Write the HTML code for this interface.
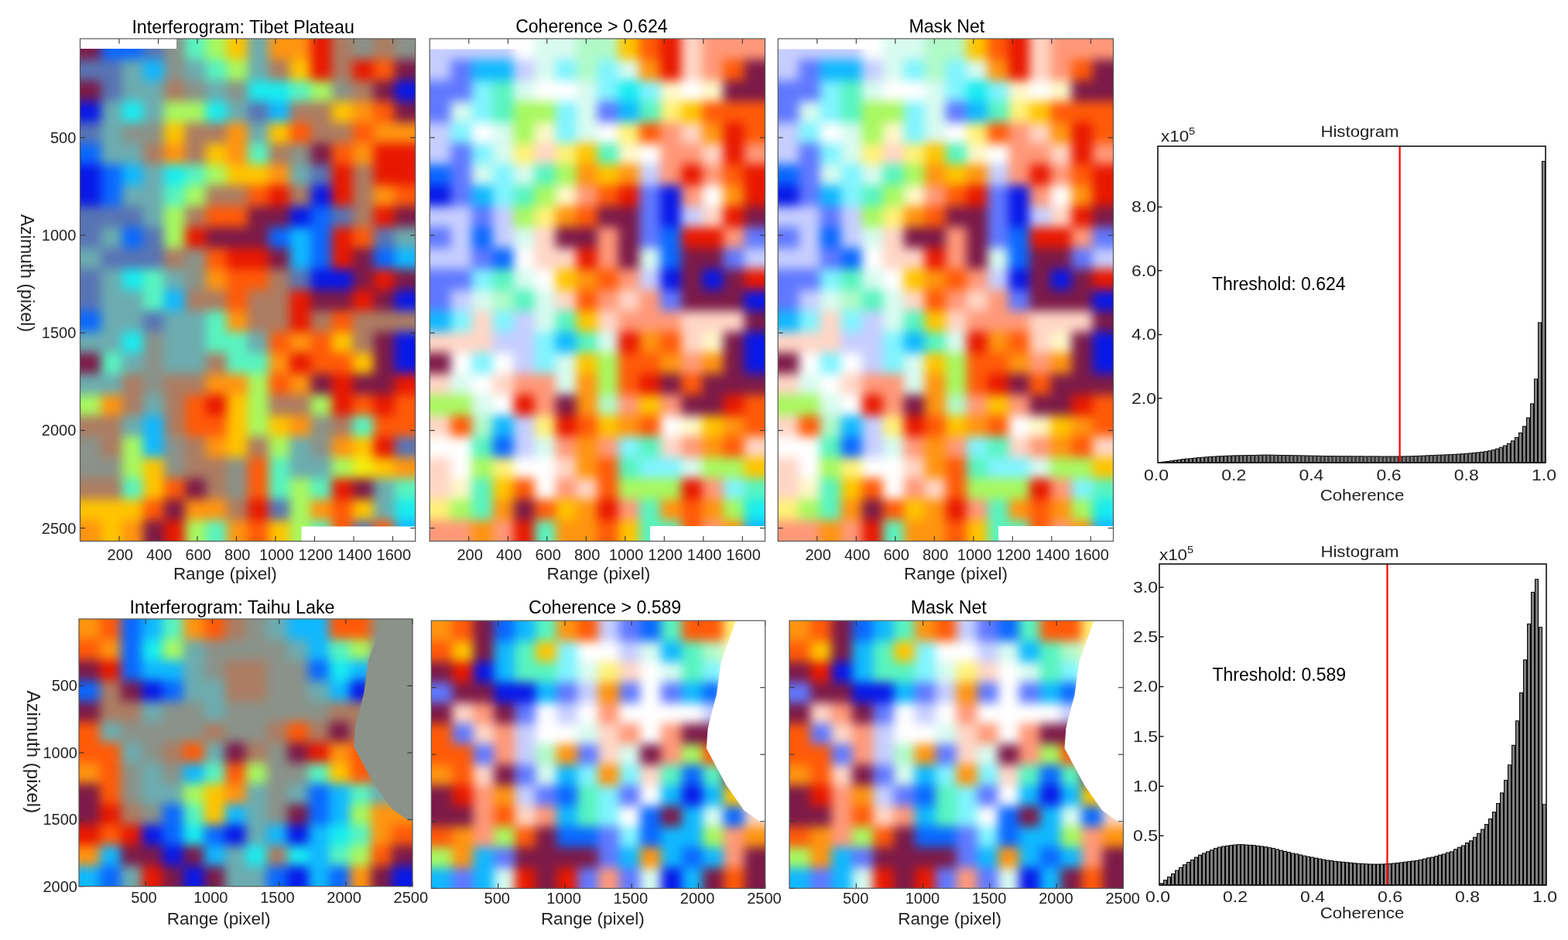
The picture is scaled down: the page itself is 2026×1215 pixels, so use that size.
<!DOCTYPE html><html><head><meta charset="utf-8"><title>Interferogram coherence masks</title><style>html,body{margin:0;padding:0;background:#fff;}body{width:2026px;height:1215px;overflow:hidden;}svg{display:block;}text{font-family:"Liberation Sans", Arial, Helvetica, sans-serif;}</style></head><body>
<svg width="2026" height="1215" viewBox="0 0 2026 1215">
<defs>
<filter id="bl3" x="-5%" y="-5%" width="110%" height="110%" color-interpolation-filters="sRGB"><feGaussianBlur stdDeviation="3"/></filter>
<filter id="bl4" x="-5%" y="-5%" width="110%" height="110%" color-interpolation-filters="sRGB"><feGaussianBlur stdDeviation="4"/></filter>
<filter id="bl5" x="-5%" y="-5%" width="110%" height="110%" color-interpolation-filters="sRGB"><feGaussianBlur stdDeviation="5"/></filter>
<filter id="bl6" x="-5%" y="-5%" width="110%" height="110%" color-interpolation-filters="sRGB"><feGaussianBlur stdDeviation="6"/></filter>
<filter id="bl7" x="-5%" y="-5%" width="110%" height="110%" color-interpolation-filters="sRGB"><feGaussianBlur stdDeviation="7"/></filter>
<filter id="bl8" x="-5%" y="-5%" width="110%" height="110%" color-interpolation-filters="sRGB"><feGaussianBlur stdDeviation="8"/></filter>
<filter id="bl10" x="-5%" y="-5%" width="110%" height="110%" color-interpolation-filters="sRGB"><feGaussianBlur stdDeviation="10"/></filter>
</defs>
<rect width="100%" height="100%" fill="#fff"/>
<clipPath id="clipP1"><rect x="103.5" y="50.0" width="433.20" height="649.50"/></clipPath>
<g clip-path="url(#clipP1)"><g filter="url(#bl7)">
<rect x="22.27" y="-31.19" width="108.90" height="27.66" fill="#7c1a48"/>
<rect x="130.57" y="-31.19" width="54.75" height="27.66" fill="#0a68ff"/>
<rect x="184.73" y="-31.19" width="27.68" height="27.66" fill="#5874b4"/>
<rect x="211.80" y="-31.19" width="27.68" height="27.66" fill="#8a9289"/>
<rect x="238.88" y="-31.19" width="27.68" height="27.66" fill="#58f4c0"/>
<rect x="265.95" y="-31.19" width="27.68" height="27.66" fill="#a8f860"/>
<rect x="293.03" y="-31.19" width="27.68" height="27.66" fill="#ffc400"/>
<rect x="320.10" y="-31.19" width="27.68" height="27.66" fill="#6cacb0"/>
<rect x="347.18" y="-31.19" width="54.75" height="27.66" fill="#ff9410"/>
<rect x="401.33" y="-31.19" width="27.68" height="27.66" fill="#e81800"/>
<rect x="428.40" y="-31.19" width="27.68" height="27.66" fill="#ac7c62"/>
<rect x="455.48" y="-31.19" width="27.68" height="27.66" fill="#8a9289"/>
<rect x="482.55" y="-31.19" width="27.68" height="27.66" fill="#ac7c62"/>
<rect x="509.63" y="-31.19" width="108.90" height="27.66" fill="#8a9289"/>
<rect x="22.27" y="-4.12" width="108.90" height="27.66" fill="#7c1a48"/>
<rect x="130.57" y="-4.12" width="54.75" height="27.66" fill="#0a68ff"/>
<rect x="184.73" y="-4.12" width="27.68" height="27.66" fill="#5874b4"/>
<rect x="211.80" y="-4.12" width="27.68" height="27.66" fill="#8a9289"/>
<rect x="238.88" y="-4.12" width="27.68" height="27.66" fill="#58f4c0"/>
<rect x="265.95" y="-4.12" width="27.68" height="27.66" fill="#a8f860"/>
<rect x="293.03" y="-4.12" width="27.68" height="27.66" fill="#ffc400"/>
<rect x="320.10" y="-4.12" width="27.68" height="27.66" fill="#6cacb0"/>
<rect x="347.18" y="-4.12" width="54.75" height="27.66" fill="#ff9410"/>
<rect x="401.33" y="-4.12" width="27.68" height="27.66" fill="#e81800"/>
<rect x="428.40" y="-4.12" width="27.68" height="27.66" fill="#ac7c62"/>
<rect x="455.48" y="-4.12" width="27.68" height="27.66" fill="#8a9289"/>
<rect x="482.55" y="-4.12" width="27.68" height="27.66" fill="#ac7c62"/>
<rect x="509.63" y="-4.12" width="108.90" height="27.66" fill="#8a9289"/>
<rect x="22.27" y="22.94" width="108.90" height="27.66" fill="#7c1a48"/>
<rect x="130.57" y="22.94" width="54.75" height="27.66" fill="#0a68ff"/>
<rect x="184.73" y="22.94" width="27.68" height="27.66" fill="#5874b4"/>
<rect x="211.80" y="22.94" width="27.68" height="27.66" fill="#8a9289"/>
<rect x="238.88" y="22.94" width="27.68" height="27.66" fill="#58f4c0"/>
<rect x="265.95" y="22.94" width="27.68" height="27.66" fill="#a8f860"/>
<rect x="293.03" y="22.94" width="27.68" height="27.66" fill="#ffc400"/>
<rect x="320.10" y="22.94" width="27.68" height="27.66" fill="#6cacb0"/>
<rect x="347.18" y="22.94" width="54.75" height="27.66" fill="#ff9410"/>
<rect x="401.33" y="22.94" width="27.68" height="27.66" fill="#e81800"/>
<rect x="428.40" y="22.94" width="27.68" height="27.66" fill="#ac7c62"/>
<rect x="455.48" y="22.94" width="27.68" height="27.66" fill="#8a9289"/>
<rect x="482.55" y="22.94" width="27.68" height="27.66" fill="#ac7c62"/>
<rect x="509.63" y="22.94" width="108.90" height="27.66" fill="#8a9289"/>
<rect x="22.27" y="50.00" width="108.90" height="27.66" fill="#7c1a48"/>
<rect x="130.57" y="50.00" width="54.75" height="27.66" fill="#0a68ff"/>
<rect x="184.73" y="50.00" width="27.68" height="27.66" fill="#5874b4"/>
<rect x="211.80" y="50.00" width="27.68" height="27.66" fill="#8a9289"/>
<rect x="238.88" y="50.00" width="27.68" height="27.66" fill="#58f4c0"/>
<rect x="265.95" y="50.00" width="27.68" height="27.66" fill="#a8f860"/>
<rect x="293.03" y="50.00" width="27.68" height="27.66" fill="#ffc400"/>
<rect x="320.10" y="50.00" width="27.68" height="27.66" fill="#6cacb0"/>
<rect x="347.18" y="50.00" width="54.75" height="27.66" fill="#ff9410"/>
<rect x="401.33" y="50.00" width="27.68" height="27.66" fill="#e81800"/>
<rect x="428.40" y="50.00" width="27.68" height="27.66" fill="#ac7c62"/>
<rect x="455.48" y="50.00" width="27.68" height="27.66" fill="#8a9289"/>
<rect x="482.55" y="50.00" width="27.68" height="27.66" fill="#ac7c62"/>
<rect x="509.63" y="50.00" width="108.90" height="27.66" fill="#8a9289"/>
<rect x="22.27" y="77.06" width="135.97" height="27.66" fill="#5874b4"/>
<rect x="157.65" y="77.06" width="27.68" height="27.66" fill="#6cacb0"/>
<rect x="184.73" y="77.06" width="27.68" height="27.66" fill="#10b8ff"/>
<rect x="211.80" y="77.06" width="27.68" height="27.66" fill="#8a9289"/>
<rect x="238.88" y="77.06" width="27.68" height="27.66" fill="#6cacb0"/>
<rect x="265.95" y="77.06" width="27.68" height="27.66" fill="#58f4c0"/>
<rect x="293.03" y="77.06" width="27.68" height="27.66" fill="#a8f860"/>
<rect x="320.10" y="77.06" width="27.68" height="27.66" fill="#6cacb0"/>
<rect x="347.18" y="77.06" width="27.68" height="27.66" fill="#ac7c62"/>
<rect x="374.25" y="77.06" width="27.68" height="27.66" fill="#ffc400"/>
<rect x="401.33" y="77.06" width="27.68" height="27.66" fill="#e81800"/>
<rect x="428.40" y="77.06" width="27.68" height="27.66" fill="#ac7c62"/>
<rect x="455.48" y="77.06" width="27.68" height="27.66" fill="#e81800"/>
<rect x="482.55" y="77.06" width="27.68" height="27.66" fill="#ff5a08"/>
<rect x="509.63" y="77.06" width="108.90" height="27.66" fill="#7c1a48"/>
<rect x="22.27" y="104.12" width="108.90" height="27.66" fill="#7c1a48"/>
<rect x="130.57" y="104.12" width="27.68" height="27.66" fill="#5874b4"/>
<rect x="157.65" y="104.12" width="54.75" height="27.66" fill="#6cacb0"/>
<rect x="211.80" y="104.12" width="27.68" height="27.66" fill="#ac7c62"/>
<rect x="238.88" y="104.12" width="27.68" height="27.66" fill="#8a9289"/>
<rect x="265.95" y="104.12" width="27.68" height="27.66" fill="#6cacb0"/>
<rect x="293.03" y="104.12" width="27.68" height="27.66" fill="#8a9289"/>
<rect x="320.10" y="104.12" width="54.75" height="27.66" fill="#18ecf0"/>
<rect x="374.25" y="104.12" width="27.68" height="27.66" fill="#58f4c0"/>
<rect x="401.33" y="104.12" width="27.68" height="27.66" fill="#a8f860"/>
<rect x="428.40" y="104.12" width="27.68" height="27.66" fill="#8a9289"/>
<rect x="455.48" y="104.12" width="27.68" height="27.66" fill="#ac7c62"/>
<rect x="482.55" y="104.12" width="27.68" height="27.66" fill="#7c1a48"/>
<rect x="509.63" y="104.12" width="108.90" height="27.66" fill="#0818e8"/>
<rect x="22.27" y="131.19" width="108.90" height="27.66" fill="#0818e8"/>
<rect x="130.57" y="131.19" width="27.68" height="27.66" fill="#6cacb0"/>
<rect x="157.65" y="131.19" width="27.68" height="27.66" fill="#18ecf0"/>
<rect x="184.73" y="131.19" width="27.68" height="27.66" fill="#6cacb0"/>
<rect x="211.80" y="131.19" width="54.75" height="27.66" fill="#a8f860"/>
<rect x="265.95" y="131.19" width="27.68" height="27.66" fill="#18ecf0"/>
<rect x="293.03" y="131.19" width="27.68" height="27.66" fill="#6cacb0"/>
<rect x="320.10" y="131.19" width="27.68" height="27.66" fill="#5874b4"/>
<rect x="347.18" y="131.19" width="27.68" height="27.66" fill="#10b8ff"/>
<rect x="374.25" y="131.19" width="54.75" height="27.66" fill="#ac7c62"/>
<rect x="428.40" y="131.19" width="27.68" height="27.66" fill="#ffc400"/>
<rect x="455.48" y="131.19" width="27.68" height="27.66" fill="#ff9410"/>
<rect x="482.55" y="131.19" width="27.68" height="27.66" fill="#ff5a08"/>
<rect x="509.63" y="131.19" width="108.90" height="27.66" fill="#7c1a48"/>
<rect x="22.27" y="158.25" width="108.90" height="27.66" fill="#5874b4"/>
<rect x="130.57" y="158.25" width="27.68" height="27.66" fill="#6cacb0"/>
<rect x="157.65" y="158.25" width="54.75" height="27.66" fill="#8a9289"/>
<rect x="211.80" y="158.25" width="27.68" height="27.66" fill="#ffc400"/>
<rect x="238.88" y="158.25" width="54.75" height="27.66" fill="#ac7c62"/>
<rect x="293.03" y="158.25" width="27.68" height="27.66" fill="#ff9410"/>
<rect x="320.10" y="158.25" width="27.68" height="27.66" fill="#6cacb0"/>
<rect x="347.18" y="158.25" width="27.68" height="27.66" fill="#ffc400"/>
<rect x="374.25" y="158.25" width="27.68" height="27.66" fill="#ff5a08"/>
<rect x="401.33" y="158.25" width="54.75" height="27.66" fill="#ac7c62"/>
<rect x="455.48" y="158.25" width="27.68" height="27.66" fill="#ff5a08"/>
<rect x="482.55" y="158.25" width="135.97" height="27.66" fill="#ff9410"/>
<rect x="22.27" y="185.31" width="108.90" height="27.66" fill="#0a68ff"/>
<rect x="130.57" y="185.31" width="54.75" height="27.66" fill="#6cacb0"/>
<rect x="184.73" y="185.31" width="27.68" height="27.66" fill="#ac7c62"/>
<rect x="211.80" y="185.31" width="27.68" height="27.66" fill="#ff9410"/>
<rect x="238.88" y="185.31" width="27.68" height="27.66" fill="#ac7c62"/>
<rect x="265.95" y="185.31" width="27.68" height="27.66" fill="#ffc400"/>
<rect x="293.03" y="185.31" width="27.68" height="27.66" fill="#ff9410"/>
<rect x="320.10" y="185.31" width="27.68" height="27.66" fill="#58f4c0"/>
<rect x="347.18" y="185.31" width="27.68" height="27.66" fill="#ac7c62"/>
<rect x="374.25" y="185.31" width="27.68" height="27.66" fill="#8a9289"/>
<rect x="401.33" y="185.31" width="27.68" height="27.66" fill="#7c1a48"/>
<rect x="428.40" y="185.31" width="27.68" height="27.66" fill="#ff5a08"/>
<rect x="455.48" y="185.31" width="27.68" height="27.66" fill="#ff9410"/>
<rect x="482.55" y="185.31" width="135.97" height="27.66" fill="#e81800"/>
<rect x="22.27" y="212.38" width="108.90" height="27.66" fill="#0818e8"/>
<rect x="130.57" y="212.38" width="27.68" height="27.66" fill="#0a68ff"/>
<rect x="157.65" y="212.38" width="27.68" height="27.66" fill="#10b8ff"/>
<rect x="184.73" y="212.38" width="27.68" height="27.66" fill="#6cacb0"/>
<rect x="211.80" y="212.38" width="27.68" height="27.66" fill="#18ecf0"/>
<rect x="238.88" y="212.38" width="27.68" height="27.66" fill="#58f4c0"/>
<rect x="265.95" y="212.38" width="27.68" height="27.66" fill="#a8f860"/>
<rect x="293.03" y="212.38" width="54.75" height="27.66" fill="#ffc400"/>
<rect x="347.18" y="212.38" width="27.68" height="27.66" fill="#ff9410"/>
<rect x="374.25" y="212.38" width="27.68" height="27.66" fill="#6cacb0"/>
<rect x="401.33" y="212.38" width="27.68" height="27.66" fill="#5874b4"/>
<rect x="428.40" y="212.38" width="27.68" height="27.66" fill="#e81800"/>
<rect x="455.48" y="212.38" width="27.68" height="27.66" fill="#ac7c62"/>
<rect x="482.55" y="212.38" width="135.97" height="27.66" fill="#e81800"/>
<rect x="22.27" y="239.44" width="108.90" height="27.66" fill="#0818e8"/>
<rect x="130.57" y="239.44" width="27.68" height="27.66" fill="#0a68ff"/>
<rect x="157.65" y="239.44" width="54.75" height="27.66" fill="#6cacb0"/>
<rect x="211.80" y="239.44" width="27.68" height="27.66" fill="#58f4c0"/>
<rect x="238.88" y="239.44" width="27.68" height="27.66" fill="#a8f860"/>
<rect x="265.95" y="239.44" width="54.75" height="27.66" fill="#ac7c62"/>
<rect x="320.10" y="239.44" width="27.68" height="27.66" fill="#ff5a08"/>
<rect x="347.18" y="239.44" width="27.68" height="27.66" fill="#e81800"/>
<rect x="374.25" y="239.44" width="27.68" height="27.66" fill="#ac7c62"/>
<rect x="401.33" y="239.44" width="27.68" height="27.66" fill="#0818e8"/>
<rect x="428.40" y="239.44" width="27.68" height="27.66" fill="#e81800"/>
<rect x="455.48" y="239.44" width="27.68" height="27.66" fill="#ac7c62"/>
<rect x="482.55" y="239.44" width="27.68" height="27.66" fill="#ff9410"/>
<rect x="509.63" y="239.44" width="108.90" height="27.66" fill="#ff5a08"/>
<rect x="22.27" y="266.50" width="163.05" height="27.66" fill="#5874b4"/>
<rect x="184.73" y="266.50" width="27.68" height="27.66" fill="#6cacb0"/>
<rect x="211.80" y="266.50" width="27.68" height="27.66" fill="#a8f860"/>
<rect x="238.88" y="266.50" width="27.68" height="27.66" fill="#ac7c62"/>
<rect x="265.95" y="266.50" width="54.75" height="27.66" fill="#ff5a08"/>
<rect x="320.10" y="266.50" width="54.75" height="27.66" fill="#7c1a48"/>
<rect x="374.25" y="266.50" width="27.68" height="27.66" fill="#0818e8"/>
<rect x="401.33" y="266.50" width="27.68" height="27.66" fill="#0a68ff"/>
<rect x="428.40" y="266.50" width="27.68" height="27.66" fill="#5874b4"/>
<rect x="455.48" y="266.50" width="27.68" height="27.66" fill="#ac7c62"/>
<rect x="482.55" y="266.50" width="27.68" height="27.66" fill="#e81800"/>
<rect x="509.63" y="266.50" width="108.90" height="27.66" fill="#7c1a48"/>
<rect x="22.27" y="293.56" width="108.90" height="27.66" fill="#5874b4"/>
<rect x="130.57" y="293.56" width="27.68" height="27.66" fill="#6cacb0"/>
<rect x="157.65" y="293.56" width="27.68" height="27.66" fill="#0a68ff"/>
<rect x="184.73" y="293.56" width="27.68" height="27.66" fill="#5874b4"/>
<rect x="211.80" y="293.56" width="27.68" height="27.66" fill="#a8f860"/>
<rect x="238.88" y="293.56" width="27.68" height="27.66" fill="#e81800"/>
<rect x="265.95" y="293.56" width="81.83" height="27.66" fill="#7c1a48"/>
<rect x="347.18" y="293.56" width="27.68" height="27.66" fill="#0a68ff"/>
<rect x="374.25" y="293.56" width="27.68" height="27.66" fill="#10b8ff"/>
<rect x="401.33" y="293.56" width="27.68" height="27.66" fill="#0a68ff"/>
<rect x="428.40" y="293.56" width="27.68" height="27.66" fill="#e81800"/>
<rect x="455.48" y="293.56" width="27.68" height="27.66" fill="#ff5a08"/>
<rect x="482.55" y="293.56" width="27.68" height="27.66" fill="#5874b4"/>
<rect x="509.63" y="293.56" width="108.90" height="27.66" fill="#6cacb0"/>
<rect x="22.27" y="320.62" width="108.90" height="27.66" fill="#6cacb0"/>
<rect x="130.57" y="320.62" width="81.83" height="27.66" fill="#5874b4"/>
<rect x="211.80" y="320.62" width="27.68" height="27.66" fill="#ac7c62"/>
<rect x="238.88" y="320.62" width="27.68" height="27.66" fill="#8a9289"/>
<rect x="265.95" y="320.62" width="27.68" height="27.66" fill="#ff5a08"/>
<rect x="293.03" y="320.62" width="54.75" height="27.66" fill="#e81800"/>
<rect x="347.18" y="320.62" width="27.68" height="27.66" fill="#7c1a48"/>
<rect x="374.25" y="320.62" width="27.68" height="27.66" fill="#10b8ff"/>
<rect x="401.33" y="320.62" width="27.68" height="27.66" fill="#0a68ff"/>
<rect x="428.40" y="320.62" width="27.68" height="27.66" fill="#e81800"/>
<rect x="455.48" y="320.62" width="27.68" height="27.66" fill="#7c1a48"/>
<rect x="482.55" y="320.62" width="27.68" height="27.66" fill="#0a68ff"/>
<rect x="509.63" y="320.62" width="108.90" height="27.66" fill="#10b8ff"/>
<rect x="22.27" y="347.69" width="108.90" height="27.66" fill="#5874b4"/>
<rect x="130.57" y="347.69" width="27.68" height="27.66" fill="#6cacb0"/>
<rect x="157.65" y="347.69" width="27.68" height="27.66" fill="#18ecf0"/>
<rect x="184.73" y="347.69" width="27.68" height="27.66" fill="#58f4c0"/>
<rect x="211.80" y="347.69" width="27.68" height="27.66" fill="#6cacb0"/>
<rect x="238.88" y="347.69" width="27.68" height="27.66" fill="#8a9289"/>
<rect x="265.95" y="347.69" width="27.68" height="27.66" fill="#ff9410"/>
<rect x="293.03" y="347.69" width="54.75" height="27.66" fill="#ff5a08"/>
<rect x="347.18" y="347.69" width="27.68" height="27.66" fill="#ac7c62"/>
<rect x="374.25" y="347.69" width="27.68" height="27.66" fill="#5874b4"/>
<rect x="401.33" y="347.69" width="54.75" height="27.66" fill="#0818e8"/>
<rect x="455.48" y="347.69" width="27.68" height="27.66" fill="#7c1a48"/>
<rect x="482.55" y="347.69" width="27.68" height="27.66" fill="#e81800"/>
<rect x="509.63" y="347.69" width="108.90" height="27.66" fill="#7c1a48"/>
<rect x="22.27" y="374.75" width="108.90" height="27.66" fill="#5874b4"/>
<rect x="130.57" y="374.75" width="54.75" height="27.66" fill="#6cacb0"/>
<rect x="184.73" y="374.75" width="27.68" height="27.66" fill="#58f4c0"/>
<rect x="211.80" y="374.75" width="27.68" height="27.66" fill="#10b8ff"/>
<rect x="238.88" y="374.75" width="54.75" height="27.66" fill="#ac7c62"/>
<rect x="293.03" y="374.75" width="27.68" height="27.66" fill="#ff5a08"/>
<rect x="320.10" y="374.75" width="54.75" height="27.66" fill="#ac7c62"/>
<rect x="374.25" y="374.75" width="27.68" height="27.66" fill="#e81800"/>
<rect x="401.33" y="374.75" width="54.75" height="27.66" fill="#7c1a48"/>
<rect x="455.48" y="374.75" width="27.68" height="27.66" fill="#e81800"/>
<rect x="482.55" y="374.75" width="27.68" height="27.66" fill="#7c1a48"/>
<rect x="509.63" y="374.75" width="108.90" height="27.66" fill="#0818e8"/>
<rect x="22.27" y="401.81" width="108.90" height="27.66" fill="#0a68ff"/>
<rect x="130.57" y="401.81" width="54.75" height="27.66" fill="#6cacb0"/>
<rect x="184.73" y="401.81" width="27.68" height="27.66" fill="#5874b4"/>
<rect x="211.80" y="401.81" width="54.75" height="27.66" fill="#6cacb0"/>
<rect x="265.95" y="401.81" width="27.68" height="27.66" fill="#58f4c0"/>
<rect x="293.03" y="401.81" width="27.68" height="27.66" fill="#ff9410"/>
<rect x="320.10" y="401.81" width="54.75" height="27.66" fill="#ac7c62"/>
<rect x="374.25" y="401.81" width="27.68" height="27.66" fill="#e81800"/>
<rect x="401.33" y="401.81" width="27.68" height="27.66" fill="#ac7c62"/>
<rect x="428.40" y="401.81" width="27.68" height="27.66" fill="#ff5a08"/>
<rect x="455.48" y="401.81" width="163.05" height="27.66" fill="#ac7c62"/>
<rect x="22.27" y="428.88" width="135.97" height="27.66" fill="#6cacb0"/>
<rect x="157.65" y="428.88" width="27.68" height="27.66" fill="#18ecf0"/>
<rect x="184.73" y="428.88" width="27.68" height="27.66" fill="#8a9289"/>
<rect x="211.80" y="428.88" width="54.75" height="27.66" fill="#6cacb0"/>
<rect x="265.95" y="428.88" width="54.75" height="27.66" fill="#58f4c0"/>
<rect x="320.10" y="428.88" width="27.68" height="27.66" fill="#6cacb0"/>
<rect x="347.18" y="428.88" width="27.68" height="27.66" fill="#ff5a08"/>
<rect x="374.25" y="428.88" width="27.68" height="27.66" fill="#ff9410"/>
<rect x="401.33" y="428.88" width="27.68" height="27.66" fill="#ff5a08"/>
<rect x="428.40" y="428.88" width="27.68" height="27.66" fill="#ffc400"/>
<rect x="455.48" y="428.88" width="27.68" height="27.66" fill="#ac7c62"/>
<rect x="482.55" y="428.88" width="27.68" height="27.66" fill="#7c1a48"/>
<rect x="509.63" y="428.88" width="108.90" height="27.66" fill="#0818e8"/>
<rect x="22.27" y="455.94" width="108.90" height="27.66" fill="#7c1a48"/>
<rect x="130.57" y="455.94" width="27.68" height="27.66" fill="#58f4c0"/>
<rect x="157.65" y="455.94" width="27.68" height="27.66" fill="#6cacb0"/>
<rect x="184.73" y="455.94" width="27.68" height="27.66" fill="#8a9289"/>
<rect x="211.80" y="455.94" width="54.75" height="27.66" fill="#6cacb0"/>
<rect x="265.95" y="455.94" width="27.68" height="27.66" fill="#ac7c62"/>
<rect x="293.03" y="455.94" width="54.75" height="27.66" fill="#58f4c0"/>
<rect x="347.18" y="455.94" width="27.68" height="27.66" fill="#ff9410"/>
<rect x="374.25" y="455.94" width="27.68" height="27.66" fill="#e81800"/>
<rect x="401.33" y="455.94" width="54.75" height="27.66" fill="#ff5a08"/>
<rect x="455.48" y="455.94" width="27.68" height="27.66" fill="#ffc400"/>
<rect x="482.55" y="455.94" width="27.68" height="27.66" fill="#7c1a48"/>
<rect x="509.63" y="455.94" width="108.90" height="27.66" fill="#0818e8"/>
<rect x="22.27" y="483.00" width="135.97" height="27.66" fill="#6cacb0"/>
<rect x="157.65" y="483.00" width="27.68" height="27.66" fill="#ac7c62"/>
<rect x="184.73" y="483.00" width="27.68" height="27.66" fill="#8a9289"/>
<rect x="211.80" y="483.00" width="54.75" height="27.66" fill="#ac7c62"/>
<rect x="265.95" y="483.00" width="54.75" height="27.66" fill="#ff9410"/>
<rect x="320.10" y="483.00" width="27.68" height="27.66" fill="#a8f860"/>
<rect x="347.18" y="483.00" width="27.68" height="27.66" fill="#ff5a08"/>
<rect x="374.25" y="483.00" width="27.68" height="27.66" fill="#ff9410"/>
<rect x="401.33" y="483.00" width="27.68" height="27.66" fill="#7c1a48"/>
<rect x="428.40" y="483.00" width="27.68" height="27.66" fill="#e81800"/>
<rect x="455.48" y="483.00" width="54.75" height="27.66" fill="#7c1a48"/>
<rect x="509.63" y="483.00" width="108.90" height="27.66" fill="#e81800"/>
<rect x="22.27" y="510.06" width="108.90" height="27.66" fill="#a8f860"/>
<rect x="130.57" y="510.06" width="27.68" height="27.66" fill="#ff9410"/>
<rect x="157.65" y="510.06" width="27.68" height="27.66" fill="#ac7c62"/>
<rect x="184.73" y="510.06" width="27.68" height="27.66" fill="#6cacb0"/>
<rect x="211.80" y="510.06" width="27.68" height="27.66" fill="#ac7c62"/>
<rect x="238.88" y="510.06" width="27.68" height="27.66" fill="#ff5a08"/>
<rect x="265.95" y="510.06" width="27.68" height="27.66" fill="#e81800"/>
<rect x="293.03" y="510.06" width="27.68" height="27.66" fill="#ffc400"/>
<rect x="320.10" y="510.06" width="27.68" height="27.66" fill="#a8f860"/>
<rect x="347.18" y="510.06" width="54.75" height="27.66" fill="#ac7c62"/>
<rect x="401.33" y="510.06" width="27.68" height="27.66" fill="#a8f860"/>
<rect x="428.40" y="510.06" width="27.68" height="27.66" fill="#e81800"/>
<rect x="455.48" y="510.06" width="27.68" height="27.66" fill="#ff5a08"/>
<rect x="482.55" y="510.06" width="27.68" height="27.66" fill="#e81800"/>
<rect x="509.63" y="510.06" width="108.90" height="27.66" fill="#ff5a08"/>
<rect x="22.27" y="537.12" width="135.97" height="27.66" fill="#ac7c62"/>
<rect x="157.65" y="537.12" width="27.68" height="27.66" fill="#6cacb0"/>
<rect x="184.73" y="537.12" width="27.68" height="27.66" fill="#10b8ff"/>
<rect x="211.80" y="537.12" width="27.68" height="27.66" fill="#ac7c62"/>
<rect x="238.88" y="537.12" width="54.75" height="27.66" fill="#ff5a08"/>
<rect x="293.03" y="537.12" width="27.68" height="27.66" fill="#ffc400"/>
<rect x="320.10" y="537.12" width="27.68" height="27.66" fill="#a8f860"/>
<rect x="347.18" y="537.12" width="27.68" height="27.66" fill="#ffc400"/>
<rect x="374.25" y="537.12" width="27.68" height="27.66" fill="#ff9410"/>
<rect x="401.33" y="537.12" width="27.68" height="27.66" fill="#8a9289"/>
<rect x="428.40" y="537.12" width="27.68" height="27.66" fill="#ac7c62"/>
<rect x="455.48" y="537.12" width="27.68" height="27.66" fill="#58f4c0"/>
<rect x="482.55" y="537.12" width="135.97" height="27.66" fill="#ff5a08"/>
<rect x="22.27" y="564.19" width="108.90" height="27.66" fill="#8a9289"/>
<rect x="130.57" y="564.19" width="27.68" height="27.66" fill="#ac7c62"/>
<rect x="157.65" y="564.19" width="27.68" height="27.66" fill="#a8f860"/>
<rect x="184.73" y="564.19" width="27.68" height="27.66" fill="#10b8ff"/>
<rect x="211.80" y="564.19" width="27.68" height="27.66" fill="#8a9289"/>
<rect x="238.88" y="564.19" width="27.68" height="27.66" fill="#ac7c62"/>
<rect x="265.95" y="564.19" width="27.68" height="27.66" fill="#ff9410"/>
<rect x="293.03" y="564.19" width="27.68" height="27.66" fill="#ffc400"/>
<rect x="320.10" y="564.19" width="27.68" height="27.66" fill="#ac7c62"/>
<rect x="347.18" y="564.19" width="27.68" height="27.66" fill="#a8f860"/>
<rect x="374.25" y="564.19" width="27.68" height="27.66" fill="#6cacb0"/>
<rect x="401.33" y="564.19" width="27.68" height="27.66" fill="#8a9289"/>
<rect x="428.40" y="564.19" width="27.68" height="27.66" fill="#ff9410"/>
<rect x="455.48" y="564.19" width="27.68" height="27.66" fill="#ffc400"/>
<rect x="482.55" y="564.19" width="27.68" height="27.66" fill="#e81800"/>
<rect x="509.63" y="564.19" width="108.90" height="27.66" fill="#5874b4"/>
<rect x="22.27" y="591.25" width="135.97" height="27.66" fill="#8a9289"/>
<rect x="157.65" y="591.25" width="27.68" height="27.66" fill="#a8f860"/>
<rect x="184.73" y="591.25" width="27.68" height="27.66" fill="#ffc400"/>
<rect x="211.80" y="591.25" width="27.68" height="27.66" fill="#8a9289"/>
<rect x="238.88" y="591.25" width="54.75" height="27.66" fill="#ac7c62"/>
<rect x="293.03" y="591.25" width="27.68" height="27.66" fill="#8a9289"/>
<rect x="320.10" y="591.25" width="27.68" height="27.66" fill="#ff5a08"/>
<rect x="347.18" y="591.25" width="27.68" height="27.66" fill="#58f4c0"/>
<rect x="374.25" y="591.25" width="54.75" height="27.66" fill="#6cacb0"/>
<rect x="428.40" y="591.25" width="27.68" height="27.66" fill="#a8f860"/>
<rect x="455.48" y="591.25" width="27.68" height="27.66" fill="#f4ee10"/>
<rect x="482.55" y="591.25" width="27.68" height="27.66" fill="#ffc400"/>
<rect x="509.63" y="591.25" width="108.90" height="27.66" fill="#ff9410"/>
<rect x="22.27" y="618.31" width="135.97" height="27.66" fill="#ac7c62"/>
<rect x="157.65" y="618.31" width="27.68" height="27.66" fill="#58f4c0"/>
<rect x="184.73" y="618.31" width="27.68" height="27.66" fill="#ffc400"/>
<rect x="211.80" y="618.31" width="27.68" height="27.66" fill="#ff5a08"/>
<rect x="238.88" y="618.31" width="27.68" height="27.66" fill="#7c1a48"/>
<rect x="265.95" y="618.31" width="27.68" height="27.66" fill="#ac7c62"/>
<rect x="293.03" y="618.31" width="27.68" height="27.66" fill="#8a9289"/>
<rect x="320.10" y="618.31" width="27.68" height="27.66" fill="#ff5a08"/>
<rect x="347.18" y="618.31" width="27.68" height="27.66" fill="#58f4c0"/>
<rect x="374.25" y="618.31" width="27.68" height="27.66" fill="#a8f860"/>
<rect x="401.33" y="618.31" width="27.68" height="27.66" fill="#58f4c0"/>
<rect x="428.40" y="618.31" width="27.68" height="27.66" fill="#e81800"/>
<rect x="455.48" y="618.31" width="27.68" height="27.66" fill="#7c1a48"/>
<rect x="482.55" y="618.31" width="27.68" height="27.66" fill="#6cacb0"/>
<rect x="509.63" y="618.31" width="108.90" height="27.66" fill="#58f4c0"/>
<rect x="22.27" y="645.38" width="163.05" height="27.66" fill="#ffc400"/>
<rect x="184.73" y="645.38" width="27.68" height="27.66" fill="#ff5a08"/>
<rect x="211.80" y="645.38" width="27.68" height="27.66" fill="#7c1a48"/>
<rect x="238.88" y="645.38" width="54.75" height="27.66" fill="#ff9410"/>
<rect x="293.03" y="645.38" width="27.68" height="27.66" fill="#ac7c62"/>
<rect x="320.10" y="645.38" width="27.68" height="27.66" fill="#e81800"/>
<rect x="347.18" y="645.38" width="27.68" height="27.66" fill="#5874b4"/>
<rect x="374.25" y="645.38" width="27.68" height="27.66" fill="#a8f860"/>
<rect x="401.33" y="645.38" width="27.68" height="27.66" fill="#ff9410"/>
<rect x="428.40" y="645.38" width="27.68" height="27.66" fill="#ff5a08"/>
<rect x="455.48" y="645.38" width="27.68" height="27.66" fill="#ffc400"/>
<rect x="482.55" y="645.38" width="27.68" height="27.66" fill="#6cacb0"/>
<rect x="509.63" y="645.38" width="108.90" height="27.66" fill="#18ecf0"/>
<rect x="22.27" y="672.44" width="108.90" height="27.66" fill="#ff9410"/>
<rect x="130.57" y="672.44" width="27.68" height="27.66" fill="#ffc400"/>
<rect x="157.65" y="672.44" width="27.68" height="27.66" fill="#ff9410"/>
<rect x="184.73" y="672.44" width="27.68" height="27.66" fill="#7c1a48"/>
<rect x="211.80" y="672.44" width="27.68" height="27.66" fill="#e81800"/>
<rect x="238.88" y="672.44" width="27.68" height="27.66" fill="#a8f860"/>
<rect x="265.95" y="672.44" width="27.68" height="27.66" fill="#58f4c0"/>
<rect x="293.03" y="672.44" width="27.68" height="27.66" fill="#ff9410"/>
<rect x="320.10" y="672.44" width="27.68" height="27.66" fill="#ff5a08"/>
<rect x="347.18" y="672.44" width="27.68" height="27.66" fill="#ffc400"/>
<rect x="374.25" y="672.44" width="27.68" height="27.66" fill="#a8f860"/>
<rect x="401.33" y="672.44" width="27.68" height="27.66" fill="#58f4c0"/>
<rect x="428.40" y="672.44" width="27.68" height="27.66" fill="#ff5a08"/>
<rect x="455.48" y="672.44" width="27.68" height="27.66" fill="#5874b4"/>
<rect x="482.55" y="672.44" width="27.68" height="27.66" fill="#ff5a08"/>
<rect x="509.63" y="672.44" width="108.90" height="27.66" fill="#10b8ff"/>
<rect x="22.27" y="699.50" width="108.90" height="27.66" fill="#ff9410"/>
<rect x="130.57" y="699.50" width="27.68" height="27.66" fill="#ffc400"/>
<rect x="157.65" y="699.50" width="27.68" height="27.66" fill="#ff9410"/>
<rect x="184.73" y="699.50" width="27.68" height="27.66" fill="#7c1a48"/>
<rect x="211.80" y="699.50" width="27.68" height="27.66" fill="#e81800"/>
<rect x="238.88" y="699.50" width="27.68" height="27.66" fill="#a8f860"/>
<rect x="265.95" y="699.50" width="27.68" height="27.66" fill="#58f4c0"/>
<rect x="293.03" y="699.50" width="27.68" height="27.66" fill="#ff9410"/>
<rect x="320.10" y="699.50" width="27.68" height="27.66" fill="#ff5a08"/>
<rect x="347.18" y="699.50" width="27.68" height="27.66" fill="#ffc400"/>
<rect x="374.25" y="699.50" width="27.68" height="27.66" fill="#a8f860"/>
<rect x="401.33" y="699.50" width="27.68" height="27.66" fill="#58f4c0"/>
<rect x="428.40" y="699.50" width="27.68" height="27.66" fill="#ff5a08"/>
<rect x="455.48" y="699.50" width="27.68" height="27.66" fill="#5874b4"/>
<rect x="482.55" y="699.50" width="27.68" height="27.66" fill="#ff5a08"/>
<rect x="509.63" y="699.50" width="108.90" height="27.66" fill="#10b8ff"/>
<rect x="22.27" y="726.56" width="108.90" height="27.66" fill="#ff9410"/>
<rect x="130.57" y="726.56" width="27.68" height="27.66" fill="#ffc400"/>
<rect x="157.65" y="726.56" width="27.68" height="27.66" fill="#ff9410"/>
<rect x="184.73" y="726.56" width="27.68" height="27.66" fill="#7c1a48"/>
<rect x="211.80" y="726.56" width="27.68" height="27.66" fill="#e81800"/>
<rect x="238.88" y="726.56" width="27.68" height="27.66" fill="#a8f860"/>
<rect x="265.95" y="726.56" width="27.68" height="27.66" fill="#58f4c0"/>
<rect x="293.03" y="726.56" width="27.68" height="27.66" fill="#ff9410"/>
<rect x="320.10" y="726.56" width="27.68" height="27.66" fill="#ff5a08"/>
<rect x="347.18" y="726.56" width="27.68" height="27.66" fill="#ffc400"/>
<rect x="374.25" y="726.56" width="27.68" height="27.66" fill="#a8f860"/>
<rect x="401.33" y="726.56" width="27.68" height="27.66" fill="#58f4c0"/>
<rect x="428.40" y="726.56" width="27.68" height="27.66" fill="#ff5a08"/>
<rect x="455.48" y="726.56" width="27.68" height="27.66" fill="#5874b4"/>
<rect x="482.55" y="726.56" width="27.68" height="27.66" fill="#ff5a08"/>
<rect x="509.63" y="726.56" width="108.90" height="27.66" fill="#10b8ff"/>
<rect x="22.27" y="753.62" width="108.90" height="27.66" fill="#ff9410"/>
<rect x="130.57" y="753.62" width="27.68" height="27.66" fill="#ffc400"/>
<rect x="157.65" y="753.62" width="27.68" height="27.66" fill="#ff9410"/>
<rect x="184.73" y="753.62" width="27.68" height="27.66" fill="#7c1a48"/>
<rect x="211.80" y="753.62" width="27.68" height="27.66" fill="#e81800"/>
<rect x="238.88" y="753.62" width="27.68" height="27.66" fill="#a8f860"/>
<rect x="265.95" y="753.62" width="27.68" height="27.66" fill="#58f4c0"/>
<rect x="293.03" y="753.62" width="27.68" height="27.66" fill="#ff9410"/>
<rect x="320.10" y="753.62" width="27.68" height="27.66" fill="#ff5a08"/>
<rect x="347.18" y="753.62" width="27.68" height="27.66" fill="#ffc400"/>
<rect x="374.25" y="753.62" width="27.68" height="27.66" fill="#a8f860"/>
<rect x="401.33" y="753.62" width="27.68" height="27.66" fill="#58f4c0"/>
<rect x="428.40" y="753.62" width="27.68" height="27.66" fill="#ff5a08"/>
<rect x="455.48" y="753.62" width="27.68" height="27.66" fill="#5874b4"/>
<rect x="482.55" y="753.62" width="27.68" height="27.66" fill="#ff5a08"/>
<rect x="509.63" y="753.62" width="108.90" height="27.66" fill="#10b8ff"/>
</g>
<rect x="103" y="49.5" width="125" height="13.5" fill="#fff"/>
<rect x="389.6" y="680.5" width="150" height="20" fill="#fff"/>
</g>
<clipPath id="clipP2"><rect x="555.2" y="50.0" width="433.30" height="649.50"/></clipPath>
<g clip-path="url(#clipP2)"><g filter="url(#bl7)">
<rect x="473.96" y="-31.19" width="190.17" height="27.66" fill="#c6ceff"/>
<rect x="663.53" y="-31.19" width="27.68" height="27.66" fill="#ffffff"/>
<rect x="690.61" y="-31.19" width="54.76" height="27.66" fill="#d8fbf0"/>
<rect x="744.77" y="-31.19" width="54.76" height="27.66" fill="#b0fac8"/>
<rect x="798.93" y="-31.19" width="27.68" height="27.66" fill="#ffc400"/>
<rect x="826.01" y="-31.19" width="27.68" height="27.66" fill="#ff5a08"/>
<rect x="853.09" y="-31.19" width="27.68" height="27.66" fill="#e81800"/>
<rect x="880.17" y="-31.19" width="27.68" height="27.66" fill="#ffd6c6"/>
<rect x="907.26" y="-31.19" width="163.09" height="27.66" fill="#ff9878"/>
<rect x="473.96" y="-4.12" width="190.17" height="27.66" fill="#c6ceff"/>
<rect x="663.53" y="-4.12" width="27.68" height="27.66" fill="#ffffff"/>
<rect x="690.61" y="-4.12" width="54.76" height="27.66" fill="#d8fbf0"/>
<rect x="744.77" y="-4.12" width="54.76" height="27.66" fill="#b0fac8"/>
<rect x="798.93" y="-4.12" width="27.68" height="27.66" fill="#ffc400"/>
<rect x="826.01" y="-4.12" width="27.68" height="27.66" fill="#ff5a08"/>
<rect x="853.09" y="-4.12" width="27.68" height="27.66" fill="#e81800"/>
<rect x="880.17" y="-4.12" width="27.68" height="27.66" fill="#ffd6c6"/>
<rect x="907.26" y="-4.12" width="163.09" height="27.66" fill="#ff9878"/>
<rect x="473.96" y="22.94" width="190.17" height="27.66" fill="#c6ceff"/>
<rect x="663.53" y="22.94" width="27.68" height="27.66" fill="#ffffff"/>
<rect x="690.61" y="22.94" width="54.76" height="27.66" fill="#d8fbf0"/>
<rect x="744.77" y="22.94" width="54.76" height="27.66" fill="#b0fac8"/>
<rect x="798.93" y="22.94" width="27.68" height="27.66" fill="#ffc400"/>
<rect x="826.01" y="22.94" width="27.68" height="27.66" fill="#ff5a08"/>
<rect x="853.09" y="22.94" width="27.68" height="27.66" fill="#e81800"/>
<rect x="880.17" y="22.94" width="27.68" height="27.66" fill="#ffd6c6"/>
<rect x="907.26" y="22.94" width="163.09" height="27.66" fill="#ff9878"/>
<rect x="473.96" y="50.00" width="190.17" height="27.66" fill="#c6ceff"/>
<rect x="663.53" y="50.00" width="27.68" height="27.66" fill="#ffffff"/>
<rect x="690.61" y="50.00" width="54.76" height="27.66" fill="#d8fbf0"/>
<rect x="744.77" y="50.00" width="54.76" height="27.66" fill="#b0fac8"/>
<rect x="798.93" y="50.00" width="27.68" height="27.66" fill="#ffc400"/>
<rect x="826.01" y="50.00" width="27.68" height="27.66" fill="#ff5a08"/>
<rect x="853.09" y="50.00" width="27.68" height="27.66" fill="#e81800"/>
<rect x="880.17" y="50.00" width="27.68" height="27.66" fill="#ffd6c6"/>
<rect x="907.26" y="50.00" width="163.09" height="27.66" fill="#ff9878"/>
<rect x="473.96" y="77.06" width="108.92" height="27.66" fill="#c6ceff"/>
<rect x="582.28" y="77.06" width="27.68" height="27.66" fill="#6078ff"/>
<rect x="609.36" y="77.06" width="54.76" height="27.66" fill="#10b8ff"/>
<rect x="663.53" y="77.06" width="27.68" height="27.66" fill="#c6ceff"/>
<rect x="690.61" y="77.06" width="27.68" height="27.66" fill="#d8fbf0"/>
<rect x="717.69" y="77.06" width="27.68" height="27.66" fill="#80f4ff"/>
<rect x="744.77" y="77.06" width="27.68" height="27.66" fill="#b0fac8"/>
<rect x="771.85" y="77.06" width="27.68" height="27.66" fill="#80f4ff"/>
<rect x="798.93" y="77.06" width="27.68" height="27.66" fill="#d8fbf0"/>
<rect x="826.01" y="77.06" width="27.68" height="27.66" fill="#ff9410"/>
<rect x="853.09" y="77.06" width="27.68" height="27.66" fill="#e81800"/>
<rect x="880.17" y="77.06" width="27.68" height="27.66" fill="#ffd6c6"/>
<rect x="907.26" y="77.06" width="27.68" height="27.66" fill="#ff9878"/>
<rect x="934.34" y="77.06" width="27.68" height="27.66" fill="#ff5a08"/>
<rect x="961.42" y="77.06" width="108.92" height="27.66" fill="#7c1a48"/>
<rect x="473.96" y="104.12" width="136.01" height="27.66" fill="#6078ff"/>
<rect x="609.36" y="104.12" width="27.68" height="27.66" fill="#80f4ff"/>
<rect x="636.44" y="104.12" width="27.68" height="27.66" fill="#58f4c0"/>
<rect x="663.53" y="104.12" width="27.68" height="27.66" fill="#d8fbf0"/>
<rect x="690.61" y="104.12" width="54.76" height="27.66" fill="#ffffff"/>
<rect x="744.77" y="104.12" width="27.68" height="27.66" fill="#d8fbf0"/>
<rect x="771.85" y="104.12" width="27.68" height="27.66" fill="#80f4ff"/>
<rect x="798.93" y="104.12" width="27.68" height="27.66" fill="#18ecf0"/>
<rect x="826.01" y="104.12" width="27.68" height="27.66" fill="#80f4ff"/>
<rect x="853.09" y="104.12" width="27.68" height="27.66" fill="#fff8c8"/>
<rect x="880.17" y="104.12" width="27.68" height="27.66" fill="#ffffff"/>
<rect x="907.26" y="104.12" width="27.68" height="27.66" fill="#fff8c8"/>
<rect x="934.34" y="104.12" width="136.01" height="27.66" fill="#7c1a48"/>
<rect x="473.96" y="131.19" width="108.92" height="27.66" fill="#6078ff"/>
<rect x="582.28" y="131.19" width="27.68" height="27.66" fill="#d8fbf0"/>
<rect x="609.36" y="131.19" width="27.68" height="27.66" fill="#80f4ff"/>
<rect x="636.44" y="131.19" width="27.68" height="27.66" fill="#58f4c0"/>
<rect x="663.53" y="131.19" width="54.76" height="27.66" fill="#a8f860"/>
<rect x="717.69" y="131.19" width="27.68" height="27.66" fill="#80f4ff"/>
<rect x="744.77" y="131.19" width="27.68" height="27.66" fill="#d8fbf0"/>
<rect x="771.85" y="131.19" width="27.68" height="27.66" fill="#6078ff"/>
<rect x="798.93" y="131.19" width="27.68" height="27.66" fill="#10b8ff"/>
<rect x="826.01" y="131.19" width="27.68" height="27.66" fill="#58f4c0"/>
<rect x="853.09" y="131.19" width="27.68" height="27.66" fill="#fff278"/>
<rect x="880.17" y="131.19" width="27.68" height="27.66" fill="#ffc400"/>
<rect x="907.26" y="131.19" width="163.09" height="27.66" fill="#ff5a08"/>
<rect x="473.96" y="158.25" width="108.92" height="27.66" fill="#c6ceff"/>
<rect x="582.28" y="158.25" width="27.68" height="27.66" fill="#80f4ff"/>
<rect x="609.36" y="158.25" width="27.68" height="27.66" fill="#ffffff"/>
<rect x="636.44" y="158.25" width="27.68" height="27.66" fill="#d8fbf0"/>
<rect x="663.53" y="158.25" width="27.68" height="27.66" fill="#a8f860"/>
<rect x="690.61" y="158.25" width="27.68" height="27.66" fill="#fff8c8"/>
<rect x="717.69" y="158.25" width="27.68" height="27.66" fill="#80f4ff"/>
<rect x="744.77" y="158.25" width="27.68" height="27.66" fill="#d8fbf0"/>
<rect x="771.85" y="158.25" width="27.68" height="27.66" fill="#ffffff"/>
<rect x="798.93" y="158.25" width="27.68" height="27.66" fill="#fff278"/>
<rect x="826.01" y="158.25" width="27.68" height="27.66" fill="#ff5a08"/>
<rect x="853.09" y="158.25" width="27.68" height="27.66" fill="#ff9878"/>
<rect x="880.17" y="158.25" width="27.68" height="27.66" fill="#ffd6c6"/>
<rect x="907.26" y="158.25" width="27.68" height="27.66" fill="#ff9410"/>
<rect x="934.34" y="158.25" width="27.68" height="27.66" fill="#e81800"/>
<rect x="961.42" y="158.25" width="108.92" height="27.66" fill="#ff5a08"/>
<rect x="473.96" y="185.31" width="108.92" height="27.66" fill="#c6ceff"/>
<rect x="582.28" y="185.31" width="27.68" height="27.66" fill="#6078ff"/>
<rect x="609.36" y="185.31" width="27.68" height="27.66" fill="#80f4ff"/>
<rect x="636.44" y="185.31" width="27.68" height="27.66" fill="#d8fbf0"/>
<rect x="663.53" y="185.31" width="27.68" height="27.66" fill="#fff278"/>
<rect x="690.61" y="185.31" width="27.68" height="27.66" fill="#ffd6c6"/>
<rect x="717.69" y="185.31" width="27.68" height="27.66" fill="#fff278"/>
<rect x="744.77" y="185.31" width="27.68" height="27.66" fill="#ffc400"/>
<rect x="771.85" y="185.31" width="27.68" height="27.66" fill="#58f4c0"/>
<rect x="798.93" y="185.31" width="27.68" height="27.66" fill="#fff8c8"/>
<rect x="826.01" y="185.31" width="27.68" height="27.66" fill="#ffffff"/>
<rect x="853.09" y="185.31" width="54.76" height="27.66" fill="#ff9878"/>
<rect x="907.26" y="185.31" width="27.68" height="27.66" fill="#ffd6c6"/>
<rect x="934.34" y="185.31" width="27.68" height="27.66" fill="#e81800"/>
<rect x="961.42" y="185.31" width="108.92" height="27.66" fill="#ff9878"/>
<rect x="473.96" y="212.38" width="108.92" height="27.66" fill="#0a68ff"/>
<rect x="582.28" y="212.38" width="27.68" height="27.66" fill="#6078ff"/>
<rect x="609.36" y="212.38" width="27.68" height="27.66" fill="#d8fbf0"/>
<rect x="636.44" y="212.38" width="27.68" height="27.66" fill="#80f4ff"/>
<rect x="663.53" y="212.38" width="27.68" height="27.66" fill="#d8fbf0"/>
<rect x="690.61" y="212.38" width="27.68" height="27.66" fill="#58f4c0"/>
<rect x="717.69" y="212.38" width="27.68" height="27.66" fill="#a8f860"/>
<rect x="744.77" y="212.38" width="27.68" height="27.66" fill="#ff9410"/>
<rect x="771.85" y="212.38" width="27.68" height="27.66" fill="#ffc400"/>
<rect x="798.93" y="212.38" width="27.68" height="27.66" fill="#ff9410"/>
<rect x="826.01" y="212.38" width="27.68" height="27.66" fill="#c6ceff"/>
<rect x="853.09" y="212.38" width="27.68" height="27.66" fill="#ff9878"/>
<rect x="880.17" y="212.38" width="27.68" height="27.66" fill="#e81800"/>
<rect x="907.26" y="212.38" width="27.68" height="27.66" fill="#ff9878"/>
<rect x="934.34" y="212.38" width="27.68" height="27.66" fill="#ff5a08"/>
<rect x="961.42" y="212.38" width="108.92" height="27.66" fill="#e81800"/>
<rect x="473.96" y="239.44" width="108.92" height="27.66" fill="#0818e8"/>
<rect x="582.28" y="239.44" width="27.68" height="27.66" fill="#6078ff"/>
<rect x="609.36" y="239.44" width="27.68" height="27.66" fill="#10b8ff"/>
<rect x="636.44" y="239.44" width="27.68" height="27.66" fill="#80f4ff"/>
<rect x="663.53" y="239.44" width="27.68" height="27.66" fill="#58f4c0"/>
<rect x="690.61" y="239.44" width="27.68" height="27.66" fill="#a8f860"/>
<rect x="717.69" y="239.44" width="27.68" height="27.66" fill="#fff8c8"/>
<rect x="744.77" y="239.44" width="27.68" height="27.66" fill="#ff9878"/>
<rect x="771.85" y="239.44" width="27.68" height="27.66" fill="#ff5a08"/>
<rect x="798.93" y="239.44" width="27.68" height="27.66" fill="#e81800"/>
<rect x="826.01" y="239.44" width="27.68" height="27.66" fill="#6078ff"/>
<rect x="853.09" y="239.44" width="27.68" height="27.66" fill="#0818e8"/>
<rect x="880.17" y="239.44" width="27.68" height="27.66" fill="#ff9878"/>
<rect x="907.26" y="239.44" width="27.68" height="27.66" fill="#ffffff"/>
<rect x="934.34" y="239.44" width="27.68" height="27.66" fill="#ff9410"/>
<rect x="961.42" y="239.44" width="108.92" height="27.66" fill="#e81800"/>
<rect x="473.96" y="266.50" width="136.01" height="27.66" fill="#c6ceff"/>
<rect x="609.36" y="266.50" width="27.68" height="27.66" fill="#6078ff"/>
<rect x="636.44" y="266.50" width="27.68" height="27.66" fill="#c6ceff"/>
<rect x="663.53" y="266.50" width="27.68" height="27.66" fill="#a8f860"/>
<rect x="690.61" y="266.50" width="27.68" height="27.66" fill="#fff278"/>
<rect x="717.69" y="266.50" width="27.68" height="27.66" fill="#ff9410"/>
<rect x="744.77" y="266.50" width="27.68" height="27.66" fill="#ff5a08"/>
<rect x="771.85" y="266.50" width="54.76" height="27.66" fill="#7c1a48"/>
<rect x="826.01" y="266.50" width="27.68" height="27.66" fill="#6078ff"/>
<rect x="853.09" y="266.50" width="27.68" height="27.66" fill="#0818e8"/>
<rect x="880.17" y="266.50" width="27.68" height="27.66" fill="#c6ceff"/>
<rect x="907.26" y="266.50" width="27.68" height="27.66" fill="#ffd6c6"/>
<rect x="934.34" y="266.50" width="27.68" height="27.66" fill="#e81800"/>
<rect x="961.42" y="266.50" width="108.92" height="27.66" fill="#7c1a48"/>
<rect x="473.96" y="293.56" width="108.92" height="27.66" fill="#6078ff"/>
<rect x="582.28" y="293.56" width="27.68" height="27.66" fill="#c6ceff"/>
<rect x="609.36" y="293.56" width="27.68" height="27.66" fill="#0a68ff"/>
<rect x="636.44" y="293.56" width="27.68" height="27.66" fill="#c6ceff"/>
<rect x="663.53" y="293.56" width="27.68" height="27.66" fill="#d8fbf0"/>
<rect x="690.61" y="293.56" width="27.68" height="27.66" fill="#ffd6c6"/>
<rect x="717.69" y="293.56" width="54.76" height="27.66" fill="#7c1a48"/>
<rect x="771.85" y="293.56" width="27.68" height="27.66" fill="#ff9878"/>
<rect x="798.93" y="293.56" width="27.68" height="27.66" fill="#7c1a48"/>
<rect x="826.01" y="293.56" width="27.68" height="27.66" fill="#6078ff"/>
<rect x="853.09" y="293.56" width="27.68" height="27.66" fill="#0a68ff"/>
<rect x="880.17" y="293.56" width="54.76" height="27.66" fill="#e81800"/>
<rect x="934.34" y="293.56" width="27.68" height="27.66" fill="#ff9878"/>
<rect x="961.42" y="293.56" width="108.92" height="27.66" fill="#6078ff"/>
<rect x="473.96" y="320.62" width="136.01" height="27.66" fill="#c6ceff"/>
<rect x="609.36" y="320.62" width="27.68" height="27.66" fill="#6078ff"/>
<rect x="636.44" y="320.62" width="27.68" height="27.66" fill="#0a68ff"/>
<rect x="663.53" y="320.62" width="27.68" height="27.66" fill="#ffffff"/>
<rect x="690.61" y="320.62" width="54.76" height="27.66" fill="#ffd6c6"/>
<rect x="744.77" y="320.62" width="27.68" height="27.66" fill="#e81800"/>
<rect x="771.85" y="320.62" width="27.68" height="27.66" fill="#ff9878"/>
<rect x="798.93" y="320.62" width="27.68" height="27.66" fill="#7c1a48"/>
<rect x="826.01" y="320.62" width="27.68" height="27.66" fill="#d8fbf0"/>
<rect x="853.09" y="320.62" width="27.68" height="27.66" fill="#0a68ff"/>
<rect x="880.17" y="320.62" width="54.76" height="27.66" fill="#7c1a48"/>
<rect x="934.34" y="320.62" width="27.68" height="27.66" fill="#6078ff"/>
<rect x="961.42" y="320.62" width="108.92" height="27.66" fill="#c6ceff"/>
<rect x="473.96" y="347.69" width="136.01" height="27.66" fill="#6078ff"/>
<rect x="609.36" y="347.69" width="27.68" height="27.66" fill="#80f4ff"/>
<rect x="636.44" y="347.69" width="27.68" height="27.66" fill="#58f4c0"/>
<rect x="663.53" y="347.69" width="27.68" height="27.66" fill="#d8fbf0"/>
<rect x="690.61" y="347.69" width="27.68" height="27.66" fill="#ffffff"/>
<rect x="717.69" y="347.69" width="27.68" height="27.66" fill="#ffc400"/>
<rect x="744.77" y="347.69" width="27.68" height="27.66" fill="#ff9410"/>
<rect x="771.85" y="347.69" width="27.68" height="27.66" fill="#ff5a08"/>
<rect x="798.93" y="347.69" width="27.68" height="27.66" fill="#ff9878"/>
<rect x="826.01" y="347.69" width="27.68" height="27.66" fill="#c6ceff"/>
<rect x="853.09" y="347.69" width="27.68" height="27.66" fill="#0818e8"/>
<rect x="880.17" y="347.69" width="27.68" height="27.66" fill="#7c1a48"/>
<rect x="907.26" y="347.69" width="27.68" height="27.66" fill="#0818e8"/>
<rect x="934.34" y="347.69" width="27.68" height="27.66" fill="#7c1a48"/>
<rect x="961.42" y="347.69" width="108.92" height="27.66" fill="#e81800"/>
<rect x="473.96" y="374.75" width="108.92" height="27.66" fill="#6078ff"/>
<rect x="582.28" y="374.75" width="27.68" height="27.66" fill="#c6ceff"/>
<rect x="609.36" y="374.75" width="27.68" height="27.66" fill="#d8fbf0"/>
<rect x="636.44" y="374.75" width="27.68" height="27.66" fill="#b0fac8"/>
<rect x="663.53" y="374.75" width="27.68" height="27.66" fill="#58f4c0"/>
<rect x="690.61" y="374.75" width="27.68" height="27.66" fill="#d8fbf0"/>
<rect x="717.69" y="374.75" width="27.68" height="27.66" fill="#ffd6c6"/>
<rect x="744.77" y="374.75" width="27.68" height="27.66" fill="#ff5a08"/>
<rect x="771.85" y="374.75" width="27.68" height="27.66" fill="#ff9878"/>
<rect x="798.93" y="374.75" width="27.68" height="27.66" fill="#ffd6c6"/>
<rect x="826.01" y="374.75" width="27.68" height="27.66" fill="#ff9878"/>
<rect x="853.09" y="374.75" width="27.68" height="27.66" fill="#6078ff"/>
<rect x="880.17" y="374.75" width="81.84" height="27.66" fill="#7c1a48"/>
<rect x="961.42" y="374.75" width="108.92" height="27.66" fill="#0818e8"/>
<rect x="473.96" y="401.81" width="108.92" height="27.66" fill="#10b8ff"/>
<rect x="582.28" y="401.81" width="27.68" height="27.66" fill="#80f4ff"/>
<rect x="609.36" y="401.81" width="27.68" height="27.66" fill="#ffd6c6"/>
<rect x="636.44" y="401.81" width="27.68" height="27.66" fill="#80f4ff"/>
<rect x="663.53" y="401.81" width="27.68" height="27.66" fill="#c6ceff"/>
<rect x="690.61" y="401.81" width="27.68" height="27.66" fill="#d8fbf0"/>
<rect x="717.69" y="401.81" width="27.68" height="27.66" fill="#58f4c0"/>
<rect x="744.77" y="401.81" width="27.68" height="27.66" fill="#ffc400"/>
<rect x="771.85" y="401.81" width="27.68" height="27.66" fill="#ffd6c6"/>
<rect x="798.93" y="401.81" width="81.84" height="27.66" fill="#ff9878"/>
<rect x="880.17" y="401.81" width="81.84" height="27.66" fill="#ffd6c6"/>
<rect x="961.42" y="401.81" width="108.92" height="27.66" fill="#7c1a48"/>
<rect x="473.96" y="428.88" width="163.09" height="27.66" fill="#ffd6c6"/>
<rect x="636.44" y="428.88" width="54.76" height="27.66" fill="#c6ceff"/>
<rect x="690.61" y="428.88" width="27.68" height="27.66" fill="#80f4ff"/>
<rect x="717.69" y="428.88" width="27.68" height="27.66" fill="#10b8ff"/>
<rect x="744.77" y="428.88" width="27.68" height="27.66" fill="#58f4c0"/>
<rect x="771.85" y="428.88" width="27.68" height="27.66" fill="#d8fbf0"/>
<rect x="798.93" y="428.88" width="27.68" height="27.66" fill="#e81800"/>
<rect x="826.01" y="428.88" width="27.68" height="27.66" fill="#ff9410"/>
<rect x="853.09" y="428.88" width="27.68" height="27.66" fill="#ff5a08"/>
<rect x="880.17" y="428.88" width="27.68" height="27.66" fill="#ffd6c6"/>
<rect x="907.26" y="428.88" width="27.68" height="27.66" fill="#fff8c8"/>
<rect x="934.34" y="428.88" width="27.68" height="27.66" fill="#7c1a48"/>
<rect x="961.42" y="428.88" width="108.92" height="27.66" fill="#0818e8"/>
<rect x="473.96" y="455.94" width="108.92" height="27.66" fill="#7c1a48"/>
<rect x="582.28" y="455.94" width="27.68" height="27.66" fill="#ffffff"/>
<rect x="609.36" y="455.94" width="27.68" height="27.66" fill="#80f4ff"/>
<rect x="636.44" y="455.94" width="27.68" height="27.66" fill="#ffffff"/>
<rect x="663.53" y="455.94" width="27.68" height="27.66" fill="#c6ceff"/>
<rect x="690.61" y="455.94" width="27.68" height="27.66" fill="#80f4ff"/>
<rect x="717.69" y="455.94" width="27.68" height="27.66" fill="#d8fbf0"/>
<rect x="744.77" y="455.94" width="27.68" height="27.66" fill="#ffc400"/>
<rect x="771.85" y="455.94" width="27.68" height="27.66" fill="#a8f860"/>
<rect x="798.93" y="455.94" width="54.76" height="27.66" fill="#ff5a08"/>
<rect x="853.09" y="455.94" width="27.68" height="27.66" fill="#ff9410"/>
<rect x="880.17" y="455.94" width="27.68" height="27.66" fill="#ff9878"/>
<rect x="907.26" y="455.94" width="27.68" height="27.66" fill="#ff9410"/>
<rect x="934.34" y="455.94" width="27.68" height="27.66" fill="#7c1a48"/>
<rect x="961.42" y="455.94" width="108.92" height="27.66" fill="#0818e8"/>
<rect x="473.96" y="483.00" width="108.92" height="27.66" fill="#ffd6c6"/>
<rect x="582.28" y="483.00" width="27.68" height="27.66" fill="#d8fbf0"/>
<rect x="609.36" y="483.00" width="27.68" height="27.66" fill="#ffffff"/>
<rect x="636.44" y="483.00" width="27.68" height="27.66" fill="#ffd6c6"/>
<rect x="663.53" y="483.00" width="54.76" height="27.66" fill="#ff9878"/>
<rect x="717.69" y="483.00" width="27.68" height="27.66" fill="#d8fbf0"/>
<rect x="744.77" y="483.00" width="27.68" height="27.66" fill="#ff9410"/>
<rect x="771.85" y="483.00" width="27.68" height="27.66" fill="#a8f860"/>
<rect x="798.93" y="483.00" width="27.68" height="27.66" fill="#ff5a08"/>
<rect x="826.01" y="483.00" width="27.68" height="27.66" fill="#e81800"/>
<rect x="853.09" y="483.00" width="27.68" height="27.66" fill="#7c1a48"/>
<rect x="880.17" y="483.00" width="27.68" height="27.66" fill="#ff5a08"/>
<rect x="907.26" y="483.00" width="163.09" height="27.66" fill="#7c1a48"/>
<rect x="473.96" y="510.06" width="136.01" height="27.66" fill="#a8f860"/>
<rect x="609.36" y="510.06" width="27.68" height="27.66" fill="#d8fbf0"/>
<rect x="636.44" y="510.06" width="27.68" height="27.66" fill="#ffffff"/>
<rect x="663.53" y="510.06" width="27.68" height="27.66" fill="#e81800"/>
<rect x="690.61" y="510.06" width="27.68" height="27.66" fill="#ff9878"/>
<rect x="717.69" y="510.06" width="27.68" height="27.66" fill="#7c1a48"/>
<rect x="744.77" y="510.06" width="27.68" height="27.66" fill="#ff9410"/>
<rect x="771.85" y="510.06" width="27.68" height="27.66" fill="#b0fac8"/>
<rect x="798.93" y="510.06" width="27.68" height="27.66" fill="#ff9878"/>
<rect x="826.01" y="510.06" width="27.68" height="27.66" fill="#ffc400"/>
<rect x="853.09" y="510.06" width="27.68" height="27.66" fill="#ff9878"/>
<rect x="880.17" y="510.06" width="54.76" height="27.66" fill="#7c1a48"/>
<rect x="934.34" y="510.06" width="27.68" height="27.66" fill="#e81800"/>
<rect x="961.42" y="510.06" width="108.92" height="27.66" fill="#ff5a08"/>
<rect x="473.96" y="537.12" width="108.92" height="27.66" fill="#ffd6c6"/>
<rect x="582.28" y="537.12" width="27.68" height="27.66" fill="#ff5a08"/>
<rect x="609.36" y="537.12" width="27.68" height="27.66" fill="#b0fac8"/>
<rect x="636.44" y="537.12" width="27.68" height="27.66" fill="#10b8ff"/>
<rect x="663.53" y="537.12" width="27.68" height="27.66" fill="#c6ceff"/>
<rect x="690.61" y="537.12" width="27.68" height="27.66" fill="#fff278"/>
<rect x="717.69" y="537.12" width="27.68" height="27.66" fill="#e81800"/>
<rect x="744.77" y="537.12" width="27.68" height="27.66" fill="#ff5a08"/>
<rect x="771.85" y="537.12" width="27.68" height="27.66" fill="#ffc400"/>
<rect x="798.93" y="537.12" width="27.68" height="27.66" fill="#ff9410"/>
<rect x="826.01" y="537.12" width="27.68" height="27.66" fill="#ff5a08"/>
<rect x="853.09" y="537.12" width="27.68" height="27.66" fill="#ffffff"/>
<rect x="880.17" y="537.12" width="27.68" height="27.66" fill="#fff8c8"/>
<rect x="907.26" y="537.12" width="27.68" height="27.66" fill="#ffc400"/>
<rect x="934.34" y="537.12" width="27.68" height="27.66" fill="#ff9410"/>
<rect x="961.42" y="537.12" width="108.92" height="27.66" fill="#ff5a08"/>
<rect x="473.96" y="564.19" width="136.01" height="27.66" fill="#ffffff"/>
<rect x="609.36" y="564.19" width="27.68" height="27.66" fill="#58f4c0"/>
<rect x="636.44" y="564.19" width="27.68" height="27.66" fill="#0a68ff"/>
<rect x="663.53" y="564.19" width="27.68" height="27.66" fill="#c6ceff"/>
<rect x="690.61" y="564.19" width="27.68" height="27.66" fill="#d8fbf0"/>
<rect x="717.69" y="564.19" width="27.68" height="27.66" fill="#ff9878"/>
<rect x="744.77" y="564.19" width="27.68" height="27.66" fill="#ff9410"/>
<rect x="771.85" y="564.19" width="27.68" height="27.66" fill="#ff9878"/>
<rect x="798.93" y="564.19" width="27.68" height="27.66" fill="#80f4ff"/>
<rect x="826.01" y="564.19" width="27.68" height="27.66" fill="#58f4c0"/>
<rect x="853.09" y="564.19" width="27.68" height="27.66" fill="#ffd6c6"/>
<rect x="880.17" y="564.19" width="27.68" height="27.66" fill="#ff9878"/>
<rect x="907.26" y="564.19" width="27.68" height="27.66" fill="#ff9410"/>
<rect x="934.34" y="564.19" width="27.68" height="27.66" fill="#ff5a08"/>
<rect x="961.42" y="564.19" width="108.92" height="27.66" fill="#ffd6c6"/>
<rect x="473.96" y="591.25" width="108.92" height="27.66" fill="#ffd6c6"/>
<rect x="582.28" y="591.25" width="27.68" height="27.66" fill="#ffffff"/>
<rect x="609.36" y="591.25" width="27.68" height="27.66" fill="#a8f860"/>
<rect x="636.44" y="591.25" width="27.68" height="27.66" fill="#fff278"/>
<rect x="663.53" y="591.25" width="54.76" height="27.66" fill="#ffffff"/>
<rect x="717.69" y="591.25" width="27.68" height="27.66" fill="#ffd6c6"/>
<rect x="744.77" y="591.25" width="27.68" height="27.66" fill="#ff9410"/>
<rect x="771.85" y="591.25" width="27.68" height="27.66" fill="#ff5a08"/>
<rect x="798.93" y="591.25" width="27.68" height="27.66" fill="#58f4c0"/>
<rect x="826.01" y="591.25" width="54.76" height="27.66" fill="#80f4ff"/>
<rect x="880.17" y="591.25" width="27.68" height="27.66" fill="#d8fbf0"/>
<rect x="907.26" y="591.25" width="54.76" height="27.66" fill="#a8f860"/>
<rect x="961.42" y="591.25" width="108.92" height="27.66" fill="#ffc400"/>
<rect x="473.96" y="618.31" width="108.92" height="27.66" fill="#ffd6c6"/>
<rect x="582.28" y="618.31" width="27.68" height="27.66" fill="#fff8c8"/>
<rect x="609.36" y="618.31" width="27.68" height="27.66" fill="#58f4c0"/>
<rect x="636.44" y="618.31" width="27.68" height="27.66" fill="#ffc400"/>
<rect x="663.53" y="618.31" width="27.68" height="27.66" fill="#ff5a08"/>
<rect x="690.61" y="618.31" width="27.68" height="27.66" fill="#ffffff"/>
<rect x="717.69" y="618.31" width="27.68" height="27.66" fill="#ff9878"/>
<rect x="744.77" y="618.31" width="27.68" height="27.66" fill="#ffd6c6"/>
<rect x="771.85" y="618.31" width="27.68" height="27.66" fill="#ff5a08"/>
<rect x="798.93" y="618.31" width="81.84" height="27.66" fill="#a8f860"/>
<rect x="880.17" y="618.31" width="27.68" height="27.66" fill="#e81800"/>
<rect x="907.26" y="618.31" width="27.68" height="27.66" fill="#ff9878"/>
<rect x="934.34" y="618.31" width="27.68" height="27.66" fill="#80f4ff"/>
<rect x="961.42" y="618.31" width="108.92" height="27.66" fill="#58f4c0"/>
<rect x="473.96" y="645.38" width="108.92" height="27.66" fill="#fff278"/>
<rect x="582.28" y="645.38" width="27.68" height="27.66" fill="#a8f860"/>
<rect x="609.36" y="645.38" width="27.68" height="27.66" fill="#58f4c0"/>
<rect x="636.44" y="645.38" width="27.68" height="27.66" fill="#ff9410"/>
<rect x="663.53" y="645.38" width="27.68" height="27.66" fill="#7c1a48"/>
<rect x="690.61" y="645.38" width="27.68" height="27.66" fill="#ff5a08"/>
<rect x="717.69" y="645.38" width="27.68" height="27.66" fill="#ffc400"/>
<rect x="744.77" y="645.38" width="27.68" height="27.66" fill="#ff9410"/>
<rect x="771.85" y="645.38" width="27.68" height="27.66" fill="#e81800"/>
<rect x="798.93" y="645.38" width="27.68" height="27.66" fill="#ff9878"/>
<rect x="826.01" y="645.38" width="27.68" height="27.66" fill="#58f4c0"/>
<rect x="853.09" y="645.38" width="27.68" height="27.66" fill="#ff9410"/>
<rect x="880.17" y="645.38" width="27.68" height="27.66" fill="#ff5a08"/>
<rect x="907.26" y="645.38" width="27.68" height="27.66" fill="#ff9410"/>
<rect x="934.34" y="645.38" width="27.68" height="27.66" fill="#a8f860"/>
<rect x="961.42" y="645.38" width="108.92" height="27.66" fill="#18ecf0"/>
<rect x="473.96" y="672.44" width="136.01" height="27.66" fill="#ff9878"/>
<rect x="609.36" y="672.44" width="27.68" height="27.66" fill="#ff9410"/>
<rect x="636.44" y="672.44" width="27.68" height="27.66" fill="#ff9878"/>
<rect x="663.53" y="672.44" width="27.68" height="27.66" fill="#e81800"/>
<rect x="690.61" y="672.44" width="27.68" height="27.66" fill="#58f4c0"/>
<rect x="717.69" y="672.44" width="54.76" height="27.66" fill="#ff9410"/>
<rect x="771.85" y="672.44" width="27.68" height="27.66" fill="#ff5a08"/>
<rect x="798.93" y="672.44" width="27.68" height="27.66" fill="#ffc400"/>
<rect x="826.01" y="672.44" width="54.76" height="27.66" fill="#58f4c0"/>
<rect x="880.17" y="672.44" width="27.68" height="27.66" fill="#ff5a08"/>
<rect x="907.26" y="672.44" width="27.68" height="27.66" fill="#ff9878"/>
<rect x="934.34" y="672.44" width="27.68" height="27.66" fill="#ff9410"/>
<rect x="961.42" y="672.44" width="108.92" height="27.66" fill="#10b8ff"/>
<rect x="473.96" y="699.50" width="136.01" height="27.66" fill="#ff9878"/>
<rect x="609.36" y="699.50" width="27.68" height="27.66" fill="#ff9410"/>
<rect x="636.44" y="699.50" width="27.68" height="27.66" fill="#ff9878"/>
<rect x="663.53" y="699.50" width="27.68" height="27.66" fill="#e81800"/>
<rect x="690.61" y="699.50" width="27.68" height="27.66" fill="#58f4c0"/>
<rect x="717.69" y="699.50" width="54.76" height="27.66" fill="#ff9410"/>
<rect x="771.85" y="699.50" width="27.68" height="27.66" fill="#ff5a08"/>
<rect x="798.93" y="699.50" width="27.68" height="27.66" fill="#ffc400"/>
<rect x="826.01" y="699.50" width="54.76" height="27.66" fill="#58f4c0"/>
<rect x="880.17" y="699.50" width="27.68" height="27.66" fill="#ff5a08"/>
<rect x="907.26" y="699.50" width="27.68" height="27.66" fill="#ff9878"/>
<rect x="934.34" y="699.50" width="27.68" height="27.66" fill="#ff9410"/>
<rect x="961.42" y="699.50" width="108.92" height="27.66" fill="#10b8ff"/>
<rect x="473.96" y="726.56" width="136.01" height="27.66" fill="#ff9878"/>
<rect x="609.36" y="726.56" width="27.68" height="27.66" fill="#ff9410"/>
<rect x="636.44" y="726.56" width="27.68" height="27.66" fill="#ff9878"/>
<rect x="663.53" y="726.56" width="27.68" height="27.66" fill="#e81800"/>
<rect x="690.61" y="726.56" width="27.68" height="27.66" fill="#58f4c0"/>
<rect x="717.69" y="726.56" width="54.76" height="27.66" fill="#ff9410"/>
<rect x="771.85" y="726.56" width="27.68" height="27.66" fill="#ff5a08"/>
<rect x="798.93" y="726.56" width="27.68" height="27.66" fill="#ffc400"/>
<rect x="826.01" y="726.56" width="54.76" height="27.66" fill="#58f4c0"/>
<rect x="880.17" y="726.56" width="27.68" height="27.66" fill="#ff5a08"/>
<rect x="907.26" y="726.56" width="27.68" height="27.66" fill="#ff9878"/>
<rect x="934.34" y="726.56" width="27.68" height="27.66" fill="#ff9410"/>
<rect x="961.42" y="726.56" width="108.92" height="27.66" fill="#10b8ff"/>
<rect x="473.96" y="753.62" width="136.01" height="27.66" fill="#ff9878"/>
<rect x="609.36" y="753.62" width="27.68" height="27.66" fill="#ff9410"/>
<rect x="636.44" y="753.62" width="27.68" height="27.66" fill="#ff9878"/>
<rect x="663.53" y="753.62" width="27.68" height="27.66" fill="#e81800"/>
<rect x="690.61" y="753.62" width="27.68" height="27.66" fill="#58f4c0"/>
<rect x="717.69" y="753.62" width="54.76" height="27.66" fill="#ff9410"/>
<rect x="771.85" y="753.62" width="27.68" height="27.66" fill="#ff5a08"/>
<rect x="798.93" y="753.62" width="27.68" height="27.66" fill="#ffc400"/>
<rect x="826.01" y="753.62" width="54.76" height="27.66" fill="#58f4c0"/>
<rect x="880.17" y="753.62" width="27.68" height="27.66" fill="#ff5a08"/>
<rect x="907.26" y="753.62" width="27.68" height="27.66" fill="#ff9878"/>
<rect x="934.34" y="753.62" width="27.68" height="27.66" fill="#ff9410"/>
<rect x="961.42" y="753.62" width="108.92" height="27.66" fill="#10b8ff"/>
</g>
<rect x="555" y="49.5" width="126" height="14" fill="#fff"/>
<rect x="840" y="680" width="150" height="20" fill="#fff"/>
</g>
<clipPath id="clipP3"><rect x="1005.2" y="50.0" width="433.30" height="649.50"/></clipPath>
<g clip-path="url(#clipP3)"><g filter="url(#bl7)">
<rect x="923.96" y="-31.19" width="190.17" height="27.66" fill="#c6ceff"/>
<rect x="1113.53" y="-31.19" width="27.68" height="27.66" fill="#ffffff"/>
<rect x="1140.61" y="-31.19" width="54.76" height="27.66" fill="#d8fbf0"/>
<rect x="1194.77" y="-31.19" width="54.76" height="27.66" fill="#b0fac8"/>
<rect x="1248.93" y="-31.19" width="27.68" height="27.66" fill="#ffc400"/>
<rect x="1276.01" y="-31.19" width="27.68" height="27.66" fill="#ff5a08"/>
<rect x="1303.09" y="-31.19" width="27.68" height="27.66" fill="#e81800"/>
<rect x="1330.17" y="-31.19" width="27.68" height="27.66" fill="#ffd6c6"/>
<rect x="1357.26" y="-31.19" width="163.09" height="27.66" fill="#ff9878"/>
<rect x="923.96" y="-4.12" width="190.17" height="27.66" fill="#c6ceff"/>
<rect x="1113.53" y="-4.12" width="27.68" height="27.66" fill="#ffffff"/>
<rect x="1140.61" y="-4.12" width="54.76" height="27.66" fill="#d8fbf0"/>
<rect x="1194.77" y="-4.12" width="54.76" height="27.66" fill="#b0fac8"/>
<rect x="1248.93" y="-4.12" width="27.68" height="27.66" fill="#ffc400"/>
<rect x="1276.01" y="-4.12" width="27.68" height="27.66" fill="#ff5a08"/>
<rect x="1303.09" y="-4.12" width="27.68" height="27.66" fill="#e81800"/>
<rect x="1330.17" y="-4.12" width="27.68" height="27.66" fill="#ffd6c6"/>
<rect x="1357.26" y="-4.12" width="163.09" height="27.66" fill="#ff9878"/>
<rect x="923.96" y="22.94" width="190.17" height="27.66" fill="#c6ceff"/>
<rect x="1113.53" y="22.94" width="27.68" height="27.66" fill="#ffffff"/>
<rect x="1140.61" y="22.94" width="54.76" height="27.66" fill="#d8fbf0"/>
<rect x="1194.77" y="22.94" width="54.76" height="27.66" fill="#b0fac8"/>
<rect x="1248.93" y="22.94" width="27.68" height="27.66" fill="#ffc400"/>
<rect x="1276.01" y="22.94" width="27.68" height="27.66" fill="#ff5a08"/>
<rect x="1303.09" y="22.94" width="27.68" height="27.66" fill="#e81800"/>
<rect x="1330.17" y="22.94" width="27.68" height="27.66" fill="#ffd6c6"/>
<rect x="1357.26" y="22.94" width="163.09" height="27.66" fill="#ff9878"/>
<rect x="923.96" y="50.00" width="190.17" height="27.66" fill="#c6ceff"/>
<rect x="1113.53" y="50.00" width="27.68" height="27.66" fill="#ffffff"/>
<rect x="1140.61" y="50.00" width="54.76" height="27.66" fill="#d8fbf0"/>
<rect x="1194.77" y="50.00" width="54.76" height="27.66" fill="#b0fac8"/>
<rect x="1248.93" y="50.00" width="27.68" height="27.66" fill="#ffc400"/>
<rect x="1276.01" y="50.00" width="27.68" height="27.66" fill="#ff5a08"/>
<rect x="1303.09" y="50.00" width="27.68" height="27.66" fill="#e81800"/>
<rect x="1330.17" y="50.00" width="27.68" height="27.66" fill="#ffd6c6"/>
<rect x="1357.26" y="50.00" width="163.09" height="27.66" fill="#ff9878"/>
<rect x="923.96" y="77.06" width="108.92" height="27.66" fill="#c6ceff"/>
<rect x="1032.28" y="77.06" width="27.68" height="27.66" fill="#6078ff"/>
<rect x="1059.36" y="77.06" width="54.76" height="27.66" fill="#10b8ff"/>
<rect x="1113.53" y="77.06" width="27.68" height="27.66" fill="#c6ceff"/>
<rect x="1140.61" y="77.06" width="27.68" height="27.66" fill="#d8fbf0"/>
<rect x="1167.69" y="77.06" width="27.68" height="27.66" fill="#80f4ff"/>
<rect x="1194.77" y="77.06" width="27.68" height="27.66" fill="#b0fac8"/>
<rect x="1221.85" y="77.06" width="27.68" height="27.66" fill="#80f4ff"/>
<rect x="1248.93" y="77.06" width="27.68" height="27.66" fill="#d8fbf0"/>
<rect x="1276.01" y="77.06" width="27.68" height="27.66" fill="#ff9410"/>
<rect x="1303.09" y="77.06" width="27.68" height="27.66" fill="#e81800"/>
<rect x="1330.17" y="77.06" width="27.68" height="27.66" fill="#ffd6c6"/>
<rect x="1357.26" y="77.06" width="27.68" height="27.66" fill="#ff9878"/>
<rect x="1384.34" y="77.06" width="27.68" height="27.66" fill="#ff5a08"/>
<rect x="1411.42" y="77.06" width="108.92" height="27.66" fill="#7c1a48"/>
<rect x="923.96" y="104.12" width="136.01" height="27.66" fill="#6078ff"/>
<rect x="1059.36" y="104.12" width="27.68" height="27.66" fill="#80f4ff"/>
<rect x="1086.44" y="104.12" width="27.68" height="27.66" fill="#58f4c0"/>
<rect x="1113.53" y="104.12" width="27.68" height="27.66" fill="#d8fbf0"/>
<rect x="1140.61" y="104.12" width="54.76" height="27.66" fill="#ffffff"/>
<rect x="1194.77" y="104.12" width="27.68" height="27.66" fill="#d8fbf0"/>
<rect x="1221.85" y="104.12" width="27.68" height="27.66" fill="#80f4ff"/>
<rect x="1248.93" y="104.12" width="27.68" height="27.66" fill="#18ecf0"/>
<rect x="1276.01" y="104.12" width="27.68" height="27.66" fill="#80f4ff"/>
<rect x="1303.09" y="104.12" width="27.68" height="27.66" fill="#fff8c8"/>
<rect x="1330.17" y="104.12" width="27.68" height="27.66" fill="#ffffff"/>
<rect x="1357.26" y="104.12" width="27.68" height="27.66" fill="#fff8c8"/>
<rect x="1384.34" y="104.12" width="136.01" height="27.66" fill="#7c1a48"/>
<rect x="923.96" y="131.19" width="108.92" height="27.66" fill="#6078ff"/>
<rect x="1032.28" y="131.19" width="27.68" height="27.66" fill="#d8fbf0"/>
<rect x="1059.36" y="131.19" width="27.68" height="27.66" fill="#80f4ff"/>
<rect x="1086.44" y="131.19" width="27.68" height="27.66" fill="#58f4c0"/>
<rect x="1113.53" y="131.19" width="54.76" height="27.66" fill="#a8f860"/>
<rect x="1167.69" y="131.19" width="27.68" height="27.66" fill="#80f4ff"/>
<rect x="1194.77" y="131.19" width="27.68" height="27.66" fill="#d8fbf0"/>
<rect x="1221.85" y="131.19" width="27.68" height="27.66" fill="#6078ff"/>
<rect x="1248.93" y="131.19" width="27.68" height="27.66" fill="#10b8ff"/>
<rect x="1276.01" y="131.19" width="27.68" height="27.66" fill="#58f4c0"/>
<rect x="1303.09" y="131.19" width="27.68" height="27.66" fill="#fff278"/>
<rect x="1330.17" y="131.19" width="27.68" height="27.66" fill="#ffc400"/>
<rect x="1357.26" y="131.19" width="163.09" height="27.66" fill="#ff5a08"/>
<rect x="923.96" y="158.25" width="108.92" height="27.66" fill="#c6ceff"/>
<rect x="1032.28" y="158.25" width="27.68" height="27.66" fill="#80f4ff"/>
<rect x="1059.36" y="158.25" width="27.68" height="27.66" fill="#ffffff"/>
<rect x="1086.44" y="158.25" width="27.68" height="27.66" fill="#d8fbf0"/>
<rect x="1113.53" y="158.25" width="27.68" height="27.66" fill="#a8f860"/>
<rect x="1140.61" y="158.25" width="27.68" height="27.66" fill="#fff8c8"/>
<rect x="1167.69" y="158.25" width="27.68" height="27.66" fill="#80f4ff"/>
<rect x="1194.77" y="158.25" width="27.68" height="27.66" fill="#d8fbf0"/>
<rect x="1221.85" y="158.25" width="27.68" height="27.66" fill="#ffffff"/>
<rect x="1248.93" y="158.25" width="27.68" height="27.66" fill="#fff278"/>
<rect x="1276.01" y="158.25" width="27.68" height="27.66" fill="#ff5a08"/>
<rect x="1303.09" y="158.25" width="27.68" height="27.66" fill="#ff9878"/>
<rect x="1330.17" y="158.25" width="27.68" height="27.66" fill="#ffd6c6"/>
<rect x="1357.26" y="158.25" width="27.68" height="27.66" fill="#ff9410"/>
<rect x="1384.34" y="158.25" width="27.68" height="27.66" fill="#e81800"/>
<rect x="1411.42" y="158.25" width="108.92" height="27.66" fill="#ff5a08"/>
<rect x="923.96" y="185.31" width="108.92" height="27.66" fill="#c6ceff"/>
<rect x="1032.28" y="185.31" width="27.68" height="27.66" fill="#6078ff"/>
<rect x="1059.36" y="185.31" width="27.68" height="27.66" fill="#80f4ff"/>
<rect x="1086.44" y="185.31" width="27.68" height="27.66" fill="#d8fbf0"/>
<rect x="1113.53" y="185.31" width="27.68" height="27.66" fill="#fff278"/>
<rect x="1140.61" y="185.31" width="27.68" height="27.66" fill="#ffd6c6"/>
<rect x="1167.69" y="185.31" width="27.68" height="27.66" fill="#fff278"/>
<rect x="1194.77" y="185.31" width="27.68" height="27.66" fill="#ffc400"/>
<rect x="1221.85" y="185.31" width="27.68" height="27.66" fill="#58f4c0"/>
<rect x="1248.93" y="185.31" width="27.68" height="27.66" fill="#fff8c8"/>
<rect x="1276.01" y="185.31" width="27.68" height="27.66" fill="#ffffff"/>
<rect x="1303.09" y="185.31" width="54.76" height="27.66" fill="#ff9878"/>
<rect x="1357.26" y="185.31" width="27.68" height="27.66" fill="#ffd6c6"/>
<rect x="1384.34" y="185.31" width="27.68" height="27.66" fill="#e81800"/>
<rect x="1411.42" y="185.31" width="108.92" height="27.66" fill="#ff9878"/>
<rect x="923.96" y="212.38" width="108.92" height="27.66" fill="#0a68ff"/>
<rect x="1032.28" y="212.38" width="27.68" height="27.66" fill="#6078ff"/>
<rect x="1059.36" y="212.38" width="27.68" height="27.66" fill="#d8fbf0"/>
<rect x="1086.44" y="212.38" width="27.68" height="27.66" fill="#80f4ff"/>
<rect x="1113.53" y="212.38" width="27.68" height="27.66" fill="#d8fbf0"/>
<rect x="1140.61" y="212.38" width="27.68" height="27.66" fill="#58f4c0"/>
<rect x="1167.69" y="212.38" width="27.68" height="27.66" fill="#a8f860"/>
<rect x="1194.77" y="212.38" width="27.68" height="27.66" fill="#ff9410"/>
<rect x="1221.85" y="212.38" width="27.68" height="27.66" fill="#ffc400"/>
<rect x="1248.93" y="212.38" width="27.68" height="27.66" fill="#ff9410"/>
<rect x="1276.01" y="212.38" width="27.68" height="27.66" fill="#c6ceff"/>
<rect x="1303.09" y="212.38" width="27.68" height="27.66" fill="#ff9878"/>
<rect x="1330.17" y="212.38" width="27.68" height="27.66" fill="#e81800"/>
<rect x="1357.26" y="212.38" width="27.68" height="27.66" fill="#ff9878"/>
<rect x="1384.34" y="212.38" width="27.68" height="27.66" fill="#ff5a08"/>
<rect x="1411.42" y="212.38" width="108.92" height="27.66" fill="#e81800"/>
<rect x="923.96" y="239.44" width="108.92" height="27.66" fill="#0818e8"/>
<rect x="1032.28" y="239.44" width="27.68" height="27.66" fill="#6078ff"/>
<rect x="1059.36" y="239.44" width="27.68" height="27.66" fill="#10b8ff"/>
<rect x="1086.44" y="239.44" width="27.68" height="27.66" fill="#80f4ff"/>
<rect x="1113.53" y="239.44" width="27.68" height="27.66" fill="#58f4c0"/>
<rect x="1140.61" y="239.44" width="27.68" height="27.66" fill="#a8f860"/>
<rect x="1167.69" y="239.44" width="27.68" height="27.66" fill="#fff8c8"/>
<rect x="1194.77" y="239.44" width="27.68" height="27.66" fill="#ff9878"/>
<rect x="1221.85" y="239.44" width="27.68" height="27.66" fill="#ff5a08"/>
<rect x="1248.93" y="239.44" width="27.68" height="27.66" fill="#e81800"/>
<rect x="1276.01" y="239.44" width="27.68" height="27.66" fill="#6078ff"/>
<rect x="1303.09" y="239.44" width="27.68" height="27.66" fill="#0818e8"/>
<rect x="1330.17" y="239.44" width="27.68" height="27.66" fill="#ff9878"/>
<rect x="1357.26" y="239.44" width="27.68" height="27.66" fill="#ffffff"/>
<rect x="1384.34" y="239.44" width="27.68" height="27.66" fill="#ff9410"/>
<rect x="1411.42" y="239.44" width="108.92" height="27.66" fill="#e81800"/>
<rect x="923.96" y="266.50" width="136.01" height="27.66" fill="#c6ceff"/>
<rect x="1059.36" y="266.50" width="27.68" height="27.66" fill="#6078ff"/>
<rect x="1086.44" y="266.50" width="27.68" height="27.66" fill="#c6ceff"/>
<rect x="1113.53" y="266.50" width="27.68" height="27.66" fill="#a8f860"/>
<rect x="1140.61" y="266.50" width="27.68" height="27.66" fill="#fff278"/>
<rect x="1167.69" y="266.50" width="27.68" height="27.66" fill="#ff9410"/>
<rect x="1194.77" y="266.50" width="27.68" height="27.66" fill="#ff5a08"/>
<rect x="1221.85" y="266.50" width="54.76" height="27.66" fill="#7c1a48"/>
<rect x="1276.01" y="266.50" width="27.68" height="27.66" fill="#6078ff"/>
<rect x="1303.09" y="266.50" width="27.68" height="27.66" fill="#0818e8"/>
<rect x="1330.17" y="266.50" width="27.68" height="27.66" fill="#c6ceff"/>
<rect x="1357.26" y="266.50" width="27.68" height="27.66" fill="#ffd6c6"/>
<rect x="1384.34" y="266.50" width="27.68" height="27.66" fill="#e81800"/>
<rect x="1411.42" y="266.50" width="108.92" height="27.66" fill="#7c1a48"/>
<rect x="923.96" y="293.56" width="108.92" height="27.66" fill="#6078ff"/>
<rect x="1032.28" y="293.56" width="27.68" height="27.66" fill="#c6ceff"/>
<rect x="1059.36" y="293.56" width="27.68" height="27.66" fill="#0a68ff"/>
<rect x="1086.44" y="293.56" width="27.68" height="27.66" fill="#c6ceff"/>
<rect x="1113.53" y="293.56" width="27.68" height="27.66" fill="#d8fbf0"/>
<rect x="1140.61" y="293.56" width="27.68" height="27.66" fill="#ffd6c6"/>
<rect x="1167.69" y="293.56" width="54.76" height="27.66" fill="#7c1a48"/>
<rect x="1221.85" y="293.56" width="27.68" height="27.66" fill="#ff9878"/>
<rect x="1248.93" y="293.56" width="27.68" height="27.66" fill="#7c1a48"/>
<rect x="1276.01" y="293.56" width="27.68" height="27.66" fill="#6078ff"/>
<rect x="1303.09" y="293.56" width="27.68" height="27.66" fill="#0a68ff"/>
<rect x="1330.17" y="293.56" width="54.76" height="27.66" fill="#e81800"/>
<rect x="1384.34" y="293.56" width="27.68" height="27.66" fill="#ff9878"/>
<rect x="1411.42" y="293.56" width="108.92" height="27.66" fill="#6078ff"/>
<rect x="923.96" y="320.62" width="136.01" height="27.66" fill="#c6ceff"/>
<rect x="1059.36" y="320.62" width="27.68" height="27.66" fill="#6078ff"/>
<rect x="1086.44" y="320.62" width="27.68" height="27.66" fill="#0a68ff"/>
<rect x="1113.53" y="320.62" width="27.68" height="27.66" fill="#ffffff"/>
<rect x="1140.61" y="320.62" width="54.76" height="27.66" fill="#ffd6c6"/>
<rect x="1194.77" y="320.62" width="27.68" height="27.66" fill="#e81800"/>
<rect x="1221.85" y="320.62" width="27.68" height="27.66" fill="#ff9878"/>
<rect x="1248.93" y="320.62" width="27.68" height="27.66" fill="#7c1a48"/>
<rect x="1276.01" y="320.62" width="27.68" height="27.66" fill="#d8fbf0"/>
<rect x="1303.09" y="320.62" width="27.68" height="27.66" fill="#0a68ff"/>
<rect x="1330.17" y="320.62" width="54.76" height="27.66" fill="#7c1a48"/>
<rect x="1384.34" y="320.62" width="27.68" height="27.66" fill="#6078ff"/>
<rect x="1411.42" y="320.62" width="108.92" height="27.66" fill="#c6ceff"/>
<rect x="923.96" y="347.69" width="136.01" height="27.66" fill="#6078ff"/>
<rect x="1059.36" y="347.69" width="27.68" height="27.66" fill="#80f4ff"/>
<rect x="1086.44" y="347.69" width="27.68" height="27.66" fill="#58f4c0"/>
<rect x="1113.53" y="347.69" width="27.68" height="27.66" fill="#d8fbf0"/>
<rect x="1140.61" y="347.69" width="27.68" height="27.66" fill="#ffffff"/>
<rect x="1167.69" y="347.69" width="27.68" height="27.66" fill="#ffc400"/>
<rect x="1194.77" y="347.69" width="27.68" height="27.66" fill="#ff9410"/>
<rect x="1221.85" y="347.69" width="27.68" height="27.66" fill="#ff5a08"/>
<rect x="1248.93" y="347.69" width="27.68" height="27.66" fill="#ff9878"/>
<rect x="1276.01" y="347.69" width="27.68" height="27.66" fill="#c6ceff"/>
<rect x="1303.09" y="347.69" width="27.68" height="27.66" fill="#0818e8"/>
<rect x="1330.17" y="347.69" width="27.68" height="27.66" fill="#7c1a48"/>
<rect x="1357.26" y="347.69" width="27.68" height="27.66" fill="#0818e8"/>
<rect x="1384.34" y="347.69" width="27.68" height="27.66" fill="#7c1a48"/>
<rect x="1411.42" y="347.69" width="108.92" height="27.66" fill="#e81800"/>
<rect x="923.96" y="374.75" width="108.92" height="27.66" fill="#6078ff"/>
<rect x="1032.28" y="374.75" width="27.68" height="27.66" fill="#c6ceff"/>
<rect x="1059.36" y="374.75" width="27.68" height="27.66" fill="#d8fbf0"/>
<rect x="1086.44" y="374.75" width="27.68" height="27.66" fill="#b0fac8"/>
<rect x="1113.53" y="374.75" width="27.68" height="27.66" fill="#58f4c0"/>
<rect x="1140.61" y="374.75" width="27.68" height="27.66" fill="#d8fbf0"/>
<rect x="1167.69" y="374.75" width="27.68" height="27.66" fill="#ffd6c6"/>
<rect x="1194.77" y="374.75" width="27.68" height="27.66" fill="#ff5a08"/>
<rect x="1221.85" y="374.75" width="27.68" height="27.66" fill="#ff9878"/>
<rect x="1248.93" y="374.75" width="27.68" height="27.66" fill="#ffd6c6"/>
<rect x="1276.01" y="374.75" width="27.68" height="27.66" fill="#ff9878"/>
<rect x="1303.09" y="374.75" width="27.68" height="27.66" fill="#6078ff"/>
<rect x="1330.17" y="374.75" width="81.84" height="27.66" fill="#7c1a48"/>
<rect x="1411.42" y="374.75" width="108.92" height="27.66" fill="#0818e8"/>
<rect x="923.96" y="401.81" width="108.92" height="27.66" fill="#10b8ff"/>
<rect x="1032.28" y="401.81" width="27.68" height="27.66" fill="#80f4ff"/>
<rect x="1059.36" y="401.81" width="27.68" height="27.66" fill="#ffd6c6"/>
<rect x="1086.44" y="401.81" width="27.68" height="27.66" fill="#80f4ff"/>
<rect x="1113.53" y="401.81" width="27.68" height="27.66" fill="#c6ceff"/>
<rect x="1140.61" y="401.81" width="27.68" height="27.66" fill="#d8fbf0"/>
<rect x="1167.69" y="401.81" width="27.68" height="27.66" fill="#58f4c0"/>
<rect x="1194.77" y="401.81" width="27.68" height="27.66" fill="#ffc400"/>
<rect x="1221.85" y="401.81" width="27.68" height="27.66" fill="#ffd6c6"/>
<rect x="1248.93" y="401.81" width="81.84" height="27.66" fill="#ff9878"/>
<rect x="1330.17" y="401.81" width="81.84" height="27.66" fill="#ffd6c6"/>
<rect x="1411.42" y="401.81" width="108.92" height="27.66" fill="#7c1a48"/>
<rect x="923.96" y="428.88" width="163.09" height="27.66" fill="#ffd6c6"/>
<rect x="1086.44" y="428.88" width="54.76" height="27.66" fill="#c6ceff"/>
<rect x="1140.61" y="428.88" width="27.68" height="27.66" fill="#80f4ff"/>
<rect x="1167.69" y="428.88" width="27.68" height="27.66" fill="#10b8ff"/>
<rect x="1194.77" y="428.88" width="27.68" height="27.66" fill="#58f4c0"/>
<rect x="1221.85" y="428.88" width="27.68" height="27.66" fill="#d8fbf0"/>
<rect x="1248.93" y="428.88" width="27.68" height="27.66" fill="#e81800"/>
<rect x="1276.01" y="428.88" width="27.68" height="27.66" fill="#ff9410"/>
<rect x="1303.09" y="428.88" width="27.68" height="27.66" fill="#ff5a08"/>
<rect x="1330.17" y="428.88" width="27.68" height="27.66" fill="#ffd6c6"/>
<rect x="1357.26" y="428.88" width="27.68" height="27.66" fill="#fff8c8"/>
<rect x="1384.34" y="428.88" width="27.68" height="27.66" fill="#7c1a48"/>
<rect x="1411.42" y="428.88" width="108.92" height="27.66" fill="#0818e8"/>
<rect x="923.96" y="455.94" width="108.92" height="27.66" fill="#7c1a48"/>
<rect x="1032.28" y="455.94" width="27.68" height="27.66" fill="#ffffff"/>
<rect x="1059.36" y="455.94" width="27.68" height="27.66" fill="#80f4ff"/>
<rect x="1086.44" y="455.94" width="27.68" height="27.66" fill="#ffffff"/>
<rect x="1113.53" y="455.94" width="27.68" height="27.66" fill="#c6ceff"/>
<rect x="1140.61" y="455.94" width="27.68" height="27.66" fill="#80f4ff"/>
<rect x="1167.69" y="455.94" width="27.68" height="27.66" fill="#d8fbf0"/>
<rect x="1194.77" y="455.94" width="27.68" height="27.66" fill="#ffc400"/>
<rect x="1221.85" y="455.94" width="27.68" height="27.66" fill="#a8f860"/>
<rect x="1248.93" y="455.94" width="54.76" height="27.66" fill="#ff5a08"/>
<rect x="1303.09" y="455.94" width="27.68" height="27.66" fill="#ff9410"/>
<rect x="1330.17" y="455.94" width="27.68" height="27.66" fill="#ff9878"/>
<rect x="1357.26" y="455.94" width="27.68" height="27.66" fill="#ff9410"/>
<rect x="1384.34" y="455.94" width="27.68" height="27.66" fill="#7c1a48"/>
<rect x="1411.42" y="455.94" width="108.92" height="27.66" fill="#0818e8"/>
<rect x="923.96" y="483.00" width="108.92" height="27.66" fill="#ffd6c6"/>
<rect x="1032.28" y="483.00" width="27.68" height="27.66" fill="#d8fbf0"/>
<rect x="1059.36" y="483.00" width="27.68" height="27.66" fill="#ffffff"/>
<rect x="1086.44" y="483.00" width="27.68" height="27.66" fill="#ffd6c6"/>
<rect x="1113.53" y="483.00" width="54.76" height="27.66" fill="#ff9878"/>
<rect x="1167.69" y="483.00" width="27.68" height="27.66" fill="#d8fbf0"/>
<rect x="1194.77" y="483.00" width="27.68" height="27.66" fill="#ff9410"/>
<rect x="1221.85" y="483.00" width="27.68" height="27.66" fill="#a8f860"/>
<rect x="1248.93" y="483.00" width="27.68" height="27.66" fill="#ff5a08"/>
<rect x="1276.01" y="483.00" width="27.68" height="27.66" fill="#e81800"/>
<rect x="1303.09" y="483.00" width="27.68" height="27.66" fill="#7c1a48"/>
<rect x="1330.17" y="483.00" width="27.68" height="27.66" fill="#ff5a08"/>
<rect x="1357.26" y="483.00" width="163.09" height="27.66" fill="#7c1a48"/>
<rect x="923.96" y="510.06" width="136.01" height="27.66" fill="#a8f860"/>
<rect x="1059.36" y="510.06" width="27.68" height="27.66" fill="#d8fbf0"/>
<rect x="1086.44" y="510.06" width="27.68" height="27.66" fill="#ffffff"/>
<rect x="1113.53" y="510.06" width="27.68" height="27.66" fill="#e81800"/>
<rect x="1140.61" y="510.06" width="27.68" height="27.66" fill="#ff9878"/>
<rect x="1167.69" y="510.06" width="27.68" height="27.66" fill="#7c1a48"/>
<rect x="1194.77" y="510.06" width="27.68" height="27.66" fill="#ff9410"/>
<rect x="1221.85" y="510.06" width="27.68" height="27.66" fill="#b0fac8"/>
<rect x="1248.93" y="510.06" width="27.68" height="27.66" fill="#ff9878"/>
<rect x="1276.01" y="510.06" width="27.68" height="27.66" fill="#ffc400"/>
<rect x="1303.09" y="510.06" width="27.68" height="27.66" fill="#ff9878"/>
<rect x="1330.17" y="510.06" width="54.76" height="27.66" fill="#7c1a48"/>
<rect x="1384.34" y="510.06" width="27.68" height="27.66" fill="#e81800"/>
<rect x="1411.42" y="510.06" width="108.92" height="27.66" fill="#ff5a08"/>
<rect x="923.96" y="537.12" width="108.92" height="27.66" fill="#ffd6c6"/>
<rect x="1032.28" y="537.12" width="27.68" height="27.66" fill="#ff5a08"/>
<rect x="1059.36" y="537.12" width="27.68" height="27.66" fill="#b0fac8"/>
<rect x="1086.44" y="537.12" width="27.68" height="27.66" fill="#10b8ff"/>
<rect x="1113.53" y="537.12" width="27.68" height="27.66" fill="#c6ceff"/>
<rect x="1140.61" y="537.12" width="27.68" height="27.66" fill="#fff278"/>
<rect x="1167.69" y="537.12" width="27.68" height="27.66" fill="#e81800"/>
<rect x="1194.77" y="537.12" width="27.68" height="27.66" fill="#ff5a08"/>
<rect x="1221.85" y="537.12" width="27.68" height="27.66" fill="#ffc400"/>
<rect x="1248.93" y="537.12" width="27.68" height="27.66" fill="#ff9410"/>
<rect x="1276.01" y="537.12" width="27.68" height="27.66" fill="#ff5a08"/>
<rect x="1303.09" y="537.12" width="27.68" height="27.66" fill="#ffffff"/>
<rect x="1330.17" y="537.12" width="27.68" height="27.66" fill="#fff8c8"/>
<rect x="1357.26" y="537.12" width="27.68" height="27.66" fill="#ffc400"/>
<rect x="1384.34" y="537.12" width="27.68" height="27.66" fill="#ff9410"/>
<rect x="1411.42" y="537.12" width="108.92" height="27.66" fill="#ff5a08"/>
<rect x="923.96" y="564.19" width="136.01" height="27.66" fill="#ffffff"/>
<rect x="1059.36" y="564.19" width="27.68" height="27.66" fill="#58f4c0"/>
<rect x="1086.44" y="564.19" width="27.68" height="27.66" fill="#0a68ff"/>
<rect x="1113.53" y="564.19" width="27.68" height="27.66" fill="#c6ceff"/>
<rect x="1140.61" y="564.19" width="27.68" height="27.66" fill="#d8fbf0"/>
<rect x="1167.69" y="564.19" width="27.68" height="27.66" fill="#ff9878"/>
<rect x="1194.77" y="564.19" width="27.68" height="27.66" fill="#ff9410"/>
<rect x="1221.85" y="564.19" width="27.68" height="27.66" fill="#ff9878"/>
<rect x="1248.93" y="564.19" width="27.68" height="27.66" fill="#80f4ff"/>
<rect x="1276.01" y="564.19" width="27.68" height="27.66" fill="#58f4c0"/>
<rect x="1303.09" y="564.19" width="27.68" height="27.66" fill="#ffd6c6"/>
<rect x="1330.17" y="564.19" width="27.68" height="27.66" fill="#ff9878"/>
<rect x="1357.26" y="564.19" width="27.68" height="27.66" fill="#ff9410"/>
<rect x="1384.34" y="564.19" width="27.68" height="27.66" fill="#ff5a08"/>
<rect x="1411.42" y="564.19" width="108.92" height="27.66" fill="#ffd6c6"/>
<rect x="923.96" y="591.25" width="108.92" height="27.66" fill="#ffd6c6"/>
<rect x="1032.28" y="591.25" width="27.68" height="27.66" fill="#ffffff"/>
<rect x="1059.36" y="591.25" width="27.68" height="27.66" fill="#a8f860"/>
<rect x="1086.44" y="591.25" width="27.68" height="27.66" fill="#fff278"/>
<rect x="1113.53" y="591.25" width="54.76" height="27.66" fill="#ffffff"/>
<rect x="1167.69" y="591.25" width="27.68" height="27.66" fill="#ffd6c6"/>
<rect x="1194.77" y="591.25" width="27.68" height="27.66" fill="#ff9410"/>
<rect x="1221.85" y="591.25" width="27.68" height="27.66" fill="#ff5a08"/>
<rect x="1248.93" y="591.25" width="27.68" height="27.66" fill="#58f4c0"/>
<rect x="1276.01" y="591.25" width="54.76" height="27.66" fill="#80f4ff"/>
<rect x="1330.17" y="591.25" width="27.68" height="27.66" fill="#d8fbf0"/>
<rect x="1357.26" y="591.25" width="54.76" height="27.66" fill="#a8f860"/>
<rect x="1411.42" y="591.25" width="108.92" height="27.66" fill="#ffc400"/>
<rect x="923.96" y="618.31" width="108.92" height="27.66" fill="#ffd6c6"/>
<rect x="1032.28" y="618.31" width="27.68" height="27.66" fill="#fff8c8"/>
<rect x="1059.36" y="618.31" width="27.68" height="27.66" fill="#58f4c0"/>
<rect x="1086.44" y="618.31" width="27.68" height="27.66" fill="#ffc400"/>
<rect x="1113.53" y="618.31" width="27.68" height="27.66" fill="#ff5a08"/>
<rect x="1140.61" y="618.31" width="27.68" height="27.66" fill="#ffffff"/>
<rect x="1167.69" y="618.31" width="27.68" height="27.66" fill="#ff9878"/>
<rect x="1194.77" y="618.31" width="27.68" height="27.66" fill="#ffd6c6"/>
<rect x="1221.85" y="618.31" width="27.68" height="27.66" fill="#ff5a08"/>
<rect x="1248.93" y="618.31" width="81.84" height="27.66" fill="#a8f860"/>
<rect x="1330.17" y="618.31" width="27.68" height="27.66" fill="#e81800"/>
<rect x="1357.26" y="618.31" width="27.68" height="27.66" fill="#ff9878"/>
<rect x="1384.34" y="618.31" width="27.68" height="27.66" fill="#80f4ff"/>
<rect x="1411.42" y="618.31" width="108.92" height="27.66" fill="#58f4c0"/>
<rect x="923.96" y="645.38" width="108.92" height="27.66" fill="#fff278"/>
<rect x="1032.28" y="645.38" width="27.68" height="27.66" fill="#a8f860"/>
<rect x="1059.36" y="645.38" width="27.68" height="27.66" fill="#58f4c0"/>
<rect x="1086.44" y="645.38" width="27.68" height="27.66" fill="#ff9410"/>
<rect x="1113.53" y="645.38" width="27.68" height="27.66" fill="#7c1a48"/>
<rect x="1140.61" y="645.38" width="27.68" height="27.66" fill="#ff5a08"/>
<rect x="1167.69" y="645.38" width="27.68" height="27.66" fill="#ffc400"/>
<rect x="1194.77" y="645.38" width="27.68" height="27.66" fill="#ff9410"/>
<rect x="1221.85" y="645.38" width="27.68" height="27.66" fill="#e81800"/>
<rect x="1248.93" y="645.38" width="27.68" height="27.66" fill="#ff9878"/>
<rect x="1276.01" y="645.38" width="27.68" height="27.66" fill="#58f4c0"/>
<rect x="1303.09" y="645.38" width="27.68" height="27.66" fill="#ff9410"/>
<rect x="1330.17" y="645.38" width="27.68" height="27.66" fill="#ff5a08"/>
<rect x="1357.26" y="645.38" width="27.68" height="27.66" fill="#ff9410"/>
<rect x="1384.34" y="645.38" width="27.68" height="27.66" fill="#a8f860"/>
<rect x="1411.42" y="645.38" width="108.92" height="27.66" fill="#18ecf0"/>
<rect x="923.96" y="672.44" width="136.01" height="27.66" fill="#ff9878"/>
<rect x="1059.36" y="672.44" width="27.68" height="27.66" fill="#ff9410"/>
<rect x="1086.44" y="672.44" width="27.68" height="27.66" fill="#ff9878"/>
<rect x="1113.53" y="672.44" width="27.68" height="27.66" fill="#e81800"/>
<rect x="1140.61" y="672.44" width="27.68" height="27.66" fill="#58f4c0"/>
<rect x="1167.69" y="672.44" width="54.76" height="27.66" fill="#ff9410"/>
<rect x="1221.85" y="672.44" width="27.68" height="27.66" fill="#ff5a08"/>
<rect x="1248.93" y="672.44" width="27.68" height="27.66" fill="#ffc400"/>
<rect x="1276.01" y="672.44" width="54.76" height="27.66" fill="#58f4c0"/>
<rect x="1330.17" y="672.44" width="27.68" height="27.66" fill="#ff5a08"/>
<rect x="1357.26" y="672.44" width="27.68" height="27.66" fill="#ff9878"/>
<rect x="1384.34" y="672.44" width="27.68" height="27.66" fill="#ff9410"/>
<rect x="1411.42" y="672.44" width="108.92" height="27.66" fill="#10b8ff"/>
<rect x="923.96" y="699.50" width="136.01" height="27.66" fill="#ff9878"/>
<rect x="1059.36" y="699.50" width="27.68" height="27.66" fill="#ff9410"/>
<rect x="1086.44" y="699.50" width="27.68" height="27.66" fill="#ff9878"/>
<rect x="1113.53" y="699.50" width="27.68" height="27.66" fill="#e81800"/>
<rect x="1140.61" y="699.50" width="27.68" height="27.66" fill="#58f4c0"/>
<rect x="1167.69" y="699.50" width="54.76" height="27.66" fill="#ff9410"/>
<rect x="1221.85" y="699.50" width="27.68" height="27.66" fill="#ff5a08"/>
<rect x="1248.93" y="699.50" width="27.68" height="27.66" fill="#ffc400"/>
<rect x="1276.01" y="699.50" width="54.76" height="27.66" fill="#58f4c0"/>
<rect x="1330.17" y="699.50" width="27.68" height="27.66" fill="#ff5a08"/>
<rect x="1357.26" y="699.50" width="27.68" height="27.66" fill="#ff9878"/>
<rect x="1384.34" y="699.50" width="27.68" height="27.66" fill="#ff9410"/>
<rect x="1411.42" y="699.50" width="108.92" height="27.66" fill="#10b8ff"/>
<rect x="923.96" y="726.56" width="136.01" height="27.66" fill="#ff9878"/>
<rect x="1059.36" y="726.56" width="27.68" height="27.66" fill="#ff9410"/>
<rect x="1086.44" y="726.56" width="27.68" height="27.66" fill="#ff9878"/>
<rect x="1113.53" y="726.56" width="27.68" height="27.66" fill="#e81800"/>
<rect x="1140.61" y="726.56" width="27.68" height="27.66" fill="#58f4c0"/>
<rect x="1167.69" y="726.56" width="54.76" height="27.66" fill="#ff9410"/>
<rect x="1221.85" y="726.56" width="27.68" height="27.66" fill="#ff5a08"/>
<rect x="1248.93" y="726.56" width="27.68" height="27.66" fill="#ffc400"/>
<rect x="1276.01" y="726.56" width="54.76" height="27.66" fill="#58f4c0"/>
<rect x="1330.17" y="726.56" width="27.68" height="27.66" fill="#ff5a08"/>
<rect x="1357.26" y="726.56" width="27.68" height="27.66" fill="#ff9878"/>
<rect x="1384.34" y="726.56" width="27.68" height="27.66" fill="#ff9410"/>
<rect x="1411.42" y="726.56" width="108.92" height="27.66" fill="#10b8ff"/>
<rect x="923.96" y="753.62" width="136.01" height="27.66" fill="#ff9878"/>
<rect x="1059.36" y="753.62" width="27.68" height="27.66" fill="#ff9410"/>
<rect x="1086.44" y="753.62" width="27.68" height="27.66" fill="#ff9878"/>
<rect x="1113.53" y="753.62" width="27.68" height="27.66" fill="#e81800"/>
<rect x="1140.61" y="753.62" width="27.68" height="27.66" fill="#58f4c0"/>
<rect x="1167.69" y="753.62" width="54.76" height="27.66" fill="#ff9410"/>
<rect x="1221.85" y="753.62" width="27.68" height="27.66" fill="#ff5a08"/>
<rect x="1248.93" y="753.62" width="27.68" height="27.66" fill="#ffc400"/>
<rect x="1276.01" y="753.62" width="54.76" height="27.66" fill="#58f4c0"/>
<rect x="1330.17" y="753.62" width="27.68" height="27.66" fill="#ff5a08"/>
<rect x="1357.26" y="753.62" width="27.68" height="27.66" fill="#ff9878"/>
<rect x="1384.34" y="753.62" width="27.68" height="27.66" fill="#ff9410"/>
<rect x="1411.42" y="753.62" width="108.92" height="27.66" fill="#10b8ff"/>
</g>
<rect x="1005" y="49.5" width="126" height="14" fill="#fff"/>
<rect x="1290" y="680" width="150" height="20" fill="#fff"/>
</g>
<clipPath id="clipP4"><rect x="102.0" y="800.0" width="431.00" height="345.70"/></clipPath>
<g clip-path="url(#clipP4)"><g filter="url(#bl7)">
<rect x="21.19" y="720.22" width="108.35" height="27.19" fill="#ff9410"/>
<rect x="128.94" y="720.22" width="27.54" height="27.19" fill="#ff5a08"/>
<rect x="155.88" y="720.22" width="27.54" height="27.19" fill="#0a68ff"/>
<rect x="182.81" y="720.22" width="27.54" height="27.19" fill="#10b8ff"/>
<rect x="209.75" y="720.22" width="27.54" height="27.19" fill="#58f4c0"/>
<rect x="236.69" y="720.22" width="27.54" height="27.19" fill="#ff9410"/>
<rect x="263.62" y="720.22" width="27.54" height="27.19" fill="#ff5a08"/>
<rect x="290.56" y="720.22" width="27.54" height="27.19" fill="#ac7c62"/>
<rect x="317.50" y="720.22" width="27.54" height="27.19" fill="#8a9289"/>
<rect x="344.44" y="720.22" width="27.54" height="27.19" fill="#6cacb0"/>
<rect x="371.38" y="720.22" width="54.48" height="27.19" fill="#10b8ff"/>
<rect x="425.25" y="720.22" width="54.48" height="27.19" fill="#ff5a08"/>
<rect x="479.12" y="720.22" width="135.29" height="27.19" fill="#8a9289"/>
<rect x="21.19" y="746.82" width="108.35" height="27.19" fill="#ff9410"/>
<rect x="128.94" y="746.82" width="27.54" height="27.19" fill="#ff5a08"/>
<rect x="155.88" y="746.82" width="27.54" height="27.19" fill="#0a68ff"/>
<rect x="182.81" y="746.82" width="27.54" height="27.19" fill="#10b8ff"/>
<rect x="209.75" y="746.82" width="27.54" height="27.19" fill="#58f4c0"/>
<rect x="236.69" y="746.82" width="27.54" height="27.19" fill="#ff9410"/>
<rect x="263.62" y="746.82" width="27.54" height="27.19" fill="#ff5a08"/>
<rect x="290.56" y="746.82" width="27.54" height="27.19" fill="#ac7c62"/>
<rect x="317.50" y="746.82" width="27.54" height="27.19" fill="#8a9289"/>
<rect x="344.44" y="746.82" width="27.54" height="27.19" fill="#6cacb0"/>
<rect x="371.38" y="746.82" width="54.48" height="27.19" fill="#10b8ff"/>
<rect x="425.25" y="746.82" width="54.48" height="27.19" fill="#ff5a08"/>
<rect x="479.12" y="746.82" width="135.29" height="27.19" fill="#8a9289"/>
<rect x="21.19" y="773.41" width="108.35" height="27.19" fill="#ff9410"/>
<rect x="128.94" y="773.41" width="27.54" height="27.19" fill="#ff5a08"/>
<rect x="155.88" y="773.41" width="27.54" height="27.19" fill="#0a68ff"/>
<rect x="182.81" y="773.41" width="27.54" height="27.19" fill="#10b8ff"/>
<rect x="209.75" y="773.41" width="27.54" height="27.19" fill="#58f4c0"/>
<rect x="236.69" y="773.41" width="27.54" height="27.19" fill="#ff9410"/>
<rect x="263.62" y="773.41" width="27.54" height="27.19" fill="#ff5a08"/>
<rect x="290.56" y="773.41" width="27.54" height="27.19" fill="#ac7c62"/>
<rect x="317.50" y="773.41" width="27.54" height="27.19" fill="#8a9289"/>
<rect x="344.44" y="773.41" width="27.54" height="27.19" fill="#6cacb0"/>
<rect x="371.38" y="773.41" width="54.48" height="27.19" fill="#10b8ff"/>
<rect x="425.25" y="773.41" width="54.48" height="27.19" fill="#ff5a08"/>
<rect x="479.12" y="773.41" width="135.29" height="27.19" fill="#8a9289"/>
<rect x="21.19" y="800.00" width="108.35" height="27.19" fill="#ff9410"/>
<rect x="128.94" y="800.00" width="27.54" height="27.19" fill="#ff5a08"/>
<rect x="155.88" y="800.00" width="27.54" height="27.19" fill="#0a68ff"/>
<rect x="182.81" y="800.00" width="27.54" height="27.19" fill="#10b8ff"/>
<rect x="209.75" y="800.00" width="27.54" height="27.19" fill="#58f4c0"/>
<rect x="236.69" y="800.00" width="27.54" height="27.19" fill="#ff9410"/>
<rect x="263.62" y="800.00" width="27.54" height="27.19" fill="#ff5a08"/>
<rect x="290.56" y="800.00" width="27.54" height="27.19" fill="#ac7c62"/>
<rect x="317.50" y="800.00" width="27.54" height="27.19" fill="#8a9289"/>
<rect x="344.44" y="800.00" width="27.54" height="27.19" fill="#6cacb0"/>
<rect x="371.38" y="800.00" width="54.48" height="27.19" fill="#10b8ff"/>
<rect x="425.25" y="800.00" width="54.48" height="27.19" fill="#ff5a08"/>
<rect x="479.12" y="800.00" width="135.29" height="27.19" fill="#8a9289"/>
<rect x="21.19" y="826.59" width="108.35" height="27.19" fill="#ff5a08"/>
<rect x="128.94" y="826.59" width="27.54" height="27.19" fill="#ff9410"/>
<rect x="155.88" y="826.59" width="27.54" height="27.19" fill="#0a68ff"/>
<rect x="182.81" y="826.59" width="27.54" height="27.19" fill="#18ecf0"/>
<rect x="209.75" y="826.59" width="27.54" height="27.19" fill="#a8f860"/>
<rect x="236.69" y="826.59" width="27.54" height="27.19" fill="#6cacb0"/>
<rect x="263.62" y="826.59" width="108.35" height="27.19" fill="#8a9289"/>
<rect x="371.38" y="826.59" width="27.54" height="27.19" fill="#6cacb0"/>
<rect x="398.31" y="826.59" width="27.54" height="27.19" fill="#10b8ff"/>
<rect x="425.25" y="826.59" width="27.54" height="27.19" fill="#58f4c0"/>
<rect x="452.19" y="826.59" width="27.54" height="27.19" fill="#a8f860"/>
<rect x="479.12" y="826.59" width="135.29" height="27.19" fill="#8a9289"/>
<rect x="21.19" y="853.18" width="108.35" height="27.19" fill="#7c1a48"/>
<rect x="128.94" y="853.18" width="27.54" height="27.19" fill="#e81800"/>
<rect x="155.88" y="853.18" width="27.54" height="27.19" fill="#0a68ff"/>
<rect x="182.81" y="853.18" width="54.48" height="27.19" fill="#10b8ff"/>
<rect x="236.69" y="853.18" width="27.54" height="27.19" fill="#6cacb0"/>
<rect x="263.62" y="853.18" width="27.54" height="27.19" fill="#8a9289"/>
<rect x="290.56" y="853.18" width="54.48" height="27.19" fill="#ac7c62"/>
<rect x="344.44" y="853.18" width="54.48" height="27.19" fill="#8a9289"/>
<rect x="398.31" y="853.18" width="27.54" height="27.19" fill="#0a68ff"/>
<rect x="425.25" y="853.18" width="27.54" height="27.19" fill="#18ecf0"/>
<rect x="452.19" y="853.18" width="27.54" height="27.19" fill="#10b8ff"/>
<rect x="479.12" y="853.18" width="135.29" height="27.19" fill="#8a9289"/>
<rect x="21.19" y="879.78" width="108.35" height="27.19" fill="#0a68ff"/>
<rect x="128.94" y="879.78" width="27.54" height="27.19" fill="#ac7c62"/>
<rect x="155.88" y="879.78" width="27.54" height="27.19" fill="#7c1a48"/>
<rect x="182.81" y="879.78" width="27.54" height="27.19" fill="#0818e8"/>
<rect x="209.75" y="879.78" width="27.54" height="27.19" fill="#0a68ff"/>
<rect x="236.69" y="879.78" width="54.48" height="27.19" fill="#6cacb0"/>
<rect x="290.56" y="879.78" width="54.48" height="27.19" fill="#ac7c62"/>
<rect x="344.44" y="879.78" width="54.48" height="27.19" fill="#8a9289"/>
<rect x="398.31" y="879.78" width="27.54" height="27.19" fill="#6cacb0"/>
<rect x="425.25" y="879.78" width="27.54" height="27.19" fill="#10b8ff"/>
<rect x="452.19" y="879.78" width="27.54" height="27.19" fill="#0818e8"/>
<rect x="479.12" y="879.78" width="135.29" height="27.19" fill="#8a9289"/>
<rect x="21.19" y="906.37" width="108.35" height="27.19" fill="#7c1a48"/>
<rect x="128.94" y="906.37" width="54.48" height="27.19" fill="#ac7c62"/>
<rect x="182.81" y="906.37" width="27.54" height="27.19" fill="#6cacb0"/>
<rect x="209.75" y="906.37" width="54.48" height="27.19" fill="#8a9289"/>
<rect x="263.62" y="906.37" width="27.54" height="27.19" fill="#6cacb0"/>
<rect x="290.56" y="906.37" width="135.29" height="27.19" fill="#8a9289"/>
<rect x="425.25" y="906.37" width="54.48" height="27.19" fill="#ac7c62"/>
<rect x="479.12" y="906.37" width="135.29" height="27.19" fill="#8a9289"/>
<rect x="21.19" y="932.96" width="108.35" height="27.19" fill="#ff5a08"/>
<rect x="128.94" y="932.96" width="27.54" height="27.19" fill="#6cacb0"/>
<rect x="155.88" y="932.96" width="108.35" height="27.19" fill="#8a9289"/>
<rect x="263.62" y="932.96" width="27.54" height="27.19" fill="#ac7c62"/>
<rect x="290.56" y="932.96" width="54.48" height="27.19" fill="#8a9289"/>
<rect x="344.44" y="932.96" width="27.54" height="27.19" fill="#ac7c62"/>
<rect x="371.38" y="932.96" width="27.54" height="27.19" fill="#ff5a08"/>
<rect x="398.31" y="932.96" width="27.54" height="27.19" fill="#ac7c62"/>
<rect x="425.25" y="932.96" width="27.54" height="27.19" fill="#7c1a48"/>
<rect x="452.19" y="932.96" width="27.54" height="27.19" fill="#ac7c62"/>
<rect x="479.12" y="932.96" width="135.29" height="27.19" fill="#8a9289"/>
<rect x="21.19" y="959.55" width="135.29" height="27.19" fill="#ff5a08"/>
<rect x="155.88" y="959.55" width="27.54" height="27.19" fill="#6cacb0"/>
<rect x="182.81" y="959.55" width="27.54" height="27.19" fill="#8a9289"/>
<rect x="209.75" y="959.55" width="27.54" height="27.19" fill="#ac7c62"/>
<rect x="236.69" y="959.55" width="27.54" height="27.19" fill="#ff5a08"/>
<rect x="263.62" y="959.55" width="27.54" height="27.19" fill="#6cacb0"/>
<rect x="290.56" y="959.55" width="27.54" height="27.19" fill="#7c1a48"/>
<rect x="317.50" y="959.55" width="27.54" height="27.19" fill="#ac7c62"/>
<rect x="344.44" y="959.55" width="27.54" height="27.19" fill="#8a9289"/>
<rect x="371.38" y="959.55" width="27.54" height="27.19" fill="#7c1a48"/>
<rect x="398.31" y="959.55" width="27.54" height="27.19" fill="#e81800"/>
<rect x="425.25" y="959.55" width="27.54" height="27.19" fill="#ff9410"/>
<rect x="452.19" y="959.55" width="27.54" height="27.19" fill="#ff5a08"/>
<rect x="479.12" y="959.55" width="135.29" height="27.19" fill="#8a9289"/>
<rect x="21.19" y="986.15" width="108.35" height="27.19" fill="#ff9410"/>
<rect x="128.94" y="986.15" width="27.54" height="27.19" fill="#ff5a08"/>
<rect x="155.88" y="986.15" width="27.54" height="27.19" fill="#8a9289"/>
<rect x="182.81" y="986.15" width="27.54" height="27.19" fill="#6cacb0"/>
<rect x="209.75" y="986.15" width="27.54" height="27.19" fill="#8a9289"/>
<rect x="236.69" y="986.15" width="27.54" height="27.19" fill="#10b8ff"/>
<rect x="263.62" y="986.15" width="27.54" height="27.19" fill="#58f4c0"/>
<rect x="290.56" y="986.15" width="27.54" height="27.19" fill="#ff5a08"/>
<rect x="317.50" y="986.15" width="27.54" height="27.19" fill="#a8f860"/>
<rect x="344.44" y="986.15" width="54.48" height="27.19" fill="#8a9289"/>
<rect x="398.31" y="986.15" width="27.54" height="27.19" fill="#58f4c0"/>
<rect x="425.25" y="986.15" width="27.54" height="27.19" fill="#ffc400"/>
<rect x="452.19" y="986.15" width="27.54" height="27.19" fill="#ff5a08"/>
<rect x="479.12" y="986.15" width="27.54" height="27.19" fill="#ac7c62"/>
<rect x="506.06" y="986.15" width="108.35" height="27.19" fill="#8a9289"/>
<rect x="21.19" y="1012.74" width="108.35" height="27.19" fill="#7c1a48"/>
<rect x="128.94" y="1012.74" width="27.54" height="27.19" fill="#ff5a08"/>
<rect x="155.88" y="1012.74" width="27.54" height="27.19" fill="#8a9289"/>
<rect x="182.81" y="1012.74" width="54.48" height="27.19" fill="#6cacb0"/>
<rect x="236.69" y="1012.74" width="27.54" height="27.19" fill="#a8f860"/>
<rect x="263.62" y="1012.74" width="27.54" height="27.19" fill="#ffc400"/>
<rect x="290.56" y="1012.74" width="27.54" height="27.19" fill="#ff9410"/>
<rect x="317.50" y="1012.74" width="27.54" height="27.19" fill="#6cacb0"/>
<rect x="344.44" y="1012.74" width="27.54" height="27.19" fill="#8a9289"/>
<rect x="371.38" y="1012.74" width="27.54" height="27.19" fill="#6cacb0"/>
<rect x="398.31" y="1012.74" width="27.54" height="27.19" fill="#0a68ff"/>
<rect x="425.25" y="1012.74" width="27.54" height="27.19" fill="#10b8ff"/>
<rect x="452.19" y="1012.74" width="27.54" height="27.19" fill="#58f4c0"/>
<rect x="479.12" y="1012.74" width="27.54" height="27.19" fill="#6cacb0"/>
<rect x="506.06" y="1012.74" width="108.35" height="27.19" fill="#8a9289"/>
<rect x="21.19" y="1039.33" width="108.35" height="27.19" fill="#7c1a48"/>
<rect x="128.94" y="1039.33" width="27.54" height="27.19" fill="#e81800"/>
<rect x="155.88" y="1039.33" width="27.54" height="27.19" fill="#ac7c62"/>
<rect x="182.81" y="1039.33" width="27.54" height="27.19" fill="#8a9289"/>
<rect x="209.75" y="1039.33" width="27.54" height="27.19" fill="#0a68ff"/>
<rect x="236.69" y="1039.33" width="27.54" height="27.19" fill="#58f4c0"/>
<rect x="263.62" y="1039.33" width="27.54" height="27.19" fill="#ffc400"/>
<rect x="290.56" y="1039.33" width="27.54" height="27.19" fill="#10b8ff"/>
<rect x="317.50" y="1039.33" width="27.54" height="27.19" fill="#6cacb0"/>
<rect x="344.44" y="1039.33" width="27.54" height="27.19" fill="#8a9289"/>
<rect x="371.38" y="1039.33" width="27.54" height="27.19" fill="#7c1a48"/>
<rect x="398.31" y="1039.33" width="27.54" height="27.19" fill="#0a68ff"/>
<rect x="425.25" y="1039.33" width="27.54" height="27.19" fill="#10b8ff"/>
<rect x="452.19" y="1039.33" width="27.54" height="27.19" fill="#a8f860"/>
<rect x="479.12" y="1039.33" width="135.29" height="27.19" fill="#ff9410"/>
<rect x="21.19" y="1065.92" width="108.35" height="27.19" fill="#e81800"/>
<rect x="128.94" y="1065.92" width="27.54" height="27.19" fill="#ff5a08"/>
<rect x="155.88" y="1065.92" width="27.54" height="27.19" fill="#e81800"/>
<rect x="182.81" y="1065.92" width="27.54" height="27.19" fill="#0818e8"/>
<rect x="209.75" y="1065.92" width="27.54" height="27.19" fill="#0a68ff"/>
<rect x="236.69" y="1065.92" width="27.54" height="27.19" fill="#18ecf0"/>
<rect x="263.62" y="1065.92" width="27.54" height="27.19" fill="#0a68ff"/>
<rect x="290.56" y="1065.92" width="27.54" height="27.19" fill="#0818e8"/>
<rect x="317.50" y="1065.92" width="27.54" height="27.19" fill="#6cacb0"/>
<rect x="344.44" y="1065.92" width="27.54" height="27.19" fill="#10b8ff"/>
<rect x="371.38" y="1065.92" width="27.54" height="27.19" fill="#0818e8"/>
<rect x="398.31" y="1065.92" width="27.54" height="27.19" fill="#10b8ff"/>
<rect x="425.25" y="1065.92" width="27.54" height="27.19" fill="#18ecf0"/>
<rect x="452.19" y="1065.92" width="27.54" height="27.19" fill="#58f4c0"/>
<rect x="479.12" y="1065.92" width="27.54" height="27.19" fill="#ff9410"/>
<rect x="506.06" y="1065.92" width="108.35" height="27.19" fill="#ff5a08"/>
<rect x="21.19" y="1092.52" width="108.35" height="27.19" fill="#ff9410"/>
<rect x="128.94" y="1092.52" width="27.54" height="27.19" fill="#10b8ff"/>
<rect x="155.88" y="1092.52" width="54.48" height="27.19" fill="#7c1a48"/>
<rect x="209.75" y="1092.52" width="27.54" height="27.19" fill="#0818e8"/>
<rect x="236.69" y="1092.52" width="27.54" height="27.19" fill="#7c1a48"/>
<rect x="263.62" y="1092.52" width="27.54" height="27.19" fill="#10b8ff"/>
<rect x="290.56" y="1092.52" width="27.54" height="27.19" fill="#6cacb0"/>
<rect x="317.50" y="1092.52" width="27.54" height="27.19" fill="#18ecf0"/>
<rect x="344.44" y="1092.52" width="27.54" height="27.19" fill="#ac7c62"/>
<rect x="371.38" y="1092.52" width="27.54" height="27.19" fill="#18ecf0"/>
<rect x="398.31" y="1092.52" width="27.54" height="27.19" fill="#10b8ff"/>
<rect x="425.25" y="1092.52" width="27.54" height="27.19" fill="#58f4c0"/>
<rect x="452.19" y="1092.52" width="27.54" height="27.19" fill="#a8f860"/>
<rect x="479.12" y="1092.52" width="27.54" height="27.19" fill="#ff5a08"/>
<rect x="506.06" y="1092.52" width="108.35" height="27.19" fill="#7c1a48"/>
<rect x="21.19" y="1119.11" width="108.35" height="27.19" fill="#10b8ff"/>
<rect x="128.94" y="1119.11" width="27.54" height="27.19" fill="#0a68ff"/>
<rect x="155.88" y="1119.11" width="27.54" height="27.19" fill="#6cacb0"/>
<rect x="182.81" y="1119.11" width="27.54" height="27.19" fill="#e81800"/>
<rect x="209.75" y="1119.11" width="27.54" height="27.19" fill="#7c1a48"/>
<rect x="236.69" y="1119.11" width="27.54" height="27.19" fill="#0818e8"/>
<rect x="263.62" y="1119.11" width="27.54" height="27.19" fill="#7c1a48"/>
<rect x="290.56" y="1119.11" width="54.48" height="27.19" fill="#6cacb0"/>
<rect x="344.44" y="1119.11" width="27.54" height="27.19" fill="#0a68ff"/>
<rect x="371.38" y="1119.11" width="27.54" height="27.19" fill="#0818e8"/>
<rect x="398.31" y="1119.11" width="27.54" height="27.19" fill="#10b8ff"/>
<rect x="425.25" y="1119.11" width="27.54" height="27.19" fill="#0a68ff"/>
<rect x="452.19" y="1119.11" width="27.54" height="27.19" fill="#ff9410"/>
<rect x="479.12" y="1119.11" width="27.54" height="27.19" fill="#7c1a48"/>
<rect x="506.06" y="1119.11" width="108.35" height="27.19" fill="#0818e8"/>
<rect x="21.19" y="1145.70" width="108.35" height="27.19" fill="#10b8ff"/>
<rect x="128.94" y="1145.70" width="27.54" height="27.19" fill="#0a68ff"/>
<rect x="155.88" y="1145.70" width="27.54" height="27.19" fill="#6cacb0"/>
<rect x="182.81" y="1145.70" width="27.54" height="27.19" fill="#e81800"/>
<rect x="209.75" y="1145.70" width="27.54" height="27.19" fill="#7c1a48"/>
<rect x="236.69" y="1145.70" width="27.54" height="27.19" fill="#0818e8"/>
<rect x="263.62" y="1145.70" width="27.54" height="27.19" fill="#7c1a48"/>
<rect x="290.56" y="1145.70" width="54.48" height="27.19" fill="#6cacb0"/>
<rect x="344.44" y="1145.70" width="27.54" height="27.19" fill="#0a68ff"/>
<rect x="371.38" y="1145.70" width="27.54" height="27.19" fill="#0818e8"/>
<rect x="398.31" y="1145.70" width="27.54" height="27.19" fill="#10b8ff"/>
<rect x="425.25" y="1145.70" width="27.54" height="27.19" fill="#0a68ff"/>
<rect x="452.19" y="1145.70" width="27.54" height="27.19" fill="#ff9410"/>
<rect x="479.12" y="1145.70" width="27.54" height="27.19" fill="#7c1a48"/>
<rect x="506.06" y="1145.70" width="108.35" height="27.19" fill="#0818e8"/>
<rect x="21.19" y="1172.29" width="108.35" height="27.19" fill="#10b8ff"/>
<rect x="128.94" y="1172.29" width="27.54" height="27.19" fill="#0a68ff"/>
<rect x="155.88" y="1172.29" width="27.54" height="27.19" fill="#6cacb0"/>
<rect x="182.81" y="1172.29" width="27.54" height="27.19" fill="#e81800"/>
<rect x="209.75" y="1172.29" width="27.54" height="27.19" fill="#7c1a48"/>
<rect x="236.69" y="1172.29" width="27.54" height="27.19" fill="#0818e8"/>
<rect x="263.62" y="1172.29" width="27.54" height="27.19" fill="#7c1a48"/>
<rect x="290.56" y="1172.29" width="54.48" height="27.19" fill="#6cacb0"/>
<rect x="344.44" y="1172.29" width="27.54" height="27.19" fill="#0a68ff"/>
<rect x="371.38" y="1172.29" width="27.54" height="27.19" fill="#0818e8"/>
<rect x="398.31" y="1172.29" width="27.54" height="27.19" fill="#10b8ff"/>
<rect x="425.25" y="1172.29" width="27.54" height="27.19" fill="#0a68ff"/>
<rect x="452.19" y="1172.29" width="27.54" height="27.19" fill="#ff9410"/>
<rect x="479.12" y="1172.29" width="27.54" height="27.19" fill="#7c1a48"/>
<rect x="506.06" y="1172.29" width="108.35" height="27.19" fill="#0818e8"/>
<rect x="21.19" y="1198.88" width="108.35" height="27.19" fill="#10b8ff"/>
<rect x="128.94" y="1198.88" width="27.54" height="27.19" fill="#0a68ff"/>
<rect x="155.88" y="1198.88" width="27.54" height="27.19" fill="#6cacb0"/>
<rect x="182.81" y="1198.88" width="27.54" height="27.19" fill="#e81800"/>
<rect x="209.75" y="1198.88" width="27.54" height="27.19" fill="#7c1a48"/>
<rect x="236.69" y="1198.88" width="27.54" height="27.19" fill="#0818e8"/>
<rect x="263.62" y="1198.88" width="27.54" height="27.19" fill="#7c1a48"/>
<rect x="290.56" y="1198.88" width="54.48" height="27.19" fill="#6cacb0"/>
<rect x="344.44" y="1198.88" width="27.54" height="27.19" fill="#0a68ff"/>
<rect x="371.38" y="1198.88" width="27.54" height="27.19" fill="#0818e8"/>
<rect x="398.31" y="1198.88" width="27.54" height="27.19" fill="#10b8ff"/>
<rect x="425.25" y="1198.88" width="27.54" height="27.19" fill="#0a68ff"/>
<rect x="452.19" y="1198.88" width="27.54" height="27.19" fill="#ff9410"/>
<rect x="479.12" y="1198.88" width="27.54" height="27.19" fill="#7c1a48"/>
<rect x="506.06" y="1198.88" width="108.35" height="27.19" fill="#0818e8"/>
</g>
<polygon points="495.1,800.0 537.3,800.0 537.3,1062.0 527.0,1060.0 505.8,1045.1 483.0,1013.0 457.1,964.9 458.9,940.0 461.9,926.9 470.1,896.1 476.1,852.9" fill="#8a9289"/>
</g>
<clipPath id="clipP5"><rect x="557.3" y="802.2" width="431.40" height="346.10"/></clipPath>
<g clip-path="url(#clipP5)"><g filter="url(#bl7)">
<rect x="476.41" y="722.33" width="108.45" height="27.22" fill="#ff9410"/>
<rect x="584.26" y="722.33" width="27.56" height="27.22" fill="#ff5a08"/>
<rect x="611.22" y="722.33" width="27.56" height="27.22" fill="#7c1a48"/>
<rect x="638.19" y="722.33" width="27.56" height="27.22" fill="#0a68ff"/>
<rect x="665.15" y="722.33" width="27.56" height="27.22" fill="#10b8ff"/>
<rect x="692.11" y="722.33" width="27.56" height="27.22" fill="#58f4c0"/>
<rect x="719.08" y="722.33" width="27.56" height="27.22" fill="#ff9410"/>
<rect x="746.04" y="722.33" width="27.56" height="27.22" fill="#ff5a08"/>
<rect x="773.00" y="722.33" width="27.56" height="27.22" fill="#c6ceff"/>
<rect x="799.96" y="722.33" width="27.56" height="27.22" fill="#6078ff"/>
<rect x="826.92" y="722.33" width="27.56" height="27.22" fill="#0a68ff"/>
<rect x="853.89" y="722.33" width="27.56" height="27.22" fill="#58f4c0"/>
<rect x="880.85" y="722.33" width="54.53" height="27.22" fill="#ff5a08"/>
<rect x="934.78" y="722.33" width="27.56" height="27.22" fill="#fff278"/>
<rect x="961.74" y="722.33" width="108.45" height="27.22" fill="#ffffff"/>
<rect x="476.41" y="748.95" width="108.45" height="27.22" fill="#ff9410"/>
<rect x="584.26" y="748.95" width="27.56" height="27.22" fill="#ff5a08"/>
<rect x="611.22" y="748.95" width="27.56" height="27.22" fill="#7c1a48"/>
<rect x="638.19" y="748.95" width="27.56" height="27.22" fill="#0a68ff"/>
<rect x="665.15" y="748.95" width="27.56" height="27.22" fill="#10b8ff"/>
<rect x="692.11" y="748.95" width="27.56" height="27.22" fill="#58f4c0"/>
<rect x="719.08" y="748.95" width="27.56" height="27.22" fill="#ff9410"/>
<rect x="746.04" y="748.95" width="27.56" height="27.22" fill="#ff5a08"/>
<rect x="773.00" y="748.95" width="27.56" height="27.22" fill="#c6ceff"/>
<rect x="799.96" y="748.95" width="27.56" height="27.22" fill="#6078ff"/>
<rect x="826.92" y="748.95" width="27.56" height="27.22" fill="#0a68ff"/>
<rect x="853.89" y="748.95" width="27.56" height="27.22" fill="#58f4c0"/>
<rect x="880.85" y="748.95" width="54.53" height="27.22" fill="#ff5a08"/>
<rect x="934.78" y="748.95" width="27.56" height="27.22" fill="#fff278"/>
<rect x="961.74" y="748.95" width="108.45" height="27.22" fill="#ffffff"/>
<rect x="476.41" y="775.58" width="108.45" height="27.22" fill="#ff9410"/>
<rect x="584.26" y="775.58" width="27.56" height="27.22" fill="#ff5a08"/>
<rect x="611.22" y="775.58" width="27.56" height="27.22" fill="#7c1a48"/>
<rect x="638.19" y="775.58" width="27.56" height="27.22" fill="#0a68ff"/>
<rect x="665.15" y="775.58" width="27.56" height="27.22" fill="#10b8ff"/>
<rect x="692.11" y="775.58" width="27.56" height="27.22" fill="#58f4c0"/>
<rect x="719.08" y="775.58" width="27.56" height="27.22" fill="#ff9410"/>
<rect x="746.04" y="775.58" width="27.56" height="27.22" fill="#ff5a08"/>
<rect x="773.00" y="775.58" width="27.56" height="27.22" fill="#c6ceff"/>
<rect x="799.96" y="775.58" width="27.56" height="27.22" fill="#6078ff"/>
<rect x="826.92" y="775.58" width="27.56" height="27.22" fill="#0a68ff"/>
<rect x="853.89" y="775.58" width="27.56" height="27.22" fill="#58f4c0"/>
<rect x="880.85" y="775.58" width="54.53" height="27.22" fill="#ff5a08"/>
<rect x="934.78" y="775.58" width="27.56" height="27.22" fill="#fff278"/>
<rect x="961.74" y="775.58" width="108.45" height="27.22" fill="#ffffff"/>
<rect x="476.41" y="802.20" width="108.45" height="27.22" fill="#ff9410"/>
<rect x="584.26" y="802.20" width="27.56" height="27.22" fill="#ff5a08"/>
<rect x="611.22" y="802.20" width="27.56" height="27.22" fill="#7c1a48"/>
<rect x="638.19" y="802.20" width="27.56" height="27.22" fill="#0a68ff"/>
<rect x="665.15" y="802.20" width="27.56" height="27.22" fill="#10b8ff"/>
<rect x="692.11" y="802.20" width="27.56" height="27.22" fill="#58f4c0"/>
<rect x="719.08" y="802.20" width="27.56" height="27.22" fill="#ff9410"/>
<rect x="746.04" y="802.20" width="27.56" height="27.22" fill="#ff5a08"/>
<rect x="773.00" y="802.20" width="27.56" height="27.22" fill="#c6ceff"/>
<rect x="799.96" y="802.20" width="27.56" height="27.22" fill="#6078ff"/>
<rect x="826.92" y="802.20" width="27.56" height="27.22" fill="#0a68ff"/>
<rect x="853.89" y="802.20" width="27.56" height="27.22" fill="#58f4c0"/>
<rect x="880.85" y="802.20" width="54.53" height="27.22" fill="#ff5a08"/>
<rect x="934.78" y="802.20" width="27.56" height="27.22" fill="#fff278"/>
<rect x="961.74" y="802.20" width="108.45" height="27.22" fill="#ffffff"/>
<rect x="476.41" y="828.82" width="108.45" height="27.22" fill="#ff5a08"/>
<rect x="584.26" y="828.82" width="27.56" height="27.22" fill="#ffc400"/>
<rect x="611.22" y="828.82" width="27.56" height="27.22" fill="#7c1a48"/>
<rect x="638.19" y="828.82" width="27.56" height="27.22" fill="#10b8ff"/>
<rect x="665.15" y="828.82" width="27.56" height="27.22" fill="#58f4c0"/>
<rect x="692.11" y="828.82" width="27.56" height="27.22" fill="#ffc400"/>
<rect x="719.08" y="828.82" width="27.56" height="27.22" fill="#80f4ff"/>
<rect x="746.04" y="828.82" width="54.53" height="27.22" fill="#ffffff"/>
<rect x="799.96" y="828.82" width="27.56" height="27.22" fill="#c6ceff"/>
<rect x="826.92" y="828.82" width="27.56" height="27.22" fill="#d8fbf0"/>
<rect x="853.89" y="828.82" width="27.56" height="27.22" fill="#10b8ff"/>
<rect x="880.85" y="828.82" width="27.56" height="27.22" fill="#58f4c0"/>
<rect x="907.81" y="828.82" width="27.56" height="27.22" fill="#b0fac8"/>
<rect x="934.78" y="828.82" width="27.56" height="27.22" fill="#fff8c8"/>
<rect x="961.74" y="828.82" width="108.45" height="27.22" fill="#ffffff"/>
<rect x="476.41" y="855.45" width="108.45" height="27.22" fill="#7c1a48"/>
<rect x="584.26" y="855.45" width="27.56" height="27.22" fill="#e81800"/>
<rect x="611.22" y="855.45" width="27.56" height="27.22" fill="#0818e8"/>
<rect x="638.19" y="855.45" width="27.56" height="27.22" fill="#10b8ff"/>
<rect x="665.15" y="855.45" width="54.53" height="27.22" fill="#58f4c0"/>
<rect x="719.08" y="855.45" width="27.56" height="27.22" fill="#80f4ff"/>
<rect x="746.04" y="855.45" width="27.56" height="27.22" fill="#d8fbf0"/>
<rect x="773.00" y="855.45" width="27.56" height="27.22" fill="#fff278"/>
<rect x="799.96" y="855.45" width="27.56" height="27.22" fill="#ffd6c6"/>
<rect x="826.92" y="855.45" width="27.56" height="27.22" fill="#ffffff"/>
<rect x="853.89" y="855.45" width="27.56" height="27.22" fill="#d8fbf0"/>
<rect x="880.85" y="855.45" width="27.56" height="27.22" fill="#58f4c0"/>
<rect x="907.81" y="855.45" width="27.56" height="27.22" fill="#80f4ff"/>
<rect x="934.78" y="855.45" width="135.41" height="27.22" fill="#ffffff"/>
<rect x="476.41" y="882.07" width="108.45" height="27.22" fill="#6078ff"/>
<rect x="584.26" y="882.07" width="54.53" height="27.22" fill="#7c1a48"/>
<rect x="638.19" y="882.07" width="54.53" height="27.22" fill="#0818e8"/>
<rect x="692.11" y="882.07" width="27.56" height="27.22" fill="#10b8ff"/>
<rect x="719.08" y="882.07" width="27.56" height="27.22" fill="#6078ff"/>
<rect x="746.04" y="882.07" width="27.56" height="27.22" fill="#c6ceff"/>
<rect x="773.00" y="882.07" width="27.56" height="27.22" fill="#ff9410"/>
<rect x="799.96" y="882.07" width="27.56" height="27.22" fill="#6078ff"/>
<rect x="826.92" y="882.07" width="27.56" height="27.22" fill="#ffffff"/>
<rect x="853.89" y="882.07" width="27.56" height="27.22" fill="#6078ff"/>
<rect x="880.85" y="882.07" width="27.56" height="27.22" fill="#10b8ff"/>
<rect x="907.81" y="882.07" width="27.56" height="27.22" fill="#0a68ff"/>
<rect x="934.78" y="882.07" width="135.41" height="27.22" fill="#ffffff"/>
<rect x="476.41" y="908.69" width="108.45" height="27.22" fill="#7c1a48"/>
<rect x="584.26" y="908.69" width="27.56" height="27.22" fill="#ffd6c6"/>
<rect x="611.22" y="908.69" width="27.56" height="27.22" fill="#ff9878"/>
<rect x="638.19" y="908.69" width="27.56" height="27.22" fill="#7c1a48"/>
<rect x="665.15" y="908.69" width="27.56" height="27.22" fill="#6078ff"/>
<rect x="692.11" y="908.69" width="27.56" height="27.22" fill="#ffffff"/>
<rect x="719.08" y="908.69" width="27.56" height="27.22" fill="#c6ceff"/>
<rect x="746.04" y="908.69" width="27.56" height="27.22" fill="#ffffff"/>
<rect x="773.00" y="908.69" width="27.56" height="27.22" fill="#ff9878"/>
<rect x="799.96" y="908.69" width="108.45" height="27.22" fill="#ffffff"/>
<rect x="907.81" y="908.69" width="27.56" height="27.22" fill="#c6ceff"/>
<rect x="934.78" y="908.69" width="135.41" height="27.22" fill="#ffffff"/>
<rect x="476.41" y="935.32" width="108.45" height="27.22" fill="#ff5a08"/>
<rect x="584.26" y="935.32" width="27.56" height="27.22" fill="#6078ff"/>
<rect x="611.22" y="935.32" width="27.56" height="27.22" fill="#ffd6c6"/>
<rect x="638.19" y="935.32" width="27.56" height="27.22" fill="#ff9878"/>
<rect x="665.15" y="935.32" width="27.56" height="27.22" fill="#c6ceff"/>
<rect x="692.11" y="935.32" width="54.53" height="27.22" fill="#ffffff"/>
<rect x="746.04" y="935.32" width="27.56" height="27.22" fill="#d8fbf0"/>
<rect x="773.00" y="935.32" width="27.56" height="27.22" fill="#ffd6c6"/>
<rect x="799.96" y="935.32" width="27.56" height="27.22" fill="#ff9878"/>
<rect x="826.92" y="935.32" width="27.56" height="27.22" fill="#ffffff"/>
<rect x="853.89" y="935.32" width="27.56" height="27.22" fill="#ff9878"/>
<rect x="880.85" y="935.32" width="54.53" height="27.22" fill="#7c1a48"/>
<rect x="934.78" y="935.32" width="135.41" height="27.22" fill="#ffffff"/>
<rect x="476.41" y="961.94" width="135.41" height="27.22" fill="#ff5a08"/>
<rect x="611.22" y="961.94" width="27.56" height="27.22" fill="#6078ff"/>
<rect x="638.19" y="961.94" width="27.56" height="27.22" fill="#ff9878"/>
<rect x="665.15" y="961.94" width="27.56" height="27.22" fill="#c6ceff"/>
<rect x="692.11" y="961.94" width="27.56" height="27.22" fill="#b0fac8"/>
<rect x="719.08" y="961.94" width="27.56" height="27.22" fill="#ff9410"/>
<rect x="746.04" y="961.94" width="27.56" height="27.22" fill="#6078ff"/>
<rect x="773.00" y="961.94" width="27.56" height="27.22" fill="#ffd6c6"/>
<rect x="799.96" y="961.94" width="27.56" height="27.22" fill="#d8fbf0"/>
<rect x="826.92" y="961.94" width="27.56" height="27.22" fill="#7c1a48"/>
<rect x="853.89" y="961.94" width="27.56" height="27.22" fill="#ff9878"/>
<rect x="880.85" y="961.94" width="27.56" height="27.22" fill="#a8f860"/>
<rect x="907.81" y="961.94" width="27.56" height="27.22" fill="#ff5a08"/>
<rect x="934.78" y="961.94" width="135.41" height="27.22" fill="#ffffff"/>
<rect x="476.41" y="988.56" width="108.45" height="27.22" fill="#ff9410"/>
<rect x="584.26" y="988.56" width="27.56" height="27.22" fill="#ff5a08"/>
<rect x="611.22" y="988.56" width="27.56" height="27.22" fill="#ffd6c6"/>
<rect x="638.19" y="988.56" width="27.56" height="27.22" fill="#7c1a48"/>
<rect x="665.15" y="988.56" width="27.56" height="27.22" fill="#6078ff"/>
<rect x="692.11" y="988.56" width="27.56" height="27.22" fill="#d8fbf0"/>
<rect x="719.08" y="988.56" width="27.56" height="27.22" fill="#10b8ff"/>
<rect x="746.04" y="988.56" width="27.56" height="27.22" fill="#80f4ff"/>
<rect x="773.00" y="988.56" width="27.56" height="27.22" fill="#ff9410"/>
<rect x="799.96" y="988.56" width="27.56" height="27.22" fill="#80f4ff"/>
<rect x="826.92" y="988.56" width="27.56" height="27.22" fill="#ffd6c6"/>
<rect x="853.89" y="988.56" width="27.56" height="27.22" fill="#58f4c0"/>
<rect x="880.85" y="988.56" width="27.56" height="27.22" fill="#0a68ff"/>
<rect x="907.81" y="988.56" width="27.56" height="27.22" fill="#58f4c0"/>
<rect x="934.78" y="988.56" width="27.56" height="27.22" fill="#7c1a48"/>
<rect x="961.74" y="988.56" width="108.45" height="27.22" fill="#ffffff"/>
<rect x="476.41" y="1015.18" width="108.45" height="27.22" fill="#7c1a48"/>
<rect x="584.26" y="1015.18" width="27.56" height="27.22" fill="#e81800"/>
<rect x="611.22" y="1015.18" width="27.56" height="27.22" fill="#ff9878"/>
<rect x="638.19" y="1015.18" width="27.56" height="27.22" fill="#ff9410"/>
<rect x="665.15" y="1015.18" width="27.56" height="27.22" fill="#c6ceff"/>
<rect x="692.11" y="1015.18" width="27.56" height="27.22" fill="#6078ff"/>
<rect x="719.08" y="1015.18" width="27.56" height="27.22" fill="#0a68ff"/>
<rect x="746.04" y="1015.18" width="27.56" height="27.22" fill="#58f4c0"/>
<rect x="773.00" y="1015.18" width="27.56" height="27.22" fill="#80f4ff"/>
<rect x="799.96" y="1015.18" width="27.56" height="27.22" fill="#6078ff"/>
<rect x="826.92" y="1015.18" width="27.56" height="27.22" fill="#ffffff"/>
<rect x="853.89" y="1015.18" width="27.56" height="27.22" fill="#10b8ff"/>
<rect x="880.85" y="1015.18" width="27.56" height="27.22" fill="#0818e8"/>
<rect x="907.81" y="1015.18" width="27.56" height="27.22" fill="#10b8ff"/>
<rect x="934.78" y="1015.18" width="27.56" height="27.22" fill="#ffc400"/>
<rect x="961.74" y="1015.18" width="108.45" height="27.22" fill="#ffffff"/>
<rect x="476.41" y="1041.81" width="135.41" height="27.22" fill="#7c1a48"/>
<rect x="611.22" y="1041.81" width="27.56" height="27.22" fill="#ff9878"/>
<rect x="638.19" y="1041.81" width="27.56" height="27.22" fill="#ff5a08"/>
<rect x="665.15" y="1041.81" width="27.56" height="27.22" fill="#ffd6c6"/>
<rect x="692.11" y="1041.81" width="27.56" height="27.22" fill="#ff9878"/>
<rect x="719.08" y="1041.81" width="27.56" height="27.22" fill="#10b8ff"/>
<rect x="746.04" y="1041.81" width="27.56" height="27.22" fill="#58f4c0"/>
<rect x="773.00" y="1041.81" width="27.56" height="27.22" fill="#80f4ff"/>
<rect x="799.96" y="1041.81" width="27.56" height="27.22" fill="#ffffff"/>
<rect x="826.92" y="1041.81" width="27.56" height="27.22" fill="#0a68ff"/>
<rect x="853.89" y="1041.81" width="27.56" height="27.22" fill="#7c1a48"/>
<rect x="880.85" y="1041.81" width="27.56" height="27.22" fill="#10b8ff"/>
<rect x="907.81" y="1041.81" width="27.56" height="27.22" fill="#d8fbf0"/>
<rect x="934.78" y="1041.81" width="27.56" height="27.22" fill="#0a68ff"/>
<rect x="961.74" y="1041.81" width="108.45" height="27.22" fill="#ffd6c6"/>
<rect x="476.41" y="1068.43" width="108.45" height="27.22" fill="#ff5a08"/>
<rect x="584.26" y="1068.43" width="27.56" height="27.22" fill="#ff9410"/>
<rect x="611.22" y="1068.43" width="27.56" height="27.22" fill="#ff9878"/>
<rect x="638.19" y="1068.43" width="27.56" height="27.22" fill="#a8f860"/>
<rect x="665.15" y="1068.43" width="27.56" height="27.22" fill="#ff5a08"/>
<rect x="692.11" y="1068.43" width="27.56" height="27.22" fill="#7c1a48"/>
<rect x="719.08" y="1068.43" width="54.53" height="27.22" fill="#0a68ff"/>
<rect x="773.00" y="1068.43" width="27.56" height="27.22" fill="#6078ff"/>
<rect x="799.96" y="1068.43" width="27.56" height="27.22" fill="#80f4ff"/>
<rect x="826.92" y="1068.43" width="27.56" height="27.22" fill="#0a68ff"/>
<rect x="853.89" y="1068.43" width="54.53" height="27.22" fill="#10b8ff"/>
<rect x="907.81" y="1068.43" width="27.56" height="27.22" fill="#a8f860"/>
<rect x="934.78" y="1068.43" width="27.56" height="27.22" fill="#ff9878"/>
<rect x="961.74" y="1068.43" width="108.45" height="27.22" fill="#ff9410"/>
<rect x="476.41" y="1095.05" width="108.45" height="27.22" fill="#a8f860"/>
<rect x="584.26" y="1095.05" width="27.56" height="27.22" fill="#ff9410"/>
<rect x="611.22" y="1095.05" width="27.56" height="27.22" fill="#10b8ff"/>
<rect x="638.19" y="1095.05" width="27.56" height="27.22" fill="#6078ff"/>
<rect x="665.15" y="1095.05" width="108.45" height="27.22" fill="#7c1a48"/>
<rect x="773.00" y="1095.05" width="27.56" height="27.22" fill="#6078ff"/>
<rect x="799.96" y="1095.05" width="27.56" height="27.22" fill="#10b8ff"/>
<rect x="826.92" y="1095.05" width="27.56" height="27.22" fill="#ff9410"/>
<rect x="853.89" y="1095.05" width="27.56" height="27.22" fill="#10b8ff"/>
<rect x="880.85" y="1095.05" width="27.56" height="27.22" fill="#0a68ff"/>
<rect x="907.81" y="1095.05" width="27.56" height="27.22" fill="#10b8ff"/>
<rect x="934.78" y="1095.05" width="27.56" height="27.22" fill="#ff9878"/>
<rect x="961.74" y="1095.05" width="108.45" height="27.22" fill="#7c1a48"/>
<rect x="476.41" y="1121.68" width="108.45" height="27.22" fill="#10b8ff"/>
<rect x="584.26" y="1121.68" width="27.56" height="27.22" fill="#6078ff"/>
<rect x="611.22" y="1121.68" width="27.56" height="27.22" fill="#10b8ff"/>
<rect x="638.19" y="1121.68" width="27.56" height="27.22" fill="#d8fbf0"/>
<rect x="665.15" y="1121.68" width="27.56" height="27.22" fill="#e81800"/>
<rect x="692.11" y="1121.68" width="27.56" height="27.22" fill="#7c1a48"/>
<rect x="719.08" y="1121.68" width="27.56" height="27.22" fill="#e81800"/>
<rect x="746.04" y="1121.68" width="27.56" height="27.22" fill="#6078ff"/>
<rect x="773.00" y="1121.68" width="27.56" height="27.22" fill="#ff9878"/>
<rect x="799.96" y="1121.68" width="27.56" height="27.22" fill="#6078ff"/>
<rect x="826.92" y="1121.68" width="27.56" height="27.22" fill="#d8fbf0"/>
<rect x="853.89" y="1121.68" width="27.56" height="27.22" fill="#0818e8"/>
<rect x="880.85" y="1121.68" width="27.56" height="27.22" fill="#10b8ff"/>
<rect x="907.81" y="1121.68" width="27.56" height="27.22" fill="#7c1a48"/>
<rect x="934.78" y="1121.68" width="27.56" height="27.22" fill="#ff5a08"/>
<rect x="961.74" y="1121.68" width="108.45" height="27.22" fill="#7c1a48"/>
<rect x="476.41" y="1148.30" width="108.45" height="27.22" fill="#10b8ff"/>
<rect x="584.26" y="1148.30" width="27.56" height="27.22" fill="#6078ff"/>
<rect x="611.22" y="1148.30" width="27.56" height="27.22" fill="#10b8ff"/>
<rect x="638.19" y="1148.30" width="27.56" height="27.22" fill="#d8fbf0"/>
<rect x="665.15" y="1148.30" width="27.56" height="27.22" fill="#e81800"/>
<rect x="692.11" y="1148.30" width="27.56" height="27.22" fill="#7c1a48"/>
<rect x="719.08" y="1148.30" width="27.56" height="27.22" fill="#e81800"/>
<rect x="746.04" y="1148.30" width="27.56" height="27.22" fill="#6078ff"/>
<rect x="773.00" y="1148.30" width="27.56" height="27.22" fill="#ff9878"/>
<rect x="799.96" y="1148.30" width="27.56" height="27.22" fill="#6078ff"/>
<rect x="826.92" y="1148.30" width="27.56" height="27.22" fill="#d8fbf0"/>
<rect x="853.89" y="1148.30" width="27.56" height="27.22" fill="#0818e8"/>
<rect x="880.85" y="1148.30" width="27.56" height="27.22" fill="#10b8ff"/>
<rect x="907.81" y="1148.30" width="27.56" height="27.22" fill="#7c1a48"/>
<rect x="934.78" y="1148.30" width="27.56" height="27.22" fill="#ff5a08"/>
<rect x="961.74" y="1148.30" width="108.45" height="27.22" fill="#7c1a48"/>
<rect x="476.41" y="1174.92" width="108.45" height="27.22" fill="#10b8ff"/>
<rect x="584.26" y="1174.92" width="27.56" height="27.22" fill="#6078ff"/>
<rect x="611.22" y="1174.92" width="27.56" height="27.22" fill="#10b8ff"/>
<rect x="638.19" y="1174.92" width="27.56" height="27.22" fill="#d8fbf0"/>
<rect x="665.15" y="1174.92" width="27.56" height="27.22" fill="#e81800"/>
<rect x="692.11" y="1174.92" width="27.56" height="27.22" fill="#7c1a48"/>
<rect x="719.08" y="1174.92" width="27.56" height="27.22" fill="#e81800"/>
<rect x="746.04" y="1174.92" width="27.56" height="27.22" fill="#6078ff"/>
<rect x="773.00" y="1174.92" width="27.56" height="27.22" fill="#ff9878"/>
<rect x="799.96" y="1174.92" width="27.56" height="27.22" fill="#6078ff"/>
<rect x="826.92" y="1174.92" width="27.56" height="27.22" fill="#d8fbf0"/>
<rect x="853.89" y="1174.92" width="27.56" height="27.22" fill="#0818e8"/>
<rect x="880.85" y="1174.92" width="27.56" height="27.22" fill="#10b8ff"/>
<rect x="907.81" y="1174.92" width="27.56" height="27.22" fill="#7c1a48"/>
<rect x="934.78" y="1174.92" width="27.56" height="27.22" fill="#ff5a08"/>
<rect x="961.74" y="1174.92" width="108.45" height="27.22" fill="#7c1a48"/>
<rect x="476.41" y="1201.55" width="108.45" height="27.22" fill="#10b8ff"/>
<rect x="584.26" y="1201.55" width="27.56" height="27.22" fill="#6078ff"/>
<rect x="611.22" y="1201.55" width="27.56" height="27.22" fill="#10b8ff"/>
<rect x="638.19" y="1201.55" width="27.56" height="27.22" fill="#d8fbf0"/>
<rect x="665.15" y="1201.55" width="27.56" height="27.22" fill="#e81800"/>
<rect x="692.11" y="1201.55" width="27.56" height="27.22" fill="#7c1a48"/>
<rect x="719.08" y="1201.55" width="27.56" height="27.22" fill="#e81800"/>
<rect x="746.04" y="1201.55" width="27.56" height="27.22" fill="#6078ff"/>
<rect x="773.00" y="1201.55" width="27.56" height="27.22" fill="#ff9878"/>
<rect x="799.96" y="1201.55" width="27.56" height="27.22" fill="#6078ff"/>
<rect x="826.92" y="1201.55" width="27.56" height="27.22" fill="#d8fbf0"/>
<rect x="853.89" y="1201.55" width="27.56" height="27.22" fill="#0818e8"/>
<rect x="880.85" y="1201.55" width="27.56" height="27.22" fill="#10b8ff"/>
<rect x="907.81" y="1201.55" width="27.56" height="27.22" fill="#7c1a48"/>
<rect x="934.78" y="1201.55" width="27.56" height="27.22" fill="#ff5a08"/>
<rect x="961.74" y="1201.55" width="108.45" height="27.22" fill="#7c1a48"/>
</g>
<polygon points="950.7,802.2 993.0,802.2 993.0,1064.5 982.7,1062.5 961.5,1047.6 938.7,1015.4 912.8,967.3 914.5,942.4 917.5,929.2 925.7,898.4 931.8,855.2" fill="#fff"/>
</g>
<clipPath id="clipP6"><rect x="1020.0" y="802.2" width="431.40" height="346.00"/></clipPath>
<g clip-path="url(#clipP6)"><g filter="url(#bl7)">
<rect x="939.11" y="722.35" width="108.45" height="27.22" fill="#ff9410"/>
<rect x="1046.96" y="722.35" width="27.56" height="27.22" fill="#ff5a08"/>
<rect x="1073.92" y="722.35" width="27.56" height="27.22" fill="#7c1a48"/>
<rect x="1100.89" y="722.35" width="27.56" height="27.22" fill="#0a68ff"/>
<rect x="1127.85" y="722.35" width="27.56" height="27.22" fill="#10b8ff"/>
<rect x="1154.81" y="722.35" width="27.56" height="27.22" fill="#58f4c0"/>
<rect x="1181.78" y="722.35" width="27.56" height="27.22" fill="#ff9410"/>
<rect x="1208.74" y="722.35" width="27.56" height="27.22" fill="#ff5a08"/>
<rect x="1235.70" y="722.35" width="27.56" height="27.22" fill="#c6ceff"/>
<rect x="1262.66" y="722.35" width="27.56" height="27.22" fill="#6078ff"/>
<rect x="1289.62" y="722.35" width="27.56" height="27.22" fill="#0a68ff"/>
<rect x="1316.59" y="722.35" width="27.56" height="27.22" fill="#58f4c0"/>
<rect x="1343.55" y="722.35" width="54.53" height="27.22" fill="#ff5a08"/>
<rect x="1397.48" y="722.35" width="27.56" height="27.22" fill="#fff278"/>
<rect x="1424.44" y="722.35" width="108.45" height="27.22" fill="#ffffff"/>
<rect x="939.11" y="748.97" width="108.45" height="27.22" fill="#ff9410"/>
<rect x="1046.96" y="748.97" width="27.56" height="27.22" fill="#ff5a08"/>
<rect x="1073.92" y="748.97" width="27.56" height="27.22" fill="#7c1a48"/>
<rect x="1100.89" y="748.97" width="27.56" height="27.22" fill="#0a68ff"/>
<rect x="1127.85" y="748.97" width="27.56" height="27.22" fill="#10b8ff"/>
<rect x="1154.81" y="748.97" width="27.56" height="27.22" fill="#58f4c0"/>
<rect x="1181.78" y="748.97" width="27.56" height="27.22" fill="#ff9410"/>
<rect x="1208.74" y="748.97" width="27.56" height="27.22" fill="#ff5a08"/>
<rect x="1235.70" y="748.97" width="27.56" height="27.22" fill="#c6ceff"/>
<rect x="1262.66" y="748.97" width="27.56" height="27.22" fill="#6078ff"/>
<rect x="1289.62" y="748.97" width="27.56" height="27.22" fill="#0a68ff"/>
<rect x="1316.59" y="748.97" width="27.56" height="27.22" fill="#58f4c0"/>
<rect x="1343.55" y="748.97" width="54.53" height="27.22" fill="#ff5a08"/>
<rect x="1397.48" y="748.97" width="27.56" height="27.22" fill="#fff278"/>
<rect x="1424.44" y="748.97" width="108.45" height="27.22" fill="#ffffff"/>
<rect x="939.11" y="775.58" width="108.45" height="27.22" fill="#ff9410"/>
<rect x="1046.96" y="775.58" width="27.56" height="27.22" fill="#ff5a08"/>
<rect x="1073.92" y="775.58" width="27.56" height="27.22" fill="#7c1a48"/>
<rect x="1100.89" y="775.58" width="27.56" height="27.22" fill="#0a68ff"/>
<rect x="1127.85" y="775.58" width="27.56" height="27.22" fill="#10b8ff"/>
<rect x="1154.81" y="775.58" width="27.56" height="27.22" fill="#58f4c0"/>
<rect x="1181.78" y="775.58" width="27.56" height="27.22" fill="#ff9410"/>
<rect x="1208.74" y="775.58" width="27.56" height="27.22" fill="#ff5a08"/>
<rect x="1235.70" y="775.58" width="27.56" height="27.22" fill="#c6ceff"/>
<rect x="1262.66" y="775.58" width="27.56" height="27.22" fill="#6078ff"/>
<rect x="1289.62" y="775.58" width="27.56" height="27.22" fill="#0a68ff"/>
<rect x="1316.59" y="775.58" width="27.56" height="27.22" fill="#58f4c0"/>
<rect x="1343.55" y="775.58" width="54.53" height="27.22" fill="#ff5a08"/>
<rect x="1397.48" y="775.58" width="27.56" height="27.22" fill="#fff278"/>
<rect x="1424.44" y="775.58" width="108.45" height="27.22" fill="#ffffff"/>
<rect x="939.11" y="802.20" width="108.45" height="27.22" fill="#ff9410"/>
<rect x="1046.96" y="802.20" width="27.56" height="27.22" fill="#ff5a08"/>
<rect x="1073.92" y="802.20" width="27.56" height="27.22" fill="#7c1a48"/>
<rect x="1100.89" y="802.20" width="27.56" height="27.22" fill="#0a68ff"/>
<rect x="1127.85" y="802.20" width="27.56" height="27.22" fill="#10b8ff"/>
<rect x="1154.81" y="802.20" width="27.56" height="27.22" fill="#58f4c0"/>
<rect x="1181.78" y="802.20" width="27.56" height="27.22" fill="#ff9410"/>
<rect x="1208.74" y="802.20" width="27.56" height="27.22" fill="#ff5a08"/>
<rect x="1235.70" y="802.20" width="27.56" height="27.22" fill="#c6ceff"/>
<rect x="1262.66" y="802.20" width="27.56" height="27.22" fill="#6078ff"/>
<rect x="1289.62" y="802.20" width="27.56" height="27.22" fill="#0a68ff"/>
<rect x="1316.59" y="802.20" width="27.56" height="27.22" fill="#58f4c0"/>
<rect x="1343.55" y="802.20" width="54.53" height="27.22" fill="#ff5a08"/>
<rect x="1397.48" y="802.20" width="27.56" height="27.22" fill="#fff278"/>
<rect x="1424.44" y="802.20" width="108.45" height="27.22" fill="#ffffff"/>
<rect x="939.11" y="828.82" width="108.45" height="27.22" fill="#ff5a08"/>
<rect x="1046.96" y="828.82" width="27.56" height="27.22" fill="#ffc400"/>
<rect x="1073.92" y="828.82" width="27.56" height="27.22" fill="#7c1a48"/>
<rect x="1100.89" y="828.82" width="27.56" height="27.22" fill="#10b8ff"/>
<rect x="1127.85" y="828.82" width="27.56" height="27.22" fill="#58f4c0"/>
<rect x="1154.81" y="828.82" width="27.56" height="27.22" fill="#ffc400"/>
<rect x="1181.78" y="828.82" width="27.56" height="27.22" fill="#80f4ff"/>
<rect x="1208.74" y="828.82" width="54.53" height="27.22" fill="#ffffff"/>
<rect x="1262.66" y="828.82" width="27.56" height="27.22" fill="#c6ceff"/>
<rect x="1289.62" y="828.82" width="27.56" height="27.22" fill="#d8fbf0"/>
<rect x="1316.59" y="828.82" width="27.56" height="27.22" fill="#10b8ff"/>
<rect x="1343.55" y="828.82" width="27.56" height="27.22" fill="#58f4c0"/>
<rect x="1370.51" y="828.82" width="27.56" height="27.22" fill="#b0fac8"/>
<rect x="1397.48" y="828.82" width="27.56" height="27.22" fill="#fff8c8"/>
<rect x="1424.44" y="828.82" width="108.45" height="27.22" fill="#ffffff"/>
<rect x="939.11" y="855.43" width="108.45" height="27.22" fill="#7c1a48"/>
<rect x="1046.96" y="855.43" width="27.56" height="27.22" fill="#e81800"/>
<rect x="1073.92" y="855.43" width="27.56" height="27.22" fill="#0818e8"/>
<rect x="1100.89" y="855.43" width="27.56" height="27.22" fill="#10b8ff"/>
<rect x="1127.85" y="855.43" width="54.53" height="27.22" fill="#58f4c0"/>
<rect x="1181.78" y="855.43" width="27.56" height="27.22" fill="#80f4ff"/>
<rect x="1208.74" y="855.43" width="27.56" height="27.22" fill="#d8fbf0"/>
<rect x="1235.70" y="855.43" width="27.56" height="27.22" fill="#fff278"/>
<rect x="1262.66" y="855.43" width="27.56" height="27.22" fill="#ffd6c6"/>
<rect x="1289.62" y="855.43" width="27.56" height="27.22" fill="#ffffff"/>
<rect x="1316.59" y="855.43" width="27.56" height="27.22" fill="#d8fbf0"/>
<rect x="1343.55" y="855.43" width="27.56" height="27.22" fill="#58f4c0"/>
<rect x="1370.51" y="855.43" width="27.56" height="27.22" fill="#80f4ff"/>
<rect x="1397.48" y="855.43" width="135.41" height="27.22" fill="#ffffff"/>
<rect x="939.11" y="882.05" width="108.45" height="27.22" fill="#6078ff"/>
<rect x="1046.96" y="882.05" width="54.53" height="27.22" fill="#7c1a48"/>
<rect x="1100.89" y="882.05" width="54.53" height="27.22" fill="#0818e8"/>
<rect x="1154.81" y="882.05" width="27.56" height="27.22" fill="#10b8ff"/>
<rect x="1181.78" y="882.05" width="27.56" height="27.22" fill="#6078ff"/>
<rect x="1208.74" y="882.05" width="27.56" height="27.22" fill="#c6ceff"/>
<rect x="1235.70" y="882.05" width="27.56" height="27.22" fill="#ff9410"/>
<rect x="1262.66" y="882.05" width="27.56" height="27.22" fill="#6078ff"/>
<rect x="1289.62" y="882.05" width="27.56" height="27.22" fill="#ffffff"/>
<rect x="1316.59" y="882.05" width="27.56" height="27.22" fill="#6078ff"/>
<rect x="1343.55" y="882.05" width="27.56" height="27.22" fill="#10b8ff"/>
<rect x="1370.51" y="882.05" width="27.56" height="27.22" fill="#0a68ff"/>
<rect x="1397.48" y="882.05" width="135.41" height="27.22" fill="#ffffff"/>
<rect x="939.11" y="908.66" width="108.45" height="27.22" fill="#7c1a48"/>
<rect x="1046.96" y="908.66" width="27.56" height="27.22" fill="#ffd6c6"/>
<rect x="1073.92" y="908.66" width="27.56" height="27.22" fill="#ff9878"/>
<rect x="1100.89" y="908.66" width="27.56" height="27.22" fill="#7c1a48"/>
<rect x="1127.85" y="908.66" width="27.56" height="27.22" fill="#6078ff"/>
<rect x="1154.81" y="908.66" width="27.56" height="27.22" fill="#ffffff"/>
<rect x="1181.78" y="908.66" width="27.56" height="27.22" fill="#c6ceff"/>
<rect x="1208.74" y="908.66" width="27.56" height="27.22" fill="#ffffff"/>
<rect x="1235.70" y="908.66" width="27.56" height="27.22" fill="#ff9878"/>
<rect x="1262.66" y="908.66" width="108.45" height="27.22" fill="#ffffff"/>
<rect x="1370.51" y="908.66" width="27.56" height="27.22" fill="#c6ceff"/>
<rect x="1397.48" y="908.66" width="135.41" height="27.22" fill="#ffffff"/>
<rect x="939.11" y="935.28" width="108.45" height="27.22" fill="#ff5a08"/>
<rect x="1046.96" y="935.28" width="27.56" height="27.22" fill="#6078ff"/>
<rect x="1073.92" y="935.28" width="27.56" height="27.22" fill="#ffd6c6"/>
<rect x="1100.89" y="935.28" width="27.56" height="27.22" fill="#ff9878"/>
<rect x="1127.85" y="935.28" width="27.56" height="27.22" fill="#c6ceff"/>
<rect x="1154.81" y="935.28" width="54.53" height="27.22" fill="#ffffff"/>
<rect x="1208.74" y="935.28" width="27.56" height="27.22" fill="#d8fbf0"/>
<rect x="1235.70" y="935.28" width="27.56" height="27.22" fill="#ffd6c6"/>
<rect x="1262.66" y="935.28" width="27.56" height="27.22" fill="#ff9878"/>
<rect x="1289.62" y="935.28" width="27.56" height="27.22" fill="#ffffff"/>
<rect x="1316.59" y="935.28" width="27.56" height="27.22" fill="#ff9878"/>
<rect x="1343.55" y="935.28" width="54.53" height="27.22" fill="#7c1a48"/>
<rect x="1397.48" y="935.28" width="135.41" height="27.22" fill="#ffffff"/>
<rect x="939.11" y="961.89" width="135.41" height="27.22" fill="#ff5a08"/>
<rect x="1073.92" y="961.89" width="27.56" height="27.22" fill="#6078ff"/>
<rect x="1100.89" y="961.89" width="27.56" height="27.22" fill="#ff9878"/>
<rect x="1127.85" y="961.89" width="27.56" height="27.22" fill="#c6ceff"/>
<rect x="1154.81" y="961.89" width="27.56" height="27.22" fill="#b0fac8"/>
<rect x="1181.78" y="961.89" width="27.56" height="27.22" fill="#ff9410"/>
<rect x="1208.74" y="961.89" width="27.56" height="27.22" fill="#6078ff"/>
<rect x="1235.70" y="961.89" width="27.56" height="27.22" fill="#ffd6c6"/>
<rect x="1262.66" y="961.89" width="27.56" height="27.22" fill="#d8fbf0"/>
<rect x="1289.62" y="961.89" width="27.56" height="27.22" fill="#7c1a48"/>
<rect x="1316.59" y="961.89" width="27.56" height="27.22" fill="#ff9878"/>
<rect x="1343.55" y="961.89" width="27.56" height="27.22" fill="#a8f860"/>
<rect x="1370.51" y="961.89" width="27.56" height="27.22" fill="#ff5a08"/>
<rect x="1397.48" y="961.89" width="135.41" height="27.22" fill="#ffffff"/>
<rect x="939.11" y="988.51" width="108.45" height="27.22" fill="#ff9410"/>
<rect x="1046.96" y="988.51" width="27.56" height="27.22" fill="#ff5a08"/>
<rect x="1073.92" y="988.51" width="27.56" height="27.22" fill="#ffd6c6"/>
<rect x="1100.89" y="988.51" width="27.56" height="27.22" fill="#7c1a48"/>
<rect x="1127.85" y="988.51" width="27.56" height="27.22" fill="#6078ff"/>
<rect x="1154.81" y="988.51" width="27.56" height="27.22" fill="#d8fbf0"/>
<rect x="1181.78" y="988.51" width="27.56" height="27.22" fill="#10b8ff"/>
<rect x="1208.74" y="988.51" width="27.56" height="27.22" fill="#80f4ff"/>
<rect x="1235.70" y="988.51" width="27.56" height="27.22" fill="#ff9410"/>
<rect x="1262.66" y="988.51" width="27.56" height="27.22" fill="#80f4ff"/>
<rect x="1289.62" y="988.51" width="27.56" height="27.22" fill="#ffd6c6"/>
<rect x="1316.59" y="988.51" width="27.56" height="27.22" fill="#58f4c0"/>
<rect x="1343.55" y="988.51" width="27.56" height="27.22" fill="#0a68ff"/>
<rect x="1370.51" y="988.51" width="27.56" height="27.22" fill="#58f4c0"/>
<rect x="1397.48" y="988.51" width="27.56" height="27.22" fill="#7c1a48"/>
<rect x="1424.44" y="988.51" width="108.45" height="27.22" fill="#ffffff"/>
<rect x="939.11" y="1015.12" width="108.45" height="27.22" fill="#7c1a48"/>
<rect x="1046.96" y="1015.12" width="27.56" height="27.22" fill="#e81800"/>
<rect x="1073.92" y="1015.12" width="27.56" height="27.22" fill="#ff9878"/>
<rect x="1100.89" y="1015.12" width="27.56" height="27.22" fill="#ff9410"/>
<rect x="1127.85" y="1015.12" width="27.56" height="27.22" fill="#c6ceff"/>
<rect x="1154.81" y="1015.12" width="27.56" height="27.22" fill="#6078ff"/>
<rect x="1181.78" y="1015.12" width="27.56" height="27.22" fill="#0a68ff"/>
<rect x="1208.74" y="1015.12" width="27.56" height="27.22" fill="#58f4c0"/>
<rect x="1235.70" y="1015.12" width="27.56" height="27.22" fill="#80f4ff"/>
<rect x="1262.66" y="1015.12" width="27.56" height="27.22" fill="#6078ff"/>
<rect x="1289.62" y="1015.12" width="27.56" height="27.22" fill="#ffffff"/>
<rect x="1316.59" y="1015.12" width="27.56" height="27.22" fill="#10b8ff"/>
<rect x="1343.55" y="1015.12" width="27.56" height="27.22" fill="#0818e8"/>
<rect x="1370.51" y="1015.12" width="27.56" height="27.22" fill="#10b8ff"/>
<rect x="1397.48" y="1015.12" width="27.56" height="27.22" fill="#ffc400"/>
<rect x="1424.44" y="1015.12" width="108.45" height="27.22" fill="#ffffff"/>
<rect x="939.11" y="1041.74" width="135.41" height="27.22" fill="#7c1a48"/>
<rect x="1073.92" y="1041.74" width="27.56" height="27.22" fill="#ff9878"/>
<rect x="1100.89" y="1041.74" width="27.56" height="27.22" fill="#ff5a08"/>
<rect x="1127.85" y="1041.74" width="27.56" height="27.22" fill="#ffd6c6"/>
<rect x="1154.81" y="1041.74" width="27.56" height="27.22" fill="#ff9878"/>
<rect x="1181.78" y="1041.74" width="27.56" height="27.22" fill="#10b8ff"/>
<rect x="1208.74" y="1041.74" width="27.56" height="27.22" fill="#58f4c0"/>
<rect x="1235.70" y="1041.74" width="27.56" height="27.22" fill="#80f4ff"/>
<rect x="1262.66" y="1041.74" width="27.56" height="27.22" fill="#ffffff"/>
<rect x="1289.62" y="1041.74" width="27.56" height="27.22" fill="#0a68ff"/>
<rect x="1316.59" y="1041.74" width="27.56" height="27.22" fill="#7c1a48"/>
<rect x="1343.55" y="1041.74" width="27.56" height="27.22" fill="#10b8ff"/>
<rect x="1370.51" y="1041.74" width="27.56" height="27.22" fill="#d8fbf0"/>
<rect x="1397.48" y="1041.74" width="27.56" height="27.22" fill="#0a68ff"/>
<rect x="1424.44" y="1041.74" width="108.45" height="27.22" fill="#ffd6c6"/>
<rect x="939.11" y="1068.35" width="108.45" height="27.22" fill="#ff5a08"/>
<rect x="1046.96" y="1068.35" width="27.56" height="27.22" fill="#ff9410"/>
<rect x="1073.92" y="1068.35" width="27.56" height="27.22" fill="#ff9878"/>
<rect x="1100.89" y="1068.35" width="27.56" height="27.22" fill="#a8f860"/>
<rect x="1127.85" y="1068.35" width="27.56" height="27.22" fill="#ff5a08"/>
<rect x="1154.81" y="1068.35" width="27.56" height="27.22" fill="#7c1a48"/>
<rect x="1181.78" y="1068.35" width="54.53" height="27.22" fill="#0a68ff"/>
<rect x="1235.70" y="1068.35" width="27.56" height="27.22" fill="#6078ff"/>
<rect x="1262.66" y="1068.35" width="27.56" height="27.22" fill="#80f4ff"/>
<rect x="1289.62" y="1068.35" width="27.56" height="27.22" fill="#0a68ff"/>
<rect x="1316.59" y="1068.35" width="54.53" height="27.22" fill="#10b8ff"/>
<rect x="1370.51" y="1068.35" width="27.56" height="27.22" fill="#a8f860"/>
<rect x="1397.48" y="1068.35" width="27.56" height="27.22" fill="#ff9878"/>
<rect x="1424.44" y="1068.35" width="108.45" height="27.22" fill="#ff9410"/>
<rect x="939.11" y="1094.97" width="108.45" height="27.22" fill="#a8f860"/>
<rect x="1046.96" y="1094.97" width="27.56" height="27.22" fill="#ff9410"/>
<rect x="1073.92" y="1094.97" width="27.56" height="27.22" fill="#10b8ff"/>
<rect x="1100.89" y="1094.97" width="27.56" height="27.22" fill="#6078ff"/>
<rect x="1127.85" y="1094.97" width="108.45" height="27.22" fill="#7c1a48"/>
<rect x="1235.70" y="1094.97" width="27.56" height="27.22" fill="#6078ff"/>
<rect x="1262.66" y="1094.97" width="27.56" height="27.22" fill="#10b8ff"/>
<rect x="1289.62" y="1094.97" width="27.56" height="27.22" fill="#ff9410"/>
<rect x="1316.59" y="1094.97" width="27.56" height="27.22" fill="#10b8ff"/>
<rect x="1343.55" y="1094.97" width="27.56" height="27.22" fill="#0a68ff"/>
<rect x="1370.51" y="1094.97" width="27.56" height="27.22" fill="#10b8ff"/>
<rect x="1397.48" y="1094.97" width="27.56" height="27.22" fill="#ff9878"/>
<rect x="1424.44" y="1094.97" width="108.45" height="27.22" fill="#7c1a48"/>
<rect x="939.11" y="1121.58" width="108.45" height="27.22" fill="#10b8ff"/>
<rect x="1046.96" y="1121.58" width="27.56" height="27.22" fill="#6078ff"/>
<rect x="1073.92" y="1121.58" width="27.56" height="27.22" fill="#10b8ff"/>
<rect x="1100.89" y="1121.58" width="27.56" height="27.22" fill="#d8fbf0"/>
<rect x="1127.85" y="1121.58" width="27.56" height="27.22" fill="#e81800"/>
<rect x="1154.81" y="1121.58" width="27.56" height="27.22" fill="#7c1a48"/>
<rect x="1181.78" y="1121.58" width="27.56" height="27.22" fill="#e81800"/>
<rect x="1208.74" y="1121.58" width="27.56" height="27.22" fill="#6078ff"/>
<rect x="1235.70" y="1121.58" width="27.56" height="27.22" fill="#ff9878"/>
<rect x="1262.66" y="1121.58" width="27.56" height="27.22" fill="#6078ff"/>
<rect x="1289.62" y="1121.58" width="27.56" height="27.22" fill="#d8fbf0"/>
<rect x="1316.59" y="1121.58" width="27.56" height="27.22" fill="#0818e8"/>
<rect x="1343.55" y="1121.58" width="27.56" height="27.22" fill="#10b8ff"/>
<rect x="1370.51" y="1121.58" width="27.56" height="27.22" fill="#7c1a48"/>
<rect x="1397.48" y="1121.58" width="27.56" height="27.22" fill="#ff5a08"/>
<rect x="1424.44" y="1121.58" width="108.45" height="27.22" fill="#7c1a48"/>
<rect x="939.11" y="1148.20" width="108.45" height="27.22" fill="#10b8ff"/>
<rect x="1046.96" y="1148.20" width="27.56" height="27.22" fill="#6078ff"/>
<rect x="1073.92" y="1148.20" width="27.56" height="27.22" fill="#10b8ff"/>
<rect x="1100.89" y="1148.20" width="27.56" height="27.22" fill="#d8fbf0"/>
<rect x="1127.85" y="1148.20" width="27.56" height="27.22" fill="#e81800"/>
<rect x="1154.81" y="1148.20" width="27.56" height="27.22" fill="#7c1a48"/>
<rect x="1181.78" y="1148.20" width="27.56" height="27.22" fill="#e81800"/>
<rect x="1208.74" y="1148.20" width="27.56" height="27.22" fill="#6078ff"/>
<rect x="1235.70" y="1148.20" width="27.56" height="27.22" fill="#ff9878"/>
<rect x="1262.66" y="1148.20" width="27.56" height="27.22" fill="#6078ff"/>
<rect x="1289.62" y="1148.20" width="27.56" height="27.22" fill="#d8fbf0"/>
<rect x="1316.59" y="1148.20" width="27.56" height="27.22" fill="#0818e8"/>
<rect x="1343.55" y="1148.20" width="27.56" height="27.22" fill="#10b8ff"/>
<rect x="1370.51" y="1148.20" width="27.56" height="27.22" fill="#7c1a48"/>
<rect x="1397.48" y="1148.20" width="27.56" height="27.22" fill="#ff5a08"/>
<rect x="1424.44" y="1148.20" width="108.45" height="27.22" fill="#7c1a48"/>
<rect x="939.11" y="1174.82" width="108.45" height="27.22" fill="#10b8ff"/>
<rect x="1046.96" y="1174.82" width="27.56" height="27.22" fill="#6078ff"/>
<rect x="1073.92" y="1174.82" width="27.56" height="27.22" fill="#10b8ff"/>
<rect x="1100.89" y="1174.82" width="27.56" height="27.22" fill="#d8fbf0"/>
<rect x="1127.85" y="1174.82" width="27.56" height="27.22" fill="#e81800"/>
<rect x="1154.81" y="1174.82" width="27.56" height="27.22" fill="#7c1a48"/>
<rect x="1181.78" y="1174.82" width="27.56" height="27.22" fill="#e81800"/>
<rect x="1208.74" y="1174.82" width="27.56" height="27.22" fill="#6078ff"/>
<rect x="1235.70" y="1174.82" width="27.56" height="27.22" fill="#ff9878"/>
<rect x="1262.66" y="1174.82" width="27.56" height="27.22" fill="#6078ff"/>
<rect x="1289.62" y="1174.82" width="27.56" height="27.22" fill="#d8fbf0"/>
<rect x="1316.59" y="1174.82" width="27.56" height="27.22" fill="#0818e8"/>
<rect x="1343.55" y="1174.82" width="27.56" height="27.22" fill="#10b8ff"/>
<rect x="1370.51" y="1174.82" width="27.56" height="27.22" fill="#7c1a48"/>
<rect x="1397.48" y="1174.82" width="27.56" height="27.22" fill="#ff5a08"/>
<rect x="1424.44" y="1174.82" width="108.45" height="27.22" fill="#7c1a48"/>
<rect x="939.11" y="1201.43" width="108.45" height="27.22" fill="#10b8ff"/>
<rect x="1046.96" y="1201.43" width="27.56" height="27.22" fill="#6078ff"/>
<rect x="1073.92" y="1201.43" width="27.56" height="27.22" fill="#10b8ff"/>
<rect x="1100.89" y="1201.43" width="27.56" height="27.22" fill="#d8fbf0"/>
<rect x="1127.85" y="1201.43" width="27.56" height="27.22" fill="#e81800"/>
<rect x="1154.81" y="1201.43" width="27.56" height="27.22" fill="#7c1a48"/>
<rect x="1181.78" y="1201.43" width="27.56" height="27.22" fill="#e81800"/>
<rect x="1208.74" y="1201.43" width="27.56" height="27.22" fill="#6078ff"/>
<rect x="1235.70" y="1201.43" width="27.56" height="27.22" fill="#ff9878"/>
<rect x="1262.66" y="1201.43" width="27.56" height="27.22" fill="#6078ff"/>
<rect x="1289.62" y="1201.43" width="27.56" height="27.22" fill="#d8fbf0"/>
<rect x="1316.59" y="1201.43" width="27.56" height="27.22" fill="#0818e8"/>
<rect x="1343.55" y="1201.43" width="27.56" height="27.22" fill="#10b8ff"/>
<rect x="1370.51" y="1201.43" width="27.56" height="27.22" fill="#7c1a48"/>
<rect x="1397.48" y="1201.43" width="27.56" height="27.22" fill="#ff5a08"/>
<rect x="1424.44" y="1201.43" width="108.45" height="27.22" fill="#7c1a48"/>
</g>
<polygon points="1413.4,802.2 1455.7,802.2 1455.7,1064.5 1445.4,1062.4 1424.2,1047.5 1401.4,1015.3 1375.5,967.2 1377.2,942.3 1380.2,929.2 1388.4,898.4 1394.5,855.1" fill="#fff"/>
</g>
<line x1="154.0" y1="699.5" x2="154.0" y2="693.0" stroke="#333" stroke-width="1.1"/>
<line x1="154.0" y1="50.0" x2="154.0" y2="56.5" stroke="#333" stroke-width="1.1"/>
<text x="155.3" y="723.5" font-size="20" text-anchor="middle" fill="#222" >200</text>
<line x1="204.5" y1="699.5" x2="204.5" y2="693.0" stroke="#333" stroke-width="1.1"/>
<line x1="204.5" y1="50.0" x2="204.5" y2="56.5" stroke="#333" stroke-width="1.1"/>
<text x="205.8" y="723.5" font-size="20" text-anchor="middle" fill="#222" >400</text>
<line x1="255.0" y1="699.5" x2="255.0" y2="693.0" stroke="#333" stroke-width="1.1"/>
<line x1="255.0" y1="50.0" x2="255.0" y2="56.5" stroke="#333" stroke-width="1.1"/>
<text x="256.3" y="723.5" font-size="20" text-anchor="middle" fill="#222" >600</text>
<line x1="305.5" y1="699.5" x2="305.5" y2="693.0" stroke="#333" stroke-width="1.1"/>
<line x1="305.5" y1="50.0" x2="305.5" y2="56.5" stroke="#333" stroke-width="1.1"/>
<text x="306.8" y="723.5" font-size="20" text-anchor="middle" fill="#222" >800</text>
<line x1="356.0" y1="699.5" x2="356.0" y2="693.0" stroke="#333" stroke-width="1.1"/>
<line x1="356.0" y1="50.0" x2="356.0" y2="56.5" stroke="#333" stroke-width="1.1"/>
<text x="357.3" y="723.5" font-size="20" text-anchor="middle" fill="#222" >1000</text>
<line x1="406.5" y1="699.5" x2="406.5" y2="693.0" stroke="#333" stroke-width="1.1"/>
<line x1="406.5" y1="50.0" x2="406.5" y2="56.5" stroke="#333" stroke-width="1.1"/>
<text x="407.8" y="723.5" font-size="20" text-anchor="middle" fill="#222" >1200</text>
<line x1="457.0" y1="699.5" x2="457.0" y2="693.0" stroke="#333" stroke-width="1.1"/>
<line x1="457.0" y1="50.0" x2="457.0" y2="56.5" stroke="#333" stroke-width="1.1"/>
<text x="458.3" y="723.5" font-size="20" text-anchor="middle" fill="#222" >1400</text>
<line x1="507.5" y1="699.5" x2="507.5" y2="693.0" stroke="#333" stroke-width="1.1"/>
<line x1="507.5" y1="50.0" x2="507.5" y2="56.5" stroke="#333" stroke-width="1.1"/>
<text x="508.8" y="723.5" font-size="20" text-anchor="middle" fill="#222" >1600</text>
<line x1="103.5" y1="177.9" x2="110.0" y2="177.9" stroke="#333" stroke-width="1.1"/>
<line x1="536.7" y1="177.9" x2="530.2" y2="177.9" stroke="#333" stroke-width="1.1"/>
<text x="98.3" y="184.9" font-size="20" text-anchor="end" fill="#222" >500</text>
<line x1="103.5" y1="304.1" x2="110.0" y2="304.1" stroke="#333" stroke-width="1.1"/>
<line x1="536.7" y1="304.1" x2="530.2" y2="304.1" stroke="#333" stroke-width="1.1"/>
<text x="98.3" y="311.1" font-size="20" text-anchor="end" fill="#222" >1000</text>
<line x1="103.5" y1="430.3" x2="110.0" y2="430.3" stroke="#333" stroke-width="1.1"/>
<line x1="536.7" y1="430.3" x2="530.2" y2="430.3" stroke="#333" stroke-width="1.1"/>
<text x="98.3" y="437.3" font-size="20" text-anchor="end" fill="#222" >1500</text>
<line x1="103.5" y1="556.4" x2="110.0" y2="556.4" stroke="#333" stroke-width="1.1"/>
<line x1="536.7" y1="556.4" x2="530.2" y2="556.4" stroke="#333" stroke-width="1.1"/>
<text x="98.3" y="563.4" font-size="20" text-anchor="end" fill="#222" >2000</text>
<line x1="103.5" y1="682.6" x2="110.0" y2="682.6" stroke="#333" stroke-width="1.1"/>
<line x1="536.7" y1="682.6" x2="530.2" y2="682.6" stroke="#333" stroke-width="1.1"/>
<text x="98.3" y="689.6" font-size="20" text-anchor="end" fill="#222" >2500</text>
<rect x="103.5" y="50.0" width="433.2" height="649.5" fill="none" stroke="#555" stroke-width="1.2"/>
<line x1="605.8" y1="699.5" x2="605.8" y2="693.0" stroke="#333" stroke-width="1.1"/>
<line x1="605.8" y1="50.0" x2="605.8" y2="56.5" stroke="#333" stroke-width="1.1"/>
<text x="607.1" y="723.5" font-size="20" text-anchor="middle" fill="#222" >200</text>
<line x1="656.3" y1="699.5" x2="656.3" y2="693.0" stroke="#333" stroke-width="1.1"/>
<line x1="656.3" y1="50.0" x2="656.3" y2="56.5" stroke="#333" stroke-width="1.1"/>
<text x="657.6" y="723.5" font-size="20" text-anchor="middle" fill="#222" >400</text>
<line x1="706.8" y1="699.5" x2="706.8" y2="693.0" stroke="#333" stroke-width="1.1"/>
<line x1="706.8" y1="50.0" x2="706.8" y2="56.5" stroke="#333" stroke-width="1.1"/>
<text x="708.1" y="723.5" font-size="20" text-anchor="middle" fill="#222" >600</text>
<line x1="757.3" y1="699.5" x2="757.3" y2="693.0" stroke="#333" stroke-width="1.1"/>
<line x1="757.3" y1="50.0" x2="757.3" y2="56.5" stroke="#333" stroke-width="1.1"/>
<text x="758.6" y="723.5" font-size="20" text-anchor="middle" fill="#222" >800</text>
<line x1="807.8" y1="699.5" x2="807.8" y2="693.0" stroke="#333" stroke-width="1.1"/>
<line x1="807.8" y1="50.0" x2="807.8" y2="56.5" stroke="#333" stroke-width="1.1"/>
<text x="809.1" y="723.5" font-size="20" text-anchor="middle" fill="#222" >1000</text>
<line x1="858.3" y1="699.5" x2="858.3" y2="693.0" stroke="#333" stroke-width="1.1"/>
<line x1="858.3" y1="50.0" x2="858.3" y2="56.5" stroke="#333" stroke-width="1.1"/>
<text x="859.6" y="723.5" font-size="20" text-anchor="middle" fill="#222" >1200</text>
<line x1="908.8" y1="699.5" x2="908.8" y2="693.0" stroke="#333" stroke-width="1.1"/>
<line x1="908.8" y1="50.0" x2="908.8" y2="56.5" stroke="#333" stroke-width="1.1"/>
<text x="910.1" y="723.5" font-size="20" text-anchor="middle" fill="#222" >1400</text>
<line x1="959.3" y1="699.5" x2="959.3" y2="693.0" stroke="#333" stroke-width="1.1"/>
<line x1="959.3" y1="50.0" x2="959.3" y2="56.5" stroke="#333" stroke-width="1.1"/>
<text x="960.6" y="723.5" font-size="20" text-anchor="middle" fill="#222" >1600</text>
<line x1="555.2" y1="177.9" x2="561.7" y2="177.9" stroke="#333" stroke-width="1.1"/>
<line x1="988.5" y1="177.9" x2="982.0" y2="177.9" stroke="#333" stroke-width="1.1"/>
<line x1="555.2" y1="304.1" x2="561.7" y2="304.1" stroke="#333" stroke-width="1.1"/>
<line x1="988.5" y1="304.1" x2="982.0" y2="304.1" stroke="#333" stroke-width="1.1"/>
<line x1="555.2" y1="430.3" x2="561.7" y2="430.3" stroke="#333" stroke-width="1.1"/>
<line x1="988.5" y1="430.3" x2="982.0" y2="430.3" stroke="#333" stroke-width="1.1"/>
<line x1="555.2" y1="556.4" x2="561.7" y2="556.4" stroke="#333" stroke-width="1.1"/>
<line x1="988.5" y1="556.4" x2="982.0" y2="556.4" stroke="#333" stroke-width="1.1"/>
<line x1="555.2" y1="682.6" x2="561.7" y2="682.6" stroke="#333" stroke-width="1.1"/>
<line x1="988.5" y1="682.6" x2="982.0" y2="682.6" stroke="#333" stroke-width="1.1"/>
<rect x="555.2" y="50.0" width="433.3" height="649.5" fill="none" stroke="#555" stroke-width="1.2"/>
<line x1="1055.8" y1="699.5" x2="1055.8" y2="693.0" stroke="#333" stroke-width="1.1"/>
<line x1="1055.8" y1="50.0" x2="1055.8" y2="56.5" stroke="#333" stroke-width="1.1"/>
<text x="1057.1" y="723.5" font-size="20" text-anchor="middle" fill="#222" >200</text>
<line x1="1106.3" y1="699.5" x2="1106.3" y2="693.0" stroke="#333" stroke-width="1.1"/>
<line x1="1106.3" y1="50.0" x2="1106.3" y2="56.5" stroke="#333" stroke-width="1.1"/>
<text x="1107.6" y="723.5" font-size="20" text-anchor="middle" fill="#222" >400</text>
<line x1="1156.8" y1="699.5" x2="1156.8" y2="693.0" stroke="#333" stroke-width="1.1"/>
<line x1="1156.8" y1="50.0" x2="1156.8" y2="56.5" stroke="#333" stroke-width="1.1"/>
<text x="1158.1" y="723.5" font-size="20" text-anchor="middle" fill="#222" >600</text>
<line x1="1207.3" y1="699.5" x2="1207.3" y2="693.0" stroke="#333" stroke-width="1.1"/>
<line x1="1207.3" y1="50.0" x2="1207.3" y2="56.5" stroke="#333" stroke-width="1.1"/>
<text x="1208.6" y="723.5" font-size="20" text-anchor="middle" fill="#222" >800</text>
<line x1="1257.8" y1="699.5" x2="1257.8" y2="693.0" stroke="#333" stroke-width="1.1"/>
<line x1="1257.8" y1="50.0" x2="1257.8" y2="56.5" stroke="#333" stroke-width="1.1"/>
<text x="1259.1" y="723.5" font-size="20" text-anchor="middle" fill="#222" >1000</text>
<line x1="1308.3" y1="699.5" x2="1308.3" y2="693.0" stroke="#333" stroke-width="1.1"/>
<line x1="1308.3" y1="50.0" x2="1308.3" y2="56.5" stroke="#333" stroke-width="1.1"/>
<text x="1309.6" y="723.5" font-size="20" text-anchor="middle" fill="#222" >1200</text>
<line x1="1358.8" y1="699.5" x2="1358.8" y2="693.0" stroke="#333" stroke-width="1.1"/>
<line x1="1358.8" y1="50.0" x2="1358.8" y2="56.5" stroke="#333" stroke-width="1.1"/>
<text x="1360.1" y="723.5" font-size="20" text-anchor="middle" fill="#222" >1400</text>
<line x1="1409.3" y1="699.5" x2="1409.3" y2="693.0" stroke="#333" stroke-width="1.1"/>
<line x1="1409.3" y1="50.0" x2="1409.3" y2="56.5" stroke="#333" stroke-width="1.1"/>
<text x="1410.6" y="723.5" font-size="20" text-anchor="middle" fill="#222" >1600</text>
<line x1="1005.2" y1="177.9" x2="1011.7" y2="177.9" stroke="#333" stroke-width="1.1"/>
<line x1="1438.5" y1="177.9" x2="1432.0" y2="177.9" stroke="#333" stroke-width="1.1"/>
<line x1="1005.2" y1="304.1" x2="1011.7" y2="304.1" stroke="#333" stroke-width="1.1"/>
<line x1="1438.5" y1="304.1" x2="1432.0" y2="304.1" stroke="#333" stroke-width="1.1"/>
<line x1="1005.2" y1="430.3" x2="1011.7" y2="430.3" stroke="#333" stroke-width="1.1"/>
<line x1="1438.5" y1="430.3" x2="1432.0" y2="430.3" stroke="#333" stroke-width="1.1"/>
<line x1="1005.2" y1="556.4" x2="1011.7" y2="556.4" stroke="#333" stroke-width="1.1"/>
<line x1="1438.5" y1="556.4" x2="1432.0" y2="556.4" stroke="#333" stroke-width="1.1"/>
<line x1="1005.2" y1="682.6" x2="1011.7" y2="682.6" stroke="#333" stroke-width="1.1"/>
<line x1="1438.5" y1="682.6" x2="1432.0" y2="682.6" stroke="#333" stroke-width="1.1"/>
<rect x="1005.2" y="50.0" width="433.3" height="649.5" fill="none" stroke="#555" stroke-width="1.2"/>
<line x1="188.2" y1="1145.7" x2="188.2" y2="1139.2" stroke="#333" stroke-width="1.1"/>
<line x1="188.2" y1="800.0" x2="188.2" y2="806.5" stroke="#333" stroke-width="1.1"/>
<text x="186.0" y="1166.5" font-size="20" text-anchor="middle" fill="#222" >500</text>
<line x1="274.4" y1="1145.7" x2="274.4" y2="1139.2" stroke="#333" stroke-width="1.1"/>
<line x1="274.4" y1="800.0" x2="274.4" y2="806.5" stroke="#333" stroke-width="1.1"/>
<text x="272.2" y="1166.5" font-size="20" text-anchor="middle" fill="#222" >1000</text>
<line x1="360.6" y1="1145.7" x2="360.6" y2="1139.2" stroke="#333" stroke-width="1.1"/>
<line x1="360.6" y1="800.0" x2="360.6" y2="806.5" stroke="#333" stroke-width="1.1"/>
<text x="358.4" y="1166.5" font-size="20" text-anchor="middle" fill="#222" >1500</text>
<line x1="446.8" y1="1145.7" x2="446.8" y2="1139.2" stroke="#333" stroke-width="1.1"/>
<line x1="446.8" y1="800.0" x2="446.8" y2="806.5" stroke="#333" stroke-width="1.1"/>
<text x="444.6" y="1166.5" font-size="20" text-anchor="middle" fill="#222" >2000</text>
<line x1="533.0" y1="1145.7" x2="533.0" y2="1139.2" stroke="#333" stroke-width="1.1"/>
<line x1="533.0" y1="800.0" x2="533.0" y2="806.5" stroke="#333" stroke-width="1.1"/>
<text x="530.8" y="1166.5" font-size="20" text-anchor="middle" fill="#222" >2500</text>
<line x1="102.0" y1="886.4" x2="108.5" y2="886.4" stroke="#333" stroke-width="1.1"/>
<line x1="533.0" y1="886.4" x2="526.5" y2="886.4" stroke="#333" stroke-width="1.1"/>
<text x="100.0" y="893.4" font-size="20" text-anchor="end" fill="#222" >500</text>
<line x1="102.0" y1="972.9" x2="108.5" y2="972.9" stroke="#333" stroke-width="1.1"/>
<line x1="533.0" y1="972.9" x2="526.5" y2="972.9" stroke="#333" stroke-width="1.1"/>
<text x="100.0" y="979.9" font-size="20" text-anchor="end" fill="#222" >1000</text>
<line x1="102.0" y1="1059.3" x2="108.5" y2="1059.3" stroke="#333" stroke-width="1.1"/>
<line x1="533.0" y1="1059.3" x2="526.5" y2="1059.3" stroke="#333" stroke-width="1.1"/>
<text x="100.0" y="1066.3" font-size="20" text-anchor="end" fill="#222" >1500</text>
<line x1="102.0" y1="1145.7" x2="108.5" y2="1145.7" stroke="#333" stroke-width="1.1"/>
<line x1="533.0" y1="1145.7" x2="526.5" y2="1145.7" stroke="#333" stroke-width="1.1"/>
<text x="100.0" y="1152.7" font-size="20" text-anchor="end" fill="#222" >2000</text>
<rect x="102.0" y="800.0" width="431.0" height="345.7" fill="none" stroke="#555" stroke-width="1.2"/>
<line x1="643.6" y1="1148.3" x2="643.6" y2="1141.8" stroke="#333" stroke-width="1.1"/>
<line x1="643.6" y1="802.2" x2="643.6" y2="808.7" stroke="#333" stroke-width="1.1"/>
<text x="642.3" y="1168.3" font-size="20" text-anchor="middle" fill="#222" >500</text>
<line x1="729.9" y1="1148.3" x2="729.9" y2="1141.8" stroke="#333" stroke-width="1.1"/>
<line x1="729.9" y1="802.2" x2="729.9" y2="808.7" stroke="#333" stroke-width="1.1"/>
<text x="728.6" y="1168.3" font-size="20" text-anchor="middle" fill="#222" >1000</text>
<line x1="816.1" y1="1148.3" x2="816.1" y2="1141.8" stroke="#333" stroke-width="1.1"/>
<line x1="816.1" y1="802.2" x2="816.1" y2="808.7" stroke="#333" stroke-width="1.1"/>
<text x="814.8" y="1168.3" font-size="20" text-anchor="middle" fill="#222" >1500</text>
<line x1="902.4" y1="1148.3" x2="902.4" y2="1141.8" stroke="#333" stroke-width="1.1"/>
<line x1="902.4" y1="802.2" x2="902.4" y2="808.7" stroke="#333" stroke-width="1.1"/>
<text x="901.1" y="1168.3" font-size="20" text-anchor="middle" fill="#222" >2000</text>
<line x1="988.7" y1="1148.3" x2="988.7" y2="1141.8" stroke="#333" stroke-width="1.1"/>
<line x1="988.7" y1="802.2" x2="988.7" y2="808.7" stroke="#333" stroke-width="1.1"/>
<text x="987.4" y="1168.3" font-size="20" text-anchor="middle" fill="#222" >2500</text>
<line x1="557.3" y1="888.7" x2="563.8" y2="888.7" stroke="#333" stroke-width="1.1"/>
<line x1="988.7" y1="888.7" x2="982.2" y2="888.7" stroke="#333" stroke-width="1.1"/>
<line x1="557.3" y1="975.2" x2="563.8" y2="975.2" stroke="#333" stroke-width="1.1"/>
<line x1="988.7" y1="975.2" x2="982.2" y2="975.2" stroke="#333" stroke-width="1.1"/>
<line x1="557.3" y1="1061.8" x2="563.8" y2="1061.8" stroke="#333" stroke-width="1.1"/>
<line x1="988.7" y1="1061.8" x2="982.2" y2="1061.8" stroke="#333" stroke-width="1.1"/>
<line x1="557.3" y1="1148.3" x2="563.8" y2="1148.3" stroke="#333" stroke-width="1.1"/>
<line x1="988.7" y1="1148.3" x2="982.2" y2="1148.3" stroke="#333" stroke-width="1.1"/>
<rect x="557.3" y="802.2" width="431.4" height="346.1" fill="none" stroke="#555" stroke-width="1.2"/>
<line x1="1106.3" y1="1148.2" x2="1106.3" y2="1141.7" stroke="#333" stroke-width="1.1"/>
<line x1="1106.3" y1="802.2" x2="1106.3" y2="808.7" stroke="#333" stroke-width="1.1"/>
<text x="1105.6" y="1168.3" font-size="20" text-anchor="middle" fill="#222" >500</text>
<line x1="1192.6" y1="1148.2" x2="1192.6" y2="1141.7" stroke="#333" stroke-width="1.1"/>
<line x1="1192.6" y1="802.2" x2="1192.6" y2="808.7" stroke="#333" stroke-width="1.1"/>
<text x="1191.9" y="1168.3" font-size="20" text-anchor="middle" fill="#222" >1000</text>
<line x1="1278.8" y1="1148.2" x2="1278.8" y2="1141.7" stroke="#333" stroke-width="1.1"/>
<line x1="1278.8" y1="802.2" x2="1278.8" y2="808.7" stroke="#333" stroke-width="1.1"/>
<text x="1278.1" y="1168.3" font-size="20" text-anchor="middle" fill="#222" >1500</text>
<line x1="1365.1" y1="1148.2" x2="1365.1" y2="1141.7" stroke="#333" stroke-width="1.1"/>
<line x1="1365.1" y1="802.2" x2="1365.1" y2="808.7" stroke="#333" stroke-width="1.1"/>
<text x="1364.4" y="1168.3" font-size="20" text-anchor="middle" fill="#222" >2000</text>
<line x1="1451.4" y1="1148.2" x2="1451.4" y2="1141.7" stroke="#333" stroke-width="1.1"/>
<line x1="1451.4" y1="802.2" x2="1451.4" y2="808.7" stroke="#333" stroke-width="1.1"/>
<text x="1450.7" y="1168.3" font-size="20" text-anchor="middle" fill="#222" >2500</text>
<line x1="1020.0" y1="888.7" x2="1026.5" y2="888.7" stroke="#333" stroke-width="1.1"/>
<line x1="1451.4" y1="888.7" x2="1444.9" y2="888.7" stroke="#333" stroke-width="1.1"/>
<line x1="1020.0" y1="975.2" x2="1026.5" y2="975.2" stroke="#333" stroke-width="1.1"/>
<line x1="1451.4" y1="975.2" x2="1444.9" y2="975.2" stroke="#333" stroke-width="1.1"/>
<line x1="1020.0" y1="1061.7" x2="1026.5" y2="1061.7" stroke="#333" stroke-width="1.1"/>
<line x1="1451.4" y1="1061.7" x2="1444.9" y2="1061.7" stroke="#333" stroke-width="1.1"/>
<line x1="1020.0" y1="1148.2" x2="1026.5" y2="1148.2" stroke="#333" stroke-width="1.1"/>
<line x1="1451.4" y1="1148.2" x2="1444.9" y2="1148.2" stroke="#333" stroke-width="1.1"/>
<rect x="1020.0" y="802.2" width="431.4" height="346.0" fill="none" stroke="#555" stroke-width="1.2"/>
<text x="170.4" y="42.5" font-size="23.2" text-anchor="start" fill="#000" >Interferogram: Tibet Plateau</text>
<text x="666.2" y="41.6" font-size="23.0" text-anchor="start" fill="#000" >Coherence &gt; 0.624</text>
<text x="1174.4" y="41.9" font-size="23.2" text-anchor="start" fill="#000" >Mask Net</text>
<text x="167.5" y="792.7" font-size="23.3" text-anchor="start" fill="#000" >Interferogram: Taihu Lake</text>
<text x="683.1" y="792.8" font-size="23.1" text-anchor="start" fill="#000" >Coherence &gt; 0.589</text>
<text x="1176.8" y="793.0" font-size="23.2" text-anchor="start" fill="#000" >Mask Net</text>
<text x="290.8" y="748.5" font-size="22.5" text-anchor="middle" fill="#222" >Range (pixel)</text>
<text x="773.4" y="748.5" font-size="22.5" text-anchor="middle" fill="#222" >Range (pixel)</text>
<text x="1235.0" y="748.5" font-size="22.5" text-anchor="middle" fill="#222" >Range (pixel)</text>
<text x="282.7" y="1195.0" font-size="22.5" text-anchor="middle" fill="#222" >Range (pixel)</text>
<text x="765.8" y="1195.0" font-size="22.5" text-anchor="middle" fill="#222" >Range (pixel)</text>
<text x="1227.2" y="1195.0" font-size="22.5" text-anchor="middle" fill="#222" >Range (pixel)</text>
<text x="0" y="0" font-size="23" text-anchor="middle" fill="#222" transform="translate(26.6 353) rotate(90)">Azimuth (pixel)</text>
<text x="0" y="0" font-size="24" text-anchor="middle" fill="#222" transform="translate(35 971.8) rotate(90)">Azimuth (pixel)</text>
<g fill="#7f7f7f" stroke="#000" stroke-width="1"><rect x="1496.50" y="597.50" width="4.01" height="0.50" /><rect x="1501.51" y="597.00" width="4.01" height="1.00" /><rect x="1506.52" y="596.50" width="4.01" height="1.50" /><rect x="1511.53" y="595.70" width="4.01" height="2.30" /><rect x="1516.54" y="595.00" width="4.01" height="3.00" /><rect x="1521.55" y="594.30" width="4.01" height="3.70" /><rect x="1526.56" y="593.60" width="4.01" height="4.40" /><rect x="1531.57" y="593.10" width="4.01" height="4.90" /><rect x="1536.58" y="592.70" width="4.01" height="5.30" /><rect x="1541.59" y="592.10" width="4.01" height="5.90" /><rect x="1546.60" y="591.60" width="4.01" height="6.40" /><rect x="1551.61" y="591.20" width="4.01" height="6.80" /><rect x="1556.62" y="590.80" width="4.01" height="7.20" /><rect x="1561.63" y="590.40" width="4.01" height="7.60" /><rect x="1566.64" y="590.10" width="4.01" height="7.90" /><rect x="1571.65" y="589.80" width="4.01" height="8.20" /><rect x="1576.66" y="589.60" width="4.01" height="8.40" /><rect x="1581.67" y="589.30" width="4.01" height="8.70" /><rect x="1586.68" y="589.10" width="4.01" height="8.90" /><rect x="1591.69" y="588.90" width="4.01" height="9.10" /><rect x="1596.70" y="588.80" width="4.01" height="9.20" /><rect x="1601.71" y="588.70" width="4.01" height="9.30" /><rect x="1606.72" y="588.60" width="4.01" height="9.40" /><rect x="1611.73" y="588.50" width="4.01" height="9.50" /><rect x="1616.74" y="588.50" width="4.01" height="9.50" /><rect x="1621.75" y="588.40" width="4.01" height="9.60" /><rect x="1626.76" y="588.20" width="4.01" height="9.80" /><rect x="1631.77" y="588.10" width="4.01" height="9.90" /><rect x="1636.78" y="588.10" width="4.01" height="9.90" /><rect x="1641.79" y="588.20" width="4.01" height="9.80" /><rect x="1646.80" y="588.30" width="4.01" height="9.70" /><rect x="1651.81" y="588.40" width="4.01" height="9.60" /><rect x="1656.82" y="588.50" width="4.01" height="9.50" /><rect x="1661.83" y="588.50" width="4.01" height="9.50" /><rect x="1666.84" y="588.60" width="4.01" height="9.40" /><rect x="1671.85" y="588.70" width="4.01" height="9.30" /><rect x="1676.86" y="588.80" width="4.01" height="9.20" /><rect x="1681.87" y="588.90" width="4.01" height="9.10" /><rect x="1686.88" y="589.00" width="4.01" height="9.00" /><rect x="1691.89" y="589.10" width="4.01" height="8.90" /><rect x="1696.90" y="589.20" width="4.01" height="8.80" /><rect x="1701.91" y="589.30" width="4.01" height="8.70" /><rect x="1706.92" y="589.40" width="4.01" height="8.60" /><rect x="1711.93" y="589.50" width="4.01" height="8.50" /><rect x="1716.94" y="589.50" width="4.01" height="8.50" /><rect x="1721.95" y="589.60" width="4.01" height="8.40" /><rect x="1726.96" y="589.60" width="4.01" height="8.40" /><rect x="1731.97" y="589.70" width="4.01" height="8.30" /><rect x="1736.98" y="589.70" width="4.01" height="8.30" /><rect x="1741.99" y="589.70" width="4.01" height="8.30" /><rect x="1747.00" y="589.80" width="4.01" height="8.20" /><rect x="1752.01" y="589.80" width="4.01" height="8.20" /><rect x="1757.02" y="589.80" width="4.01" height="8.20" /><rect x="1762.03" y="589.90" width="4.01" height="8.10" /><rect x="1767.04" y="589.90" width="4.01" height="8.10" /><rect x="1772.05" y="589.90" width="4.01" height="8.10" /><rect x="1777.06" y="589.90" width="4.01" height="8.10" /><rect x="1782.07" y="590.00" width="4.01" height="8.00" /><rect x="1787.08" y="590.00" width="4.01" height="8.00" /><rect x="1792.09" y="590.00" width="4.01" height="8.00" /><rect x="1797.10" y="590.00" width="4.01" height="8.00" /><rect x="1802.11" y="590.00" width="4.01" height="8.00" /><rect x="1807.12" y="590.00" width="4.01" height="8.00" /><rect x="1812.13" y="589.90" width="4.01" height="8.10" /><rect x="1817.14" y="589.80" width="4.01" height="8.20" /><rect x="1822.15" y="589.70" width="4.01" height="8.30" /><rect x="1827.16" y="589.50" width="4.01" height="8.50" /><rect x="1832.17" y="589.30" width="4.01" height="8.70" /><rect x="1837.18" y="589.10" width="4.01" height="8.90" /><rect x="1842.19" y="588.80" width="4.01" height="9.20" /><rect x="1847.20" y="588.60" width="4.01" height="9.40" /><rect x="1852.21" y="588.40" width="4.01" height="9.60" /><rect x="1857.22" y="588.20" width="4.01" height="9.80" /><rect x="1862.23" y="588.00" width="4.01" height="10.00" /><rect x="1867.24" y="587.80" width="4.01" height="10.20" /><rect x="1872.25" y="587.60" width="4.01" height="10.40" /><rect x="1877.26" y="587.30" width="4.01" height="10.70" /><rect x="1882.27" y="587.00" width="4.01" height="11.00" /><rect x="1887.28" y="586.70" width="4.01" height="11.30" /><rect x="1892.29" y="586.30" width="4.01" height="11.70" /><rect x="1897.30" y="585.90" width="4.01" height="12.10" /><rect x="1902.31" y="585.40" width="4.01" height="12.60" /><rect x="1907.32" y="584.90" width="4.01" height="13.10" /><rect x="1912.33" y="584.40" width="4.01" height="13.60" /><rect x="1917.34" y="583.70" width="4.01" height="14.30" /><rect x="1922.35" y="582.80" width="4.01" height="15.20" /><rect x="1927.36" y="581.60" width="4.01" height="16.40" /><rect x="1932.37" y="580.10" width="4.01" height="17.90" /><rect x="1937.38" y="578.30" width="4.01" height="19.70" /><rect x="1942.39" y="576.10" width="4.01" height="21.90" /><rect x="1947.40" y="573.30" width="4.01" height="24.70" /><rect x="1952.41" y="569.90" width="4.01" height="28.10" /><rect x="1957.42" y="565.50" width="4.01" height="32.50" /><rect x="1962.43" y="559.60" width="4.01" height="38.40" /><rect x="1967.44" y="551.10" width="4.01" height="46.90" /><rect x="1972.45" y="540.00" width="4.01" height="58.00" /><rect x="1977.46" y="521.90" width="4.01" height="76.10" /><rect x="1982.47" y="490.00" width="4.01" height="108.00" /><rect x="1987.48" y="417.00" width="4.01" height="181.00" /><rect x="1992.49" y="208.50" width="4.01" height="389.50" /></g>
<line x1="1808.6" y1="189" x2="1808.6" y2="597" stroke="#ff0000" stroke-width="2.2"/>
<rect x="1496" y="189" width="501" height="409" fill="none" stroke="#111" stroke-width="1.6"/>
<line x1="1496" y1="267.5" x2="1501.5" y2="267.5" stroke="#111" stroke-width="1.4"/>
<text x="1494" y="274.5" text-anchor="end" font-size="20" transform="translate(1494 0) scale(1.15 1) translate(-1494 0)" fill="#222">8.0</text>
<line x1="1496" y1="349.8" x2="1501.5" y2="349.8" stroke="#111" stroke-width="1.4"/>
<text x="1494" y="356.8" text-anchor="end" font-size="20" transform="translate(1494 0) scale(1.15 1) translate(-1494 0)" fill="#222">6.0</text>
<line x1="1496" y1="432.5" x2="1501.5" y2="432.5" stroke="#111" stroke-width="1.4"/>
<text x="1494" y="439.5" text-anchor="end" font-size="20" transform="translate(1494 0) scale(1.15 1) translate(-1494 0)" fill="#222">4.0</text>
<line x1="1496" y1="514.8" x2="1501.5" y2="514.8" stroke="#111" stroke-width="1.4"/>
<text x="1494" y="521.8" text-anchor="end" font-size="20" transform="translate(1494 0) scale(1.15 1) translate(-1494 0)" fill="#222">2.0</text>
<text x="1494.0" y="621" text-anchor="middle" font-size="20" transform="translate(1494.0 0) scale(1.15 1) translate(-1494.0 0)" fill="#222">0.0</text>
<text x="1594.2" y="621" text-anchor="middle" font-size="20" transform="translate(1594.2 0) scale(1.15 1) translate(-1594.2 0)" fill="#222">0.2</text>
<text x="1694.4" y="621" text-anchor="middle" font-size="20" transform="translate(1694.4 0) scale(1.15 1) translate(-1694.4 0)" fill="#222">0.4</text>
<text x="1794.6" y="621" text-anchor="middle" font-size="20" transform="translate(1794.6 0) scale(1.15 1) translate(-1794.6 0)" fill="#222">0.6</text>
<text x="1894.8" y="621" text-anchor="middle" font-size="20" transform="translate(1894.8 0) scale(1.15 1) translate(-1894.8 0)" fill="#222">0.8</text>
<text x="1995.0" y="621" text-anchor="middle" font-size="20" transform="translate(1995.0 0) scale(1.15 1) translate(-1995.0 0)" fill="#222">1.0</text>
<text x="1757.0" y="176.9" text-anchor="middle" font-size="19.5" transform="translate(1757.0 0) scale(1.14 1) translate(-1757.0 0)" fill="#222">Histogram</text>
<text x="1760.0" y="647.5" text-anchor="middle" font-size="19.5" transform="translate(1760.0 0) scale(1.14 1) translate(-1760.0 0)" fill="#222">Coherence</text>
<text x="1566" y="375" font-size="23" fill="#000">Threshold: 0.624</text>
<text x="1500" y="183" font-size="20" transform="translate(1500 0) scale(1.12 1) translate(-1500 0)" fill="#222">x10<tspan font-size="13" dy="-9">5</tspan></text>
<g fill="#7f7f7f" stroke="#000" stroke-width="1"><rect x="1498.50" y="1141.90" width="4.00" height="2.10" /><rect x="1503.50" y="1137.70" width="4.00" height="6.30" /><rect x="1508.50" y="1133.60" width="4.00" height="10.40" /><rect x="1513.50" y="1129.60" width="4.00" height="14.40" /><rect x="1518.50" y="1125.10" width="4.00" height="18.90" /><rect x="1523.50" y="1121.40" width="4.00" height="22.60" /><rect x="1528.50" y="1117.80" width="4.00" height="26.20" /><rect x="1533.50" y="1114.60" width="4.00" height="29.40" /><rect x="1538.50" y="1111.60" width="4.00" height="32.40" /><rect x="1543.50" y="1108.10" width="4.00" height="35.90" /><rect x="1548.50" y="1105.20" width="4.00" height="38.80" /><rect x="1553.50" y="1103.00" width="4.00" height="41.00" /><rect x="1558.50" y="1100.80" width="4.00" height="43.20" /><rect x="1563.50" y="1098.80" width="4.00" height="45.20" /><rect x="1568.50" y="1096.60" width="4.00" height="47.40" /><rect x="1573.50" y="1095.10" width="4.00" height="48.90" /><rect x="1578.50" y="1094.00" width="4.00" height="50.00" /><rect x="1583.50" y="1093.40" width="4.00" height="50.60" /><rect x="1588.50" y="1092.70" width="4.00" height="51.30" /><rect x="1593.50" y="1092.10" width="4.00" height="51.90" /><rect x="1598.50" y="1091.70" width="4.00" height="52.30" /><rect x="1603.50" y="1091.70" width="4.00" height="52.30" /><rect x="1608.50" y="1092.10" width="4.00" height="51.90" /><rect x="1613.50" y="1092.40" width="4.00" height="51.60" /><rect x="1618.50" y="1092.70" width="4.00" height="51.30" /><rect x="1623.50" y="1093.40" width="4.00" height="50.60" /><rect x="1628.50" y="1094.00" width="4.00" height="50.00" /><rect x="1633.50" y="1094.70" width="4.00" height="49.30" /><rect x="1638.50" y="1095.70" width="4.00" height="48.30" /><rect x="1643.50" y="1096.60" width="4.00" height="47.40" /><rect x="1648.50" y="1097.90" width="4.00" height="46.10" /><rect x="1653.50" y="1099.20" width="4.00" height="44.80" /><rect x="1658.50" y="1100.40" width="4.00" height="43.60" /><rect x="1663.50" y="1101.70" width="4.00" height="42.30" /><rect x="1668.50" y="1103.00" width="4.00" height="41.00" /><rect x="1673.50" y="1103.90" width="4.00" height="40.10" /><rect x="1678.50" y="1105.00" width="4.00" height="39.00" /><rect x="1683.50" y="1106.20" width="4.00" height="37.80" /><rect x="1688.50" y="1107.30" width="4.00" height="36.70" /><rect x="1693.50" y="1108.10" width="4.00" height="35.90" /><rect x="1698.50" y="1109.10" width="4.00" height="34.90" /><rect x="1703.50" y="1110.10" width="4.00" height="33.90" /><rect x="1708.50" y="1111.10" width="4.00" height="32.90" /><rect x="1713.50" y="1112.00" width="4.00" height="32.00" /><rect x="1718.50" y="1112.60" width="4.00" height="31.40" /><rect x="1723.50" y="1113.30" width="4.00" height="30.70" /><rect x="1728.50" y="1113.90" width="4.00" height="30.10" /><rect x="1733.50" y="1114.30" width="4.00" height="29.70" /><rect x="1738.50" y="1114.80" width="4.00" height="29.20" /><rect x="1743.50" y="1115.30" width="4.00" height="28.70" /><rect x="1748.50" y="1115.80" width="4.00" height="28.20" /><rect x="1753.50" y="1116.20" width="4.00" height="27.80" /><rect x="1758.50" y="1116.50" width="4.00" height="27.50" /><rect x="1763.50" y="1116.80" width="4.00" height="27.20" /><rect x="1768.50" y="1117.00" width="4.00" height="27.00" /><rect x="1773.50" y="1117.10" width="4.00" height="26.90" /><rect x="1778.50" y="1117.10" width="4.00" height="26.90" /><rect x="1783.50" y="1117.00" width="4.00" height="27.00" /><rect x="1788.50" y="1116.80" width="4.00" height="27.20" /><rect x="1793.50" y="1116.50" width="4.00" height="27.50" /><rect x="1798.50" y="1116.00" width="4.00" height="28.00" /><rect x="1803.50" y="1115.50" width="4.00" height="28.50" /><rect x="1808.50" y="1114.90" width="4.00" height="29.10" /><rect x="1813.50" y="1114.30" width="4.00" height="29.70" /><rect x="1818.50" y="1113.60" width="4.00" height="30.40" /><rect x="1823.50" y="1113.00" width="4.00" height="31.00" /><rect x="1828.50" y="1112.40" width="4.00" height="31.60" /><rect x="1833.50" y="1111.40" width="4.00" height="32.60" /><rect x="1838.50" y="1110.20" width="4.00" height="33.80" /><rect x="1843.50" y="1108.90" width="4.00" height="35.10" /><rect x="1848.50" y="1108.10" width="4.00" height="35.90" /><rect x="1853.50" y="1106.80" width="4.00" height="37.20" /><rect x="1858.50" y="1105.20" width="4.00" height="38.80" /><rect x="1863.50" y="1104.00" width="4.00" height="40.00" /><rect x="1868.50" y="1102.10" width="4.00" height="41.90" /><rect x="1873.50" y="1100.90" width="4.00" height="43.10" /><rect x="1878.50" y="1097.80" width="4.00" height="46.20" /><rect x="1883.50" y="1095.20" width="4.00" height="48.80" /><rect x="1888.50" y="1093.00" width="4.00" height="51.00" /><rect x="1893.50" y="1089.50" width="4.00" height="54.50" /><rect x="1898.50" y="1086.80" width="4.00" height="57.20" /><rect x="1903.50" y="1082.30" width="4.00" height="61.70" /><rect x="1908.50" y="1077.30" width="4.00" height="66.70" /><rect x="1913.50" y="1072.00" width="4.00" height="72.00" /><rect x="1918.50" y="1065.60" width="4.00" height="78.40" /><rect x="1923.50" y="1058.50" width="4.00" height="85.50" /><rect x="1928.50" y="1049.70" width="4.00" height="94.30" /><rect x="1933.50" y="1038.50" width="4.00" height="105.50" /><rect x="1938.50" y="1024.90" width="4.00" height="119.10" /><rect x="1943.50" y="1008.60" width="4.00" height="135.40" /><rect x="1948.50" y="988.80" width="4.00" height="155.20" /><rect x="1953.50" y="963.30" width="4.00" height="180.70" /><rect x="1958.50" y="931.80" width="4.00" height="212.20" /><rect x="1963.50" y="895.50" width="4.00" height="248.50" /><rect x="1968.50" y="852.90" width="4.00" height="291.10" /><rect x="1973.50" y="806.50" width="4.00" height="337.50" /><rect x="1978.50" y="765.50" width="4.00" height="378.50" /><rect x="1983.50" y="748.80" width="4.00" height="395.20" /><rect x="1988.50" y="810.80" width="4.00" height="333.20" /><rect x="1993.50" y="1039.80" width="4.00" height="104.20" /></g>
<line x1="1792.5" y1="729" x2="1792.5" y2="1143" stroke="#ff0000" stroke-width="2.2"/>
<rect x="1498" y="729" width="500" height="415" fill="none" stroke="#111" stroke-width="1.6"/>
<line x1="1498" y1="759.1" x2="1503.5" y2="759.1" stroke="#111" stroke-width="1.4"/>
<text x="1496" y="766.1" text-anchor="end" font-size="20" transform="translate(1496 0) scale(1.15 1) translate(-1496 0)" fill="#222">3.0</text>
<line x1="1498" y1="823.1" x2="1503.5" y2="823.1" stroke="#111" stroke-width="1.4"/>
<text x="1496" y="830.1" text-anchor="end" font-size="20" transform="translate(1496 0) scale(1.15 1) translate(-1496 0)" fill="#222">2.5</text>
<line x1="1498" y1="887.5" x2="1503.5" y2="887.5" stroke="#111" stroke-width="1.4"/>
<text x="1496" y="894.5" text-anchor="end" font-size="20" transform="translate(1496 0) scale(1.15 1) translate(-1496 0)" fill="#222">2.0</text>
<line x1="1498" y1="951.9" x2="1503.5" y2="951.9" stroke="#111" stroke-width="1.4"/>
<text x="1496" y="958.9" text-anchor="end" font-size="20" transform="translate(1496 0) scale(1.15 1) translate(-1496 0)" fill="#222">1.5</text>
<line x1="1498" y1="1016.3" x2="1503.5" y2="1016.3" stroke="#111" stroke-width="1.4"/>
<text x="1496" y="1023.3" text-anchor="end" font-size="20" transform="translate(1496 0) scale(1.15 1) translate(-1496 0)" fill="#222">1.0</text>
<line x1="1498" y1="1080.2" x2="1503.5" y2="1080.2" stroke="#111" stroke-width="1.4"/>
<text x="1496" y="1087.2" text-anchor="end" font-size="20" transform="translate(1496 0) scale(1.15 1) translate(-1496 0)" fill="#222">0.5</text>
<text x="1496.0" y="1166" text-anchor="middle" font-size="20" transform="translate(1496.0 0) scale(1.15 1) translate(-1496.0 0)" fill="#222">0.0</text>
<text x="1596.0" y="1166" text-anchor="middle" font-size="20" transform="translate(1596.0 0) scale(1.15 1) translate(-1596.0 0)" fill="#222">0.2</text>
<text x="1696.0" y="1166" text-anchor="middle" font-size="20" transform="translate(1696.0 0) scale(1.15 1) translate(-1696.0 0)" fill="#222">0.4</text>
<text x="1796.0" y="1166" text-anchor="middle" font-size="20" transform="translate(1796.0 0) scale(1.15 1) translate(-1796.0 0)" fill="#222">0.6</text>
<text x="1896.0" y="1166" text-anchor="middle" font-size="20" transform="translate(1896.0 0) scale(1.15 1) translate(-1896.0 0)" fill="#222">0.8</text>
<text x="1996.0" y="1166" text-anchor="middle" font-size="20" transform="translate(1996.0 0) scale(1.15 1) translate(-1996.0 0)" fill="#222">1.0</text>
<text x="1757.0" y="720.2" text-anchor="middle" font-size="19.5" transform="translate(1757.0 0) scale(1.14 1) translate(-1757.0 0)" fill="#222">Histogram</text>
<text x="1760.0" y="1187" text-anchor="middle" font-size="19.5" transform="translate(1760.0 0) scale(1.14 1) translate(-1760.0 0)" fill="#222">Coherence</text>
<text x="1566.5" y="879.5" font-size="23" fill="#000">Threshold: 0.589</text>
<text x="1498" y="723.6" font-size="20" transform="translate(1498 0) scale(1.12 1) translate(-1498 0)" fill="#222">x10<tspan font-size="13" dy="-9">5</tspan></text>
</svg></body></html>
